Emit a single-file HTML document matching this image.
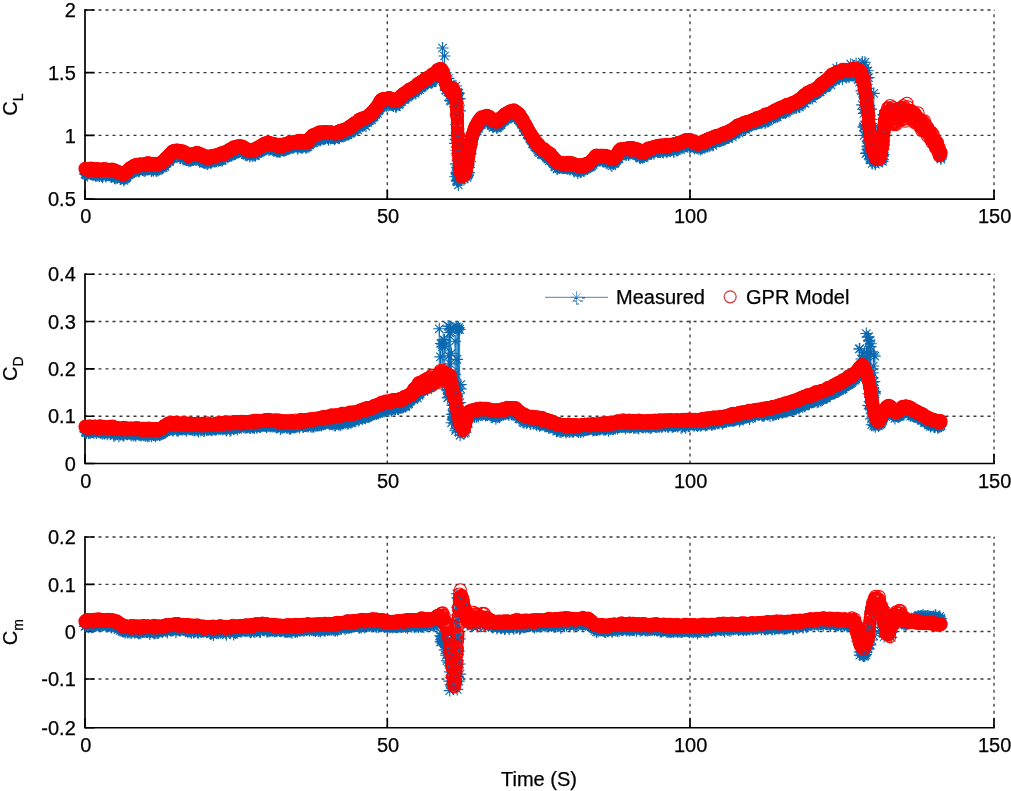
<!DOCTYPE html>
<html><head><meta charset="utf-8"><style>
html,body{margin:0;padding:0;background:#fff;}
body{width:1011px;height:791px;overflow:hidden;font-family:"Liberation Sans",sans-serif;}
svg{display:block;will-change:transform;}
</style></head><body>
<svg width="1011" height="791" viewBox="0 0 1011 791">
<defs>
<marker id="c" markerWidth="16" markerHeight="16" refX="8" refY="8" markerUnits="userSpaceOnUse" overflow="visible"><circle cx="8" cy="8" r="6" fill="none" stroke="#ff0000" stroke-width="1.1"/></marker>
<marker id="a" markerWidth="16" markerHeight="16" refX="8" refY="8" markerUnits="userSpaceOnUse" overflow="visible"><path d="M2 8H14M8 2V14M3.8 3.8L12.2 12.2M3.8 12.2L12.2 3.8" fill="none" stroke="#0a68b0" stroke-width="1.1"/></marker>
</defs>
<rect width="1011" height="791" fill="#fff"/>
<path d="M84.5 135.36H995.0" stroke="#383838" stroke-width="1.3" stroke-dasharray="3 4" fill="none"/>
<path d="M84.5 72.56H995.0" stroke="#383838" stroke-width="1.3" stroke-dasharray="3 4" fill="none"/>
<path d="M84.5 10.00H995.0" stroke="#383838" stroke-width="1.3" stroke-dasharray="3 4" fill="none"/>
<path d="M387.30 199.2V10.0" stroke="#383838" stroke-width="1.3" stroke-dasharray="3 4" fill="none"/>
<path d="M690.00 199.2V10.0" stroke="#383838" stroke-width="1.3" stroke-dasharray="3 4" fill="none"/>
<path d="M994.00 199.2V10.0" stroke="#383838" stroke-width="1.3" stroke-dasharray="3 4" fill="none"/>
<path d="M85.0 9.15V199.20H994.9" stroke="#000" stroke-width="1.7" fill="none"/>
<path d="M85.0 199.20h9.5M85.0 135.36h9.5M85.0 72.56h9.5M85.0 10.00h9.5M85.00 199.20v-9.5M387.30 199.20v-9.5M690.00 199.20v-9.5M994.00 199.20v-9.5" stroke="#000" stroke-width="1.7" fill="none"/>
<text x="75.8" y="206.3" text-anchor="end" font-family="Liberation Sans, sans-serif" stroke="#000" stroke-width="0.25" font-size="20">0.5</text>
<text x="75.8" y="142.5" text-anchor="end" font-family="Liberation Sans, sans-serif" stroke="#000" stroke-width="0.25" font-size="20">1</text>
<text x="75.8" y="79.7" text-anchor="end" font-family="Liberation Sans, sans-serif" stroke="#000" stroke-width="0.25" font-size="20">1.5</text>
<text x="75.8" y="17.1" text-anchor="end" font-family="Liberation Sans, sans-serif" stroke="#000" stroke-width="0.25" font-size="20">2</text>
<text x="85.7" y="223.4" text-anchor="middle" font-family="Liberation Sans, sans-serif" stroke="#000" stroke-width="0.25" font-size="20">0</text>
<text x="388.0" y="223.4" text-anchor="middle" font-family="Liberation Sans, sans-serif" stroke="#000" stroke-width="0.25" font-size="20">50</text>
<text x="690.7" y="223.4" text-anchor="middle" font-family="Liberation Sans, sans-serif" stroke="#000" stroke-width="0.25" font-size="20">100</text>
<text x="994.7" y="223.4" text-anchor="middle" font-family="Liberation Sans, sans-serif" stroke="#000" stroke-width="0.25" font-size="20">150</text>
<path d="M84.5 416.25H995.0" stroke="#383838" stroke-width="1.3" stroke-dasharray="3 4" fill="none"/>
<path d="M84.5 368.90H995.0" stroke="#383838" stroke-width="1.3" stroke-dasharray="3 4" fill="none"/>
<path d="M84.5 321.50H995.0" stroke="#383838" stroke-width="1.3" stroke-dasharray="3 4" fill="none"/>
<path d="M84.5 274.24H995.0" stroke="#383838" stroke-width="1.3" stroke-dasharray="3 4" fill="none"/>
<path d="M387.30 463.5V274.2" stroke="#383838" stroke-width="1.3" stroke-dasharray="3 4" fill="none"/>
<path d="M690.00 463.5V274.2" stroke="#383838" stroke-width="1.3" stroke-dasharray="3 4" fill="none"/>
<path d="M994.00 463.5V274.2" stroke="#383838" stroke-width="1.3" stroke-dasharray="3 4" fill="none"/>
<path d="M85.0 273.39V463.50H994.9" stroke="#000" stroke-width="1.7" fill="none"/>
<path d="M85.0 463.50h9.5M85.0 416.25h9.5M85.0 368.90h9.5M85.0 321.50h9.5M85.0 274.24h9.5M85.00 463.50v-9.5M994.00 463.50v-9.5" stroke="#000" stroke-width="1.7" fill="none"/>
<text x="75.8" y="470.6" text-anchor="end" font-family="Liberation Sans, sans-serif" stroke="#000" stroke-width="0.25" font-size="20">0</text>
<text x="75.8" y="423.4" text-anchor="end" font-family="Liberation Sans, sans-serif" stroke="#000" stroke-width="0.25" font-size="20">0.1</text>
<text x="75.8" y="376.0" text-anchor="end" font-family="Liberation Sans, sans-serif" stroke="#000" stroke-width="0.25" font-size="20">0.2</text>
<text x="75.8" y="328.6" text-anchor="end" font-family="Liberation Sans, sans-serif" stroke="#000" stroke-width="0.25" font-size="20">0.3</text>
<text x="75.8" y="281.3" text-anchor="end" font-family="Liberation Sans, sans-serif" stroke="#000" stroke-width="0.25" font-size="20">0.4</text>
<text x="85.7" y="487.7" text-anchor="middle" font-family="Liberation Sans, sans-serif" stroke="#000" stroke-width="0.25" font-size="20">0</text>
<text x="388.0" y="487.7" text-anchor="middle" font-family="Liberation Sans, sans-serif" stroke="#000" stroke-width="0.25" font-size="20">50</text>
<text x="690.7" y="487.7" text-anchor="middle" font-family="Liberation Sans, sans-serif" stroke="#000" stroke-width="0.25" font-size="20">100</text>
<text x="994.7" y="487.7" text-anchor="middle" font-family="Liberation Sans, sans-serif" stroke="#000" stroke-width="0.25" font-size="20">150</text>
<path d="M84.5 679.00H995.0" stroke="#383838" stroke-width="1.3" stroke-dasharray="3 4" fill="none"/>
<path d="M84.5 631.50H995.0" stroke="#383838" stroke-width="1.3" stroke-dasharray="3 4" fill="none"/>
<path d="M84.5 584.36H995.0" stroke="#383838" stroke-width="1.3" stroke-dasharray="3 4" fill="none"/>
<path d="M84.5 537.00H995.0" stroke="#383838" stroke-width="1.3" stroke-dasharray="3 4" fill="none"/>
<path d="M387.30 727.8V537.0" stroke="#383838" stroke-width="1.3" stroke-dasharray="3 4" fill="none"/>
<path d="M690.00 727.8V537.0" stroke="#383838" stroke-width="1.3" stroke-dasharray="3 4" fill="none"/>
<path d="M994.00 727.8V537.0" stroke="#383838" stroke-width="1.3" stroke-dasharray="3 4" fill="none"/>
<path d="M85.0 536.15V727.75H994.9" stroke="#000" stroke-width="1.7" fill="none"/>
<path d="M85.0 727.75h9.5M85.0 679.00h9.5M85.0 631.50h9.5M85.0 584.36h9.5M85.0 537.00h9.5M85.00 727.75v-9.5M387.30 727.75v-9.5M690.00 727.75v-9.5M994.00 727.75v-9.5" stroke="#000" stroke-width="1.7" fill="none"/>
<text x="75.8" y="734.9" text-anchor="end" font-family="Liberation Sans, sans-serif" stroke="#000" stroke-width="0.25" font-size="20">-0.2</text>
<text x="75.8" y="686.1" text-anchor="end" font-family="Liberation Sans, sans-serif" stroke="#000" stroke-width="0.25" font-size="20">-0.1</text>
<text x="75.8" y="638.6" text-anchor="end" font-family="Liberation Sans, sans-serif" stroke="#000" stroke-width="0.25" font-size="20">0</text>
<text x="75.8" y="591.5" text-anchor="end" font-family="Liberation Sans, sans-serif" stroke="#000" stroke-width="0.25" font-size="20">0.1</text>
<text x="75.8" y="544.1" text-anchor="end" font-family="Liberation Sans, sans-serif" stroke="#000" stroke-width="0.25" font-size="20">0.2</text>
<text x="85.7" y="752.0" text-anchor="middle" font-family="Liberation Sans, sans-serif" stroke="#000" stroke-width="0.25" font-size="20">0</text>
<text x="388.0" y="752.0" text-anchor="middle" font-family="Liberation Sans, sans-serif" stroke="#000" stroke-width="0.25" font-size="20">50</text>
<text x="690.7" y="752.0" text-anchor="middle" font-family="Liberation Sans, sans-serif" stroke="#000" stroke-width="0.25" font-size="20">100</text>
<text x="994.7" y="752.0" text-anchor="middle" font-family="Liberation Sans, sans-serif" stroke="#000" stroke-width="0.25" font-size="20">150</text>
<path d="M85.0 174.0L85.3 171.5L85.7 174.4L86.0 172.6L86.3 174.8L86.7 173.4L87.0 174.1L87.3 171.1L87.6 175.4L88.0 173.7L88.3 172.7L88.6 173.0L89.0 171.3L89.3 172.3L89.6 173.3L90.0 172.6L90.3 173.0L90.6 174.1L91.0 172.9L91.3 173.1L91.6 173.4L91.9 174.4L92.3 171.4L92.6 174.3L92.9 173.9L93.3 174.3L93.6 173.7L93.9 174.9L94.3 173.8L94.6 174.2L94.9 173.3L95.2 174.5L95.6 175.4L95.9 175.6L96.2 175.8L96.6 172.4L96.9 172.4L97.2 172.1L97.6 174.2L97.9 174.9L98.2 171.7L98.6 173.6L98.9 173.4L99.2 171.9L99.5 176.1L99.9 172.1L100.2 173.5L100.5 174.5L100.9 173.3L101.2 172.6L101.5 176.1L101.9 173.5L102.2 175.0L102.5 177.2L102.8 176.2L103.2 173.2L103.5 174.2L103.8 172.4L104.2 172.9L104.5 172.9L104.8 173.9L105.2 175.3L105.5 174.1L105.8 176.5L106.2 171.7L106.5 173.1L106.8 174.5L107.1 174.7L107.5 172.8L107.8 173.7L108.1 175.3L108.5 171.3L108.8 173.3L109.1 174.2L109.4 174.2L109.8 174.8L110.1 175.3L110.4 174.6L110.8 175.3L111.1 174.8L111.4 176.5L111.7 175.1L112.0 171.4L112.4 176.1L112.7 173.9L113.0 176.4L113.3 175.8L113.6 176.0L113.9 174.5L114.2 173.7L114.6 177.9L114.9 177.0L115.2 178.4L115.5 174.9L115.8 176.4L116.1 174.9L116.4 175.7L116.8 175.0L117.1 178.0L117.4 174.7L117.7 175.4L118.0 173.1L118.3 175.9L118.6 173.7L118.9 175.4L119.2 176.9L119.5 176.5L119.8 176.4L120.1 176.6L120.4 176.3L120.7 179.1L121.0 177.3L121.3 178.4L121.6 175.4L121.9 177.5L122.2 175.8L122.6 177.8L122.9 178.1L123.2 176.3L123.5 179.0L123.9 180.4L124.2 176.7L124.5 177.3L124.8 179.0L125.1 175.9L125.4 177.7L125.6 178.3L125.9 176.6L126.2 174.3L126.4 176.9L126.7 177.4L127.0 174.0L127.2 176.3L127.5 173.4L127.8 173.5L128.0 174.6L128.3 173.8L128.5 173.1L128.8 175.0L129.1 173.0L129.3 172.7L129.6 174.1L129.9 171.6L130.2 172.3L130.4 172.8L130.7 171.6L131.0 171.6L131.3 171.4L131.6 171.0L131.9 169.3L132.2 171.2L132.5 168.3L132.8 170.9L133.1 170.0L133.5 171.2L133.8 170.2L134.1 169.8L134.4 172.0L134.7 169.2L135.0 170.9L135.3 168.8L135.6 170.7L135.9 171.2L136.2 170.6L136.6 169.6L136.9 170.4L137.2 167.5L137.5 166.5L137.8 170.0L138.1 167.5L138.4 171.1L138.8 169.0L139.1 171.6L139.4 168.7L139.7 170.2L140.0 168.6L140.4 168.3L140.7 167.6L141.0 168.7L141.3 165.6L141.6 166.9L142.0 167.7L142.3 167.1L142.6 168.4L142.9 166.8L143.2 169.7L143.6 167.6L143.9 170.4L144.2 169.3L144.6 167.4L144.9 170.9L145.2 165.8L145.5 169.3L145.9 169.8L146.2 168.7L146.5 168.2L146.9 167.1L147.2 169.4L147.5 167.0L147.9 168.0L148.2 168.5L148.5 167.7L148.9 164.4L149.2 168.6L149.5 167.1L149.9 169.3L150.2 167.1L150.5 168.0L150.8 168.5L151.2 169.1L151.5 171.0L151.8 163.7L152.2 166.6L152.5 166.9L152.8 169.1L153.2 170.2L153.5 170.4L153.8 169.1L154.2 168.2L154.5 166.0L154.8 166.5L155.2 168.7L155.5 166.5L155.8 169.6L156.2 170.9L156.5 168.3L156.8 168.1L157.2 169.3L157.5 168.6L157.8 170.4L158.1 166.8L158.5 167.3L158.8 169.8L159.1 168.4L159.5 168.3L159.8 166.5L160.1 166.4L160.4 166.0L160.7 166.8L161.0 165.3L161.3 166.5L161.5 165.3L161.8 166.7L162.1 166.9L162.4 165.2L162.7 167.4L162.9 165.9L163.2 167.3L163.5 163.9L163.7 165.7L164.0 161.0L164.3 165.7L164.5 164.6L164.8 163.9L165.1 166.5L165.3 163.1L165.6 163.2L165.9 163.4L166.1 163.6L166.4 161.6L166.7 163.0L166.9 162.6L167.2 161.7L167.5 159.7L167.8 160.6L168.0 159.7L168.3 160.8L168.5 159.6L168.8 161.1L169.1 161.3L169.3 159.1L169.6 159.7L169.8 161.1L170.1 157.9L170.4 155.6L170.6 159.1L170.9 157.3L171.1 158.2L171.4 158.4L171.7 156.3L171.9 156.7L172.2 155.6L172.5 154.2L172.8 155.3L173.0 155.1L173.3 158.1L173.6 155.1L173.9 156.0L174.2 155.0L174.5 155.7L174.8 156.3L175.2 154.1L175.5 156.1L175.8 154.3L176.2 152.2L176.5 153.5L176.8 151.2L177.1 156.3L177.5 155.9L177.8 156.2L178.1 152.7L178.4 154.9L178.8 156.0L179.1 155.0L179.4 154.7L179.7 155.4L180.0 154.4L180.4 158.3L180.7 154.3L181.0 154.9L181.3 155.3L181.6 154.8L181.9 156.0L182.3 155.0L182.6 154.7L182.9 156.8L183.2 159.5L183.5 157.5L183.8 157.2L184.1 156.5L184.4 158.9L184.7 156.3L184.9 155.4L185.2 158.2L185.5 156.9L185.8 157.6L186.0 157.4L186.3 159.9L186.6 157.3L186.9 157.6L187.2 160.0L187.5 157.3L187.8 158.8L188.1 159.4L188.4 159.9L188.7 158.2L189.0 161.5L189.3 159.9L189.7 159.1L190.0 159.6L190.3 159.0L190.6 160.3L190.9 160.9L191.2 158.1L191.6 159.8L191.9 157.1L192.2 159.4L192.5 157.1L192.8 160.0L193.1 158.8L193.4 159.8L193.7 158.4L194.0 159.0L194.3 157.7L194.6 158.8L194.9 156.5L195.2 156.9L195.6 157.2L195.9 158.5L196.2 159.4L196.5 158.9L196.9 158.1L197.2 157.7L197.5 157.4L197.8 158.7L198.1 156.8L198.4 157.9L198.7 157.8L199.0 157.4L199.3 157.5L199.6 161.7L199.9 160.3L200.2 156.0L200.5 157.1L200.8 159.6L201.1 158.4L201.4 159.0L201.7 158.2L202.0 161.8L202.3 160.7L202.6 160.6L202.8 159.4L203.1 161.3L203.4 161.4L203.7 159.8L204.0 160.3L204.3 162.8L204.6 162.7L204.9 160.3L205.2 161.8L205.6 160.8L205.9 163.3L206.2 161.8L206.5 160.6L206.9 161.1L207.2 164.1L207.5 161.6L207.8 163.4L208.2 162.8L208.5 161.1L208.8 161.3L209.1 159.8L209.5 160.0L209.8 162.1L210.1 162.4L210.4 161.6L210.7 159.5L211.0 163.0L211.4 159.6L211.7 156.7L212.0 161.3L212.3 161.6L212.6 158.9L212.9 160.5L213.2 159.5L213.6 160.4L213.9 159.4L214.2 160.8L214.5 161.3L214.8 158.8L215.1 161.4L215.4 159.2L215.7 159.0L216.1 161.1L216.4 161.3L216.7 158.9L217.0 155.5L217.3 160.3L217.6 158.7L217.9 159.8L218.2 158.8L218.5 160.7L218.9 159.1L219.2 159.3L219.5 160.1L219.8 160.6L220.1 156.7L220.4 160.1L220.7 155.0L221.0 157.3L221.3 156.3L221.6 157.9L221.9 160.5L222.2 160.5L222.5 155.6L222.8 156.9L223.1 154.9L223.4 155.1L223.7 157.0L224.0 157.6L224.3 158.2L224.6 155.9L225.0 158.0L225.3 155.8L225.6 156.3L225.9 154.6L226.2 153.8L226.5 154.2L226.8 155.7L227.1 157.2L227.4 156.4L227.7 154.7L228.0 153.1L228.3 155.7L228.6 153.7L228.9 152.8L229.2 155.4L229.5 154.1L229.8 156.1L230.1 154.6L230.3 152.8L230.6 152.5L230.9 155.0L231.2 153.2L231.5 151.3L231.8 155.7L232.1 154.2L232.4 151.7L232.7 150.4L233.0 149.1L233.3 152.1L233.6 152.5L233.9 154.2L234.2 153.9L234.5 147.9L234.8 150.3L235.1 153.8L235.4 152.6L235.7 151.3L236.0 151.2L236.3 152.4L236.6 152.8L236.9 150.2L237.2 152.0L237.5 148.8L237.8 152.1L238.1 151.7L238.5 151.6L238.8 151.5L239.1 151.9L239.4 149.3L239.8 150.7L240.1 151.2L240.4 150.6L240.7 148.9L241.1 148.8L241.4 150.8L241.7 148.9L242.0 149.1L242.3 151.4L242.6 152.6L242.9 150.1L243.2 152.0L243.5 152.4L243.8 151.0L244.1 151.1L244.4 152.5L244.7 151.9L244.9 151.7L245.2 154.6L245.5 154.4L245.8 154.3L246.1 153.4L246.4 152.8L246.7 153.5L247.0 155.5L247.3 154.6L247.6 153.9L247.9 152.4L248.2 153.4L248.5 151.7L248.8 153.1L249.1 154.1L249.4 153.2L249.8 156.4L250.1 154.5L250.4 154.5L250.7 153.1L251.1 154.3L251.4 153.9L251.7 153.7L252.0 152.5L252.3 155.9L252.7 150.4L253.0 153.7L253.3 153.5L253.6 153.2L253.9 153.1L254.2 150.3L254.5 154.8L254.8 153.4L255.1 155.8L255.4 155.2L255.7 152.1L256.0 151.0L256.3 152.5L256.6 152.6L256.9 152.0L257.2 153.7L257.5 151.7L257.9 152.7L258.2 151.8L258.5 151.2L258.8 150.5L259.1 152.7L259.4 149.6L259.6 150.9L259.9 151.1L260.2 151.9L260.5 149.5L260.8 151.0L261.1 151.9L261.4 148.8L261.7 149.8L261.9 148.9L262.2 150.6L262.5 149.5L262.8 150.8L263.1 149.5L263.4 150.0L263.7 147.8L264.0 149.8L264.2 148.4L264.5 147.6L264.8 148.7L265.1 149.3L265.4 146.8L265.7 145.6L266.0 148.0L266.3 148.0L266.6 145.6L267.0 147.6L267.3 145.5L267.6 145.9L267.9 145.8L268.3 147.6L268.6 146.4L268.9 150.0L269.2 148.8L269.6 147.2L269.9 148.3L270.2 144.3L270.5 147.5L270.8 147.5L271.1 148.7L271.4 146.8L271.7 149.0L272.1 145.2L272.4 148.6L272.7 148.3L273.0 147.7L273.3 149.3L273.6 146.8L273.9 150.9L274.2 147.9L274.5 149.2L274.8 147.7L275.1 149.2L275.4 149.3L275.7 150.2L276.0 149.1L276.3 151.4L276.6 148.3L277.0 148.1L277.3 151.1L277.6 150.5L277.9 151.8L278.2 151.2L278.5 148.1L278.9 149.5L279.2 151.3L279.5 151.4L279.8 148.8L280.2 151.8L280.5 147.7L280.8 148.6L281.2 148.9L281.5 149.0L281.8 149.0L282.1 149.6L282.4 147.7L282.7 149.2L283.0 149.7L283.3 150.4L283.7 150.8L284.0 148.8L284.3 146.2L284.6 149.6L284.9 150.5L285.2 149.2L285.5 148.2L285.8 149.6L286.1 150.0L286.4 147.6L286.7 147.3L287.0 147.3L287.3 147.8L287.6 147.7L287.9 148.3L288.2 148.1L288.5 147.7L288.8 148.6L289.1 146.4L289.5 145.2L289.8 145.0L290.1 147.8L290.4 145.3L290.7 147.1L291.0 148.0L291.4 146.5L291.7 145.2L292.0 147.0L292.3 147.0L292.6 144.5L292.9 148.0L293.3 143.4L293.6 143.8L293.9 145.5L294.2 145.9L294.5 146.5L294.8 145.2L295.2 145.7L295.5 142.4L295.8 144.9L296.1 146.4L296.4 144.8L296.8 142.7L297.1 146.1L297.4 144.3L297.7 148.8L298.1 147.3L298.4 145.8L298.7 144.6L299.1 145.6L299.4 146.1L299.7 146.3L300.0 147.0L300.4 145.7L300.7 143.4L301.0 147.6L301.4 145.5L301.7 145.1L302.0 144.9L302.3 147.7L302.7 145.3L303.0 145.2L303.3 146.7L303.6 141.4L304.0 146.3L304.3 145.4L304.6 144.8L304.9 144.8L305.3 146.6L305.6 144.6L305.9 148.1L306.3 145.8L306.6 146.7L306.9 146.8L307.2 144.1L307.5 144.9L307.8 143.9L308.0 146.7L308.3 143.5L308.6 143.9L308.8 144.5L309.1 144.9L309.3 141.4L309.6 141.7L309.8 145.0L310.1 141.5L310.3 143.4L310.6 141.0L310.8 142.8L311.1 140.2L311.4 140.8L311.6 141.1L311.9 142.1L312.2 140.3L312.5 138.2L312.8 142.6L313.1 140.4L313.4 142.6L313.7 139.0L313.9 141.0L314.2 140.2L314.5 138.7L314.8 141.4L315.1 140.3L315.4 140.2L315.7 138.4L316.0 137.7L316.3 138.1L316.6 140.6L316.9 141.3L317.2 138.0L317.5 138.6L317.8 136.8L318.1 137.1L318.4 136.3L318.7 137.2L319.0 136.1L319.3 138.1L319.6 136.3L319.9 140.5L320.2 137.8L320.6 136.9L320.9 139.5L321.2 138.3L321.5 138.2L321.9 137.2L322.2 134.8L322.5 138.0L322.9 138.7L323.2 136.2L323.5 138.8L323.9 139.3L324.2 135.1L324.5 138.3L324.9 135.4L325.2 136.1L325.5 138.2L325.8 137.0L326.2 135.6L326.5 137.2L326.8 136.9L327.2 137.5L327.5 136.6L327.8 136.4L328.1 137.7L328.5 139.7L328.8 137.4L329.1 137.2L329.5 135.1L329.8 137.3L330.1 136.9L330.4 138.4L330.8 137.6L331.1 135.4L331.4 137.7L331.8 136.9L332.1 137.8L332.4 136.4L332.8 137.7L333.1 136.5L333.4 137.9L333.8 136.7L334.1 136.4L334.4 139.1L334.8 137.3L335.1 137.5L335.4 138.2L335.7 136.1L336.0 135.8L336.3 137.1L336.7 135.4L337.0 135.1L337.3 135.9L337.6 137.2L337.9 137.0L338.2 137.4L338.5 137.4L338.8 136.3L339.1 136.8L339.4 138.2L339.7 135.3L340.0 135.7L340.3 133.7L340.6 136.1L340.9 133.5L341.2 135.7L341.5 136.5L341.8 135.8L342.2 134.2L342.5 135.9L342.8 132.6L343.1 135.8L343.4 133.0L343.7 135.0L344.0 134.3L344.3 133.6L344.6 132.2L344.9 136.0L345.2 135.3L345.5 132.2L345.8 134.7L346.1 131.5L346.4 133.5L346.7 133.5L347.0 134.1L347.3 132.9L347.6 132.5L347.9 134.8L348.2 129.7L348.5 132.7L348.8 128.0L349.1 130.0L349.4 131.9L349.7 130.8L349.9 133.3L350.2 130.1L350.5 133.0L350.8 132.5L351.1 125.4L351.4 131.9L351.7 131.9L351.9 129.3L352.2 131.0L352.5 130.1L352.8 129.5L353.1 129.2L353.4 129.2L353.6 130.5L353.9 128.5L354.2 128.9L354.5 129.8L354.8 127.3L355.0 127.7L355.3 128.2L355.6 128.0L355.9 123.8L356.2 128.3L356.4 125.7L356.7 127.6L357.0 126.3L357.3 124.4L357.6 129.8L357.9 126.9L358.1 125.4L358.4 124.7L358.7 123.9L359.0 127.9L359.3 124.4L359.6 127.1L359.9 124.0L360.2 124.3L360.5 122.4L360.8 122.2L361.1 121.2L361.4 122.2L361.7 123.0L362.0 120.5L362.3 124.7L362.6 121.8L362.9 124.8L363.2 122.3L363.5 124.4L363.8 123.8L364.1 123.0L364.4 124.9L364.7 124.4L365.0 122.2L365.3 122.1L365.6 121.6L365.9 126.2L366.2 121.0L366.5 121.2L366.8 121.4L367.1 120.7L367.4 121.3L367.6 119.1L367.9 120.3L368.2 118.9L368.5 120.7L368.8 119.1L369.1 119.5L369.4 120.7L369.6 118.8L369.9 117.6L370.2 119.3L370.5 118.6L370.7 118.7L371.0 117.2L371.3 116.4L371.5 120.0L371.8 114.1L372.0 118.0L372.3 118.0L372.6 116.5L372.8 113.4L373.1 116.3L373.3 116.4L373.6 115.9L373.8 115.1L374.1 117.0L374.3 114.4L374.6 113.8L374.9 114.0L375.1 112.0L375.4 115.0L375.6 113.9L375.9 112.7L376.1 112.4L376.4 108.1L376.6 108.7L376.9 109.4L377.1 111.4L377.4 113.4L377.6 108.5L377.8 109.9L378.1 110.3L378.3 109.6L378.5 107.3L378.8 110.3L379.0 107.5L379.2 109.3L379.5 106.6L379.7 106.2L380.0 107.1L380.2 107.0L380.5 106.5L380.7 104.6L381.0 108.0L381.2 102.3L381.5 104.6L381.7 103.6L382.0 103.0L382.3 105.3L382.6 104.1L382.9 107.3L383.3 106.4L383.6 103.1L383.9 102.3L384.2 103.0L384.6 103.5L384.9 102.9L385.2 102.0L385.5 103.5L385.9 102.4L386.2 103.5L386.5 102.7L386.9 103.0L387.2 103.2L387.5 102.9L387.9 103.5L388.2 105.4L388.5 102.1L388.8 102.6L389.2 101.2L389.5 101.7L389.8 104.3L390.1 104.8L390.4 103.6L390.8 100.1L391.1 104.2L391.4 103.8L391.7 100.6L392.0 101.4L392.3 104.4L392.6 104.2L392.9 101.9L393.2 102.4L393.5 106.1L393.8 101.8L394.1 101.9L394.4 103.9L394.7 102.7L395.1 104.1L395.4 105.8L395.7 106.6L396.0 104.5L396.3 106.8L396.6 105.0L396.9 103.2L397.2 102.0L397.5 103.3L397.8 103.3L398.0 102.4L398.3 103.6L398.6 104.6L398.9 100.7L399.1 103.4L399.4 103.8L399.7 100.5L399.9 102.1L400.2 101.5L400.5 101.4L400.7 101.4L401.0 101.8L401.3 101.3L401.5 99.2L401.8 99.1L402.1 95.5L402.4 99.5L402.7 97.8L402.9 98.1L403.2 98.8L403.5 96.7L403.8 99.4L404.1 98.8L404.4 97.2L404.6 96.7L404.9 99.4L405.2 96.8L405.5 98.2L405.8 96.1L406.1 96.9L406.3 95.9L406.6 95.9L406.9 95.7L407.2 94.8L407.5 97.3L407.8 95.6L408.1 94.7L408.3 94.1L408.6 95.5L408.9 93.4L409.2 95.4L409.5 94.6L409.8 93.4L410.0 92.7L410.3 91.5L410.6 91.1L410.9 92.6L411.2 92.1L411.5 92.7L411.8 93.6L412.0 91.6L412.3 94.5L412.6 91.0L412.9 92.3L413.2 92.1L413.5 88.9L413.8 92.0L414.0 92.6L414.3 90.8L414.6 91.3L414.9 88.0L415.2 93.4L415.5 89.9L415.7 89.0L416.0 91.3L416.3 88.2L416.6 88.2L416.9 87.0L417.2 86.9L417.5 88.8L417.7 90.4L418.0 89.1L418.3 88.8L418.6 88.4L418.9 86.7L419.2 87.4L419.5 89.6L419.7 84.7L420.0 84.6L420.3 85.6L420.6 88.0L420.9 84.7L421.2 87.5L421.5 86.9L421.7 84.6L422.0 86.5L422.3 86.9L422.6 84.8L422.9 85.0L423.2 84.9L423.5 83.9L423.7 85.4L424.0 84.7L424.3 84.2L424.6 82.9L424.9 83.2L425.2 83.0L425.5 83.2L425.8 82.2L426.0 82.0L426.3 82.2L426.6 82.4L426.9 82.4L427.2 84.0L427.5 81.3L427.8 80.3L428.1 83.0L428.4 83.0L428.7 82.1L428.9 80.1L429.2 80.9L429.5 82.1L429.8 80.6L430.1 80.1L430.4 81.1L430.7 79.9L431.0 82.8L431.3 82.6L431.6 79.0L431.8 78.3L432.1 82.6L432.4 81.9L432.7 80.3L433.0 79.5L433.3 78.8L433.6 77.6L433.8 79.1L434.1 76.9L434.4 77.9L434.7 77.1L434.9 78.2L435.2 78.6L435.5 76.3L435.7 75.5L436.0 79.6L436.3 75.5L436.5 77.1L436.8 76.0L437.0 75.3L437.3 74.9L437.6 75.2L437.8 74.6L438.1 73.7L438.4 75.8L438.7 73.8L438.9 72.6L439.2 71.9L439.5 72.2L439.9 72.5L440.2 70.3L440.5 72.3L440.8 75.8L441.1 71.0L441.3 73.2L441.6 75.0L441.9 73.7L442.1 75.0L442.4 75.5L442.6 48.0L442.8 74.8L443.1 74.1L443.3 74.4L443.4 78.4L443.6 77.8L443.8 76.8L443.9 80.1L444.0 81.4L444.2 79.4L444.3 84.8L444.5 56.0L444.6 80.6L444.8 79.8L444.9 77.5L445.1 84.3L445.3 83.8L445.5 86.3L445.7 89.9L445.9 83.3L446.1 90.4L446.3 79.6L446.5 84.6L446.7 76.7L446.9 82.1L447.2 81.9L447.4 87.6L447.6 89.0L447.9 88.2L448.2 90.4L448.4 78.4L448.7 88.8L449.0 89.7L449.3 92.6L449.5 95.6L449.8 90.8L450.1 100.5L450.4 84.1L450.7 85.6L451.0 93.4L451.2 101.2L451.5 95.6L451.8 96.2L452.1 95.8L452.4 93.7L452.7 98.1L452.9 92.9L453.2 87.1L453.5 103.3L453.8 96.2L454.0 99.7L454.3 94.5L454.5 93.6L454.7 93.3L454.9 102.2L455.1 143.4L455.3 176.8L455.4 95.1L455.6 115.1L455.7 139.4L455.8 163.9L455.9 86.0L456.1 96.4L456.2 94.5L456.3 124.5L456.4 173.1L456.5 150.3L456.6 180.3L456.7 101.4L456.7 132.7L456.8 99.6L456.8 153.2L456.9 94.6L456.9 174.8L457.0 135.7L457.0 102.0L457.1 98.4L457.1 172.5L457.2 155.2L457.2 110.4L457.3 176.5L457.3 171.0L457.4 92.4L457.4 172.3L457.5 167.3L457.5 181.8L457.6 142.8L457.6 98.5L457.7 180.8L457.7 165.3L457.8 168.8L457.8 175.0L457.8 103.6L457.9 118.3L457.9 174.4L458.0 93.6L458.0 173.6L458.1 92.9L458.1 116.7L458.2 176.1L458.2 141.2L458.3 152.6L458.3 107.3L458.4 185.0L458.4 178.7L458.5 99.1L458.6 179.3L458.6 154.2L458.7 177.0L458.7 110.2L458.8 93.4L458.9 146.0L458.9 175.3L459.0 105.3L459.1 136.4L459.1 173.1L459.2 171.3L459.3 160.7L459.4 174.6L459.4 177.4L459.5 98.6L459.6 160.1L459.7 149.6L459.9 110.9L460.0 174.1L460.1 178.6L460.3 164.2L460.4 145.0L460.6 175.9L460.7 172.7L460.9 174.1L461.1 179.9L461.2 156.7L461.4 179.7L461.7 176.2L461.9 171.0L462.3 164.3L462.6 172.9L462.9 143.7L463.2 165.2L463.5 177.9L463.8 176.6L464.0 177.1L464.3 178.5L464.6 166.4L464.8 169.7L465.1 152.8L465.3 159.4L465.5 174.1L465.7 176.0L465.9 165.4L466.0 167.5L466.2 171.9L466.4 171.7L466.5 175.0L466.7 143.3L466.8 160.1L467.0 169.7L467.1 177.4L467.3 147.2L467.4 175.2L467.6 166.2L467.7 175.5L467.8 165.1L468.0 152.7L468.1 174.3L468.2 172.7L468.4 156.0L468.5 163.5L468.6 164.8L468.8 152.4L468.9 172.6L469.0 167.5L469.1 152.9L469.3 148.0L469.4 150.1L469.5 157.0L469.7 145.7L469.8 151.7L469.9 141.5L470.1 161.8L470.2 153.1L470.4 147.3L470.5 145.0L470.7 153.8L470.8 150.8L470.9 145.0L471.1 142.8L471.2 146.5L471.4 145.2L471.5 144.1L471.7 142.2L471.8 140.2L472.0 144.6L472.2 138.0L472.3 138.3L472.5 136.3L472.7 135.6L472.8 139.8L473.0 138.2L473.2 136.5L473.4 135.8L473.6 135.7L473.8 129.8L474.0 135.8L474.2 131.6L474.4 132.4L474.6 134.4L474.8 129.1L475.0 132.3L475.2 131.5L475.5 131.5L475.7 131.3L475.9 130.4L476.1 130.7L476.4 131.2L476.6 129.4L476.8 127.9L477.1 127.4L477.3 130.7L477.6 128.3L477.8 126.5L478.0 125.2L478.3 128.4L478.5 125.2L478.8 124.9L479.0 126.0L479.3 125.1L479.5 123.9L479.8 123.3L480.0 123.5L480.3 124.9L480.6 121.4L480.8 123.6L481.1 122.9L481.4 124.3L481.7 119.0L481.9 121.6L482.2 118.0L482.5 119.5L482.8 120.8L483.1 123.1L483.4 121.2L483.7 122.7L484.0 120.8L484.3 119.2L484.6 122.3L484.9 121.3L485.2 119.0L485.5 120.5L485.8 117.7L486.1 120.2L486.4 121.0L486.8 117.8L487.1 121.5L487.4 122.5L487.7 119.7L488.1 122.6L488.3 116.9L488.6 119.5L488.9 119.5L489.2 121.7L489.5 121.1L489.8 120.8L490.0 122.1L490.3 122.4L490.6 121.1L490.9 120.3L491.1 125.3L491.4 121.9L491.7 125.1L491.9 121.7L492.2 122.9L492.5 125.7L492.7 123.3L493.0 127.3L493.3 121.9L493.6 121.7L493.9 124.5L494.2 126.3L494.5 126.1L494.8 124.7L495.1 125.8L495.4 124.3L495.7 123.2L496.1 125.9L496.4 123.5L496.7 128.1L497.0 124.9L497.3 126.1L497.6 123.0L497.9 127.3L498.1 125.5L498.4 124.5L498.7 121.8L499.0 126.1L499.3 123.4L499.5 124.0L499.8 125.3L500.1 123.0L500.4 124.0L500.6 124.6L500.9 119.9L501.2 124.2L501.5 120.2L501.7 122.4L502.0 122.2L502.3 121.5L502.6 120.4L502.8 120.1L503.1 118.1L503.4 118.3L503.7 119.4L504.0 121.3L504.2 119.2L504.5 118.1L504.8 120.5L505.1 119.5L505.3 117.6L505.6 117.9L505.9 116.5L506.2 118.6L506.4 114.9L506.7 117.9L507.0 115.9L507.3 116.4L507.5 115.9L507.8 116.5L508.1 117.2L508.4 116.3L508.7 116.4L509.0 117.6L509.3 115.1L509.6 115.6L509.9 115.7L510.2 114.0L510.5 114.6L510.9 117.4L511.2 117.3L511.5 114.8L511.8 114.7L512.1 113.2L512.5 115.9L512.8 116.6L513.1 114.4L513.4 112.5L513.8 116.1L514.1 114.1L514.4 115.1L514.7 115.9L515.0 114.7L515.3 115.4L515.6 117.9L515.9 116.6L516.2 113.9L516.5 115.6L516.8 116.7L517.0 114.8L517.3 117.8L517.6 117.1L517.8 115.9L518.1 116.9L518.3 119.7L518.6 118.5L518.9 119.5L519.1 120.0L519.4 118.3L519.6 121.1L519.9 118.5L520.2 120.0L520.4 120.2L520.7 122.2L520.9 121.5L521.2 119.9L521.4 123.2L521.6 122.4L521.9 124.4L522.1 123.6L522.3 122.7L522.6 122.3L522.8 121.9L523.0 120.7L523.3 125.9L523.5 127.4L523.7 127.7L524.0 127.0L524.2 126.3L524.4 127.9L524.6 127.9L524.9 128.3L525.1 130.1L525.3 130.2L525.6 128.8L525.8 128.8L526.0 130.3L526.3 131.5L526.5 131.1L526.7 131.4L526.9 130.9L527.2 134.5L527.4 133.7L527.6 131.7L527.9 134.2L528.1 133.4L528.3 133.7L528.6 135.4L528.8 135.2L529.0 134.3L529.3 135.3L529.5 135.8L529.7 138.1L530.0 136.2L530.2 138.5L530.4 137.9L530.7 138.1L530.9 137.5L531.2 139.5L531.4 139.7L531.6 139.2L531.9 139.2L532.1 140.1L532.3 140.1L532.6 143.7L532.8 142.0L533.1 141.7L533.3 144.1L533.5 142.4L533.8 141.9L534.0 143.3L534.3 143.8L534.5 144.5L534.8 146.2L535.0 146.3L535.2 145.4L535.5 145.3L535.7 147.0L536.0 146.9L536.2 146.4L536.5 146.1L536.7 147.5L537.0 147.3L537.2 146.9L537.5 147.3L537.7 149.7L538.0 146.7L538.2 151.6L538.5 148.8L538.8 151.4L539.0 148.9L539.3 149.0L539.6 152.6L539.8 150.1L540.1 150.1L540.4 149.4L540.6 150.5L540.9 150.1L541.2 151.2L541.5 154.0L541.7 154.3L542.0 147.3L542.3 153.5L542.6 154.8L542.9 153.5L543.1 153.1L543.4 152.8L543.7 151.6L544.0 151.6L544.3 155.0L544.6 153.4L544.9 153.6L545.2 153.5L545.4 154.3L545.7 154.1L546.0 155.1L546.3 156.6L546.6 157.5L546.9 156.6L547.2 156.9L547.5 156.8L547.7 158.1L548.0 159.1L548.3 157.3L548.6 155.7L548.9 158.4L549.2 159.0L549.4 161.0L549.7 157.5L550.0 157.1L550.3 156.6L550.5 157.9L550.8 159.6L551.1 160.2L551.3 159.6L551.6 160.4L551.8 158.7L552.1 161.5L552.4 159.7L552.6 161.3L552.9 162.4L553.1 161.7L553.4 161.6L553.6 163.8L553.9 162.8L554.1 163.3L554.4 163.8L554.6 166.3L554.9 163.6L555.2 164.5L555.4 166.9L555.7 164.2L555.9 164.7L556.2 164.1L556.5 164.3L556.7 165.9L557.0 169.0L557.3 168.6L557.6 168.0L557.9 165.7L558.1 167.2L558.4 166.5L558.7 167.6L559.1 166.2L559.4 167.3L559.7 168.1L560.0 165.4L560.4 167.1L560.7 166.5L561.0 167.1L561.4 167.2L561.7 164.2L562.0 167.2L562.4 168.1L562.7 165.8L563.0 164.0L563.4 168.2L563.7 167.0L564.0 166.4L564.4 165.8L564.7 167.9L565.0 167.0L565.4 167.1L565.7 168.0L566.0 167.5L566.4 168.3L566.7 167.5L567.0 161.9L567.4 168.7L567.7 166.6L568.0 165.3L568.4 166.7L568.7 168.2L569.0 168.0L569.4 166.7L569.7 166.4L570.0 169.5L570.4 166.9L570.7 167.4L571.0 165.8L571.3 163.4L571.6 167.3L571.9 165.8L572.3 168.8L572.6 166.7L572.9 165.2L573.2 168.1L573.5 170.3L573.8 170.3L574.1 166.5L574.4 167.8L574.7 169.6L575.0 165.9L575.3 167.9L575.6 168.9L575.9 170.3L576.3 169.3L576.6 169.1L576.9 167.6L577.2 168.5L577.5 170.2L577.8 173.1L578.1 170.9L578.5 170.2L578.8 169.5L579.1 171.0L579.4 169.7L579.8 169.9L580.1 168.3L580.4 172.3L580.7 170.0L581.1 168.9L581.4 168.8L581.7 170.2L582.0 169.8L582.3 168.7L582.7 167.6L583.0 169.7L583.3 170.4L583.6 170.6L583.9 170.2L584.2 168.9L584.5 164.9L584.8 168.3L585.1 169.5L585.4 167.7L585.7 166.8L586.0 167.0L586.3 167.5L586.6 166.1L586.9 168.4L587.2 167.6L587.5 167.6L587.8 166.3L588.1 166.8L588.4 166.3L588.7 167.4L589.0 165.7L589.3 166.4L589.6 166.5L589.9 166.3L590.2 167.1L590.5 166.3L590.7 165.0L591.0 165.3L591.3 165.6L591.5 165.9L591.8 164.0L592.1 163.9L592.3 162.8L592.6 164.3L592.8 163.6L593.1 164.5L593.4 161.9L593.6 161.8L593.9 162.3L594.1 161.6L594.4 161.7L594.7 160.7L594.9 161.0L595.2 161.9L595.5 160.6L595.8 162.1L596.1 159.7L596.4 157.4L596.7 161.0L597.0 158.9L597.3 159.9L597.6 159.8L598.0 159.9L598.3 158.7L598.6 158.3L599.0 159.0L599.3 160.3L599.6 158.4L600.0 158.3L600.3 159.1L600.6 160.2L601.0 158.5L601.3 158.3L601.6 158.9L601.9 159.5L602.3 159.7L602.6 160.9L602.9 158.7L603.2 161.2L603.6 159.3L603.9 161.6L604.2 161.3L604.5 159.0L604.9 160.2L605.2 158.9L605.5 160.7L605.8 160.7L606.1 162.8L606.5 158.6L606.8 161.0L607.1 161.7L607.4 159.7L607.7 160.6L608.0 160.7L608.3 160.8L608.6 159.8L608.9 160.8L609.2 159.9L609.5 163.0L609.8 162.2L610.1 162.9L610.4 162.3L610.7 164.6L611.0 162.5L611.3 162.3L611.6 161.6L611.9 165.9L612.3 159.6L612.6 163.1L612.9 162.6L613.2 161.9L613.5 164.0L613.8 162.6L614.1 162.5L614.4 162.9L614.7 163.1L614.9 161.2L615.2 163.0L615.4 160.3L615.7 161.3L615.9 160.6L616.2 160.9L616.4 158.3L616.6 159.5L616.9 159.8L617.1 157.3L617.3 159.0L617.6 158.4L617.8 158.2L618.0 157.1L618.3 157.9L618.5 155.2L618.7 155.7L619.0 159.0L619.2 155.4L619.5 154.8L619.7 152.8L620.0 152.5L620.3 153.1L620.6 152.0L620.9 154.7L621.2 153.1L621.5 152.5L621.8 155.5L622.2 152.9L622.5 153.6L622.8 153.4L623.1 151.3L623.5 154.2L623.8 154.2L624.1 152.4L624.4 152.1L624.8 152.3L625.1 154.4L625.4 152.7L625.7 153.4L626.0 152.7L626.4 155.0L626.7 153.6L627.0 152.9L627.4 152.8L627.7 151.1L628.0 151.7L628.3 153.7L628.7 155.1L629.0 153.7L629.3 152.1L629.7 151.7L630.0 150.3L630.3 153.3L630.6 153.0L631.0 152.0L631.3 151.3L631.6 151.5L632.0 151.2L632.3 151.9L632.6 153.2L633.0 151.5L633.3 152.0L633.6 152.1L633.9 153.3L634.3 154.2L634.6 148.7L634.9 153.1L635.2 153.6L635.5 154.6L635.8 153.8L636.1 153.7L636.4 151.8L636.7 153.4L637.0 151.6L637.3 155.6L637.6 153.4L637.9 152.4L638.2 154.9L638.5 153.0L638.8 154.6L639.1 154.8L639.4 157.1L639.7 157.7L640.0 154.2L640.3 158.2L640.6 154.4L640.9 154.8L641.2 155.8L641.5 156.9L641.8 156.7L642.1 155.6L642.5 154.4L642.8 158.0L643.1 156.2L643.4 156.3L643.7 153.1L644.0 155.6L644.3 157.1L644.6 154.3L644.9 154.9L645.2 155.1L645.5 154.9L645.8 153.1L646.1 152.8L646.4 152.4L646.7 155.3L646.9 153.1L647.2 154.8L647.5 155.6L647.8 153.6L648.1 151.7L648.4 150.9L648.7 152.4L649.0 153.8L649.3 151.0L649.6 152.4L649.9 152.6L650.2 152.1L650.5 152.5L650.9 151.2L651.2 153.1L651.5 153.0L651.8 152.5L652.1 151.4L652.4 150.2L652.7 149.5L653.0 149.7L653.3 150.9L653.6 152.2L654.0 153.7L654.3 151.4L654.6 148.5L654.9 150.9L655.2 150.0L655.5 150.2L655.8 150.6L656.2 149.6L656.5 150.4L656.8 148.7L657.1 149.1L657.4 149.0L657.7 151.7L658.1 150.9L658.4 150.0L658.7 152.1L659.0 149.7L659.4 149.5L659.7 149.0L660.0 151.9L660.3 151.9L660.7 149.2L661.0 150.2L661.3 147.4L661.6 150.5L662.0 149.7L662.3 152.1L662.6 148.9L662.9 149.4L663.3 152.6L663.6 146.6L663.9 150.4L664.2 147.7L664.6 149.0L664.9 150.5L665.2 148.9L665.5 149.8L665.9 147.8L666.2 150.9L666.5 148.6L666.8 152.3L667.2 149.6L667.5 149.6L667.8 151.1L668.1 149.1L668.5 148.8L668.8 150.1L669.1 150.3L669.4 147.2L669.8 150.7L670.1 150.0L670.4 150.4L670.7 149.0L671.0 149.9L671.4 149.3L671.7 150.0L672.0 148.6L672.3 148.5L672.6 149.6L673.0 147.7L673.3 148.1L673.6 150.9L673.9 152.0L674.2 146.9L674.5 146.5L674.9 148.9L675.2 147.9L675.5 148.7L675.8 146.2L676.1 147.6L676.4 150.6L676.8 146.4L677.1 147.6L677.4 146.8L677.7 147.8L678.0 147.1L678.3 149.7L678.6 145.7L679.0 148.3L679.3 148.5L679.6 147.9L679.9 148.1L680.2 144.4L680.5 145.9L680.8 144.9L681.1 145.9L681.4 144.4L681.7 147.2L682.0 144.6L682.3 145.1L682.6 144.1L682.9 144.9L683.2 144.0L683.5 143.2L683.8 142.8L684.1 148.3L684.4 143.9L684.7 145.7L685.0 142.3L685.3 145.2L685.6 144.7L685.9 146.3L686.3 145.4L686.6 144.9L686.9 143.6L687.2 144.3L687.5 143.7L687.9 144.5L688.2 144.7L688.5 143.3L688.9 144.5L689.2 145.4L689.5 143.2L689.8 147.9L690.1 145.1L690.4 145.3L690.7 145.8L691.0 146.4L691.3 145.0L691.6 143.9L691.9 146.3L692.2 145.4L692.5 144.7L692.8 144.3L693.1 145.7L693.4 146.8L693.7 146.6L694.0 143.9L694.3 148.6L694.6 147.5L694.9 147.4L695.2 145.7L695.5 147.1L695.8 147.2L696.1 144.0L696.5 146.0L696.8 145.2L697.1 147.6L697.4 143.2L697.7 145.9L698.1 148.8L698.4 147.3L698.7 147.3L699.0 144.2L699.4 147.1L699.7 145.8L700.0 148.3L700.3 148.4L700.6 149.4L700.9 145.8L701.2 146.2L701.5 146.0L701.8 147.9L702.1 148.4L702.4 145.1L702.7 147.5L703.0 146.8L703.3 145.6L703.6 145.0L703.9 143.6L704.2 144.7L704.5 145.5L704.8 145.9L705.1 146.2L705.4 146.2L705.7 144.6L706.0 144.2L706.3 142.2L706.6 143.3L706.9 142.0L707.2 143.1L707.5 146.4L707.8 141.5L708.1 142.7L708.4 145.5L708.7 141.6L709.0 141.4L709.3 143.7L709.6 144.2L709.9 146.3L710.2 140.2L710.5 142.4L710.8 142.0L711.1 143.3L711.4 140.3L711.7 143.6L712.0 141.8L712.3 142.7L712.6 142.7L712.9 145.4L713.2 142.3L713.6 141.9L713.9 141.7L714.2 142.1L714.5 141.7L714.8 140.6L715.1 140.7L715.4 141.5L715.7 139.3L716.0 140.5L716.3 140.9L716.6 141.9L716.9 140.9L717.2 140.5L717.5 139.9L717.8 140.1L718.1 141.0L718.4 138.0L718.7 138.2L719.0 141.3L719.4 140.3L719.7 141.6L720.0 137.9L720.3 140.9L720.6 139.3L720.9 139.0L721.2 138.0L721.5 138.8L721.8 140.7L722.2 138.4L722.5 138.7L722.8 139.4L723.1 139.2L723.4 134.1L723.7 138.2L724.0 138.9L724.3 138.1L724.6 137.3L724.9 139.4L725.3 138.1L725.6 139.1L725.9 137.1L726.2 136.4L726.5 137.5L726.8 134.5L727.1 137.3L727.4 137.1L727.7 137.9L728.0 138.1L728.3 135.7L728.6 136.4L728.9 136.2L729.2 135.2L729.5 135.7L729.8 135.7L730.1 134.2L730.4 134.0L730.6 134.8L730.9 132.8L731.2 135.0L731.5 134.5L731.8 133.1L732.1 133.8L732.3 137.0L732.6 131.8L732.9 133.2L733.2 132.4L733.5 133.8L733.8 132.2L734.0 131.7L734.3 133.5L734.6 131.4L734.9 131.8L735.2 132.0L735.5 133.1L735.7 128.5L736.0 133.2L736.3 133.2L736.6 130.7L736.9 130.3L737.2 130.9L737.4 127.3L737.7 128.2L738.0 129.7L738.3 129.3L738.6 127.7L738.9 132.9L739.2 128.6L739.5 130.4L739.8 128.4L740.1 129.3L740.4 127.3L740.7 129.7L741.0 129.6L741.3 126.7L741.6 128.5L741.9 128.1L742.2 127.6L742.5 126.3L742.8 128.6L743.1 126.4L743.4 128.1L743.8 126.1L744.1 127.9L744.4 128.3L744.7 127.9L745.0 127.3L745.3 127.4L745.6 129.4L745.9 128.5L746.2 127.5L746.5 125.9L746.8 126.4L747.2 125.3L747.5 126.8L747.8 127.4L748.1 126.1L748.4 125.3L748.7 125.4L749.0 126.0L749.3 125.0L749.6 126.0L749.9 124.1L750.2 123.4L750.5 124.5L750.8 122.4L751.1 125.1L751.4 124.0L751.7 123.7L752.1 125.0L752.4 123.4L752.7 123.7L753.0 122.3L753.3 124.5L753.6 122.5L753.9 123.8L754.2 124.3L754.5 123.6L754.8 124.2L755.1 122.5L755.4 123.7L755.7 123.2L756.0 122.8L756.3 124.3L756.6 122.4L756.9 121.6L757.2 122.5L757.5 123.3L757.8 121.7L758.1 123.5L758.4 121.3L758.7 122.4L759.0 122.2L759.3 122.8L759.6 121.4L759.9 119.6L760.2 122.2L760.5 119.8L760.8 118.8L761.1 122.6L761.5 120.9L761.8 122.9L762.1 119.9L762.4 121.7L762.7 120.1L763.0 119.9L763.3 120.2L763.6 121.3L763.9 120.0L764.2 118.6L764.5 121.1L764.8 119.4L765.1 122.9L765.4 121.3L765.7 120.7L766.0 119.9L766.3 117.8L766.6 118.7L766.9 119.8L767.2 121.7L767.5 119.1L767.8 118.6L768.1 119.1L768.4 116.6L768.7 120.9L769.0 116.2L769.3 116.4L769.6 115.9L769.9 116.9L770.2 116.3L770.5 117.6L770.8 118.4L771.1 118.0L771.4 117.1L771.7 115.7L772.0 115.7L772.3 113.8L772.6 114.5L772.9 115.4L773.2 113.8L773.5 118.0L773.8 115.7L774.1 117.0L774.3 113.3L774.6 115.7L774.9 114.1L775.2 117.6L775.5 115.4L775.8 116.4L776.1 114.1L776.4 112.2L776.7 115.2L777.0 112.8L777.3 116.9L777.6 111.7L777.9 113.5L778.2 113.5L778.5 113.4L778.8 111.6L779.1 114.4L779.4 113.2L779.7 114.1L780.0 114.4L780.3 109.4L780.6 111.0L780.9 112.8L781.2 111.2L781.5 112.2L781.8 110.9L782.1 112.3L782.4 111.5L782.7 110.5L783.0 110.1L783.3 111.3L783.6 111.2L783.9 112.4L784.2 110.5L784.5 111.9L784.8 109.7L785.1 110.2L785.4 113.1L785.7 108.8L786.0 110.3L786.3 107.9L786.6 112.2L786.9 109.6L787.3 109.8L787.6 108.1L787.9 107.0L788.2 109.0L788.5 107.6L788.8 107.8L789.1 109.1L789.4 107.2L789.7 105.6L790.0 107.0L790.3 107.8L790.6 106.9L790.9 109.4L791.2 108.8L791.5 107.4L791.8 105.9L792.1 106.0L792.4 105.0L792.7 107.1L793.0 108.9L793.3 104.5L793.6 105.9L793.9 107.2L794.2 106.3L794.5 106.5L794.8 105.3L795.1 104.0L795.4 106.2L795.7 105.0L796.0 104.3L796.3 108.1L796.6 104.1L796.8 104.3L797.1 103.2L797.4 103.3L797.7 102.9L798.0 103.5L798.3 102.7L798.6 106.6L798.9 105.3L799.2 104.3L799.5 107.0L799.8 103.4L800.1 105.1L800.3 101.5L800.6 99.9L800.9 103.7L801.2 100.8L801.5 101.5L801.7 102.3L802.0 102.2L802.3 102.7L802.6 100.6L802.9 102.1L803.1 102.5L803.4 102.8L803.7 100.1L804.0 100.9L804.2 97.0L804.5 98.1L804.8 99.7L805.1 103.5L805.3 99.9L805.6 97.2L805.9 99.6L806.2 95.7L806.4 99.8L806.7 99.6L807.0 95.6L807.3 98.5L807.6 96.0L807.8 96.7L808.1 96.0L808.4 96.6L808.7 96.5L809.0 94.7L809.3 97.5L809.6 93.7L809.9 95.1L810.2 98.2L810.5 97.3L810.8 96.6L811.1 96.0L811.4 94.3L811.7 94.7L812.0 93.8L812.3 98.4L812.6 94.6L812.9 95.3L813.2 95.9L813.5 95.3L813.8 92.5L814.1 95.0L814.4 93.1L814.7 94.3L815.0 94.2L815.3 94.3L815.6 94.2L815.8 91.7L816.1 93.1L816.4 92.9L816.7 93.3L817.0 93.2L817.3 92.5L817.5 92.2L817.8 90.9L818.1 90.7L818.4 91.3L818.7 91.9L818.9 89.8L819.2 90.1L819.5 90.5L819.8 91.8L820.0 88.3L820.3 91.9L820.6 89.5L820.9 88.8L821.1 87.8L821.4 89.2L821.7 88.3L822.0 86.8L822.2 90.1L822.5 86.7L822.8 87.9L823.0 86.3L823.3 87.6L823.6 86.9L823.9 84.6L824.1 85.1L824.4 83.3L824.7 86.5L824.9 87.8L825.2 87.3L825.5 87.4L825.8 87.1L826.0 87.1L826.3 86.8L826.6 83.5L826.9 85.8L827.1 82.9L827.4 84.6L827.7 82.5L828.0 83.2L828.2 83.5L828.5 84.1L828.8 82.9L829.0 79.7L829.3 82.6L829.6 83.7L829.8 81.6L830.1 78.8L830.4 82.1L830.7 79.8L830.9 84.8L831.2 78.3L831.5 79.7L831.8 78.8L832.1 78.5L832.4 79.1L832.6 80.4L832.9 77.9L833.2 80.2L833.5 77.6L833.8 75.3L834.1 79.6L834.4 76.4L834.7 79.5L835.0 78.9L835.3 79.6L835.5 78.3L835.8 80.5L836.1 77.1L836.4 76.9L836.7 68.1L837.0 77.6L837.3 77.0L837.6 76.9L837.9 75.1L838.2 75.0L838.6 78.7L838.9 76.6L839.2 74.3L839.5 75.6L839.8 75.9L840.1 74.5L840.4 76.7L840.7 74.4L841.0 75.7L841.3 75.5L841.7 74.6L842.0 75.0L842.3 75.6L842.6 79.2L842.9 74.1L843.2 73.3L843.6 73.5L843.9 76.1L844.2 74.8L844.5 72.3L844.8 74.7L845.2 71.6L845.5 75.4L845.8 72.4L846.1 75.8L846.5 72.1L846.8 76.6L847.1 73.2L847.4 75.3L847.8 74.1L848.1 76.2L848.4 74.2L848.7 75.8L849.1 77.1L849.4 72.9L849.7 74.6L850.0 74.6L850.4 73.2L850.7 64.2L851.0 72.6L851.3 74.8L851.6 75.4L852.0 73.6L852.3 71.8L852.6 71.2L852.9 75.1L853.2 73.2L853.5 75.2L853.9 71.8L854.2 72.3L854.5 74.4L854.8 72.0L855.1 75.2L855.5 71.8L855.8 75.7L856.1 63.5L856.5 75.7L856.8 74.5L857.1 71.7L857.4 74.6L857.7 75.7L858.0 71.3L858.3 75.9L858.5 79.6L858.8 75.5L859.1 72.9L859.3 78.1L859.6 82.2L859.9 73.8L860.1 75.7L860.4 74.5L860.6 78.3L860.8 81.4L861.1 79.9L861.3 77.9L861.5 90.9L861.7 78.1L861.9 74.4L862.1 104.9L862.3 62.1L862.5 93.2L862.7 80.8L862.8 68.5L863.0 72.5L863.1 109.3L863.3 89.3L863.5 126.7L863.6 89.3L863.8 127.3L863.9 113.4L864.1 135.4L864.2 70.1L864.4 76.2L864.5 78.4L864.7 124.9L864.8 125.5L864.9 62.3L865.1 98.3L865.2 109.9L865.3 77.1L865.5 83.0L865.6 92.6L865.7 92.4L865.8 67.6L865.9 153.4L866.0 109.4L866.2 100.2L866.3 113.4L866.4 90.4L866.5 128.4L866.6 129.4L866.7 153.1L866.8 131.2L866.9 91.5L867.0 109.9L867.1 126.5L867.2 78.2L867.3 127.8L867.4 146.1L867.5 136.8L867.6 100.3L867.7 70.8L867.8 141.6L867.9 131.9L867.9 102.2L868.0 146.9L868.1 140.2L868.2 88.4L868.3 118.3L868.4 148.8L868.5 123.5L868.6 77.6L868.7 143.5L868.7 143.1L868.8 108.0L868.9 115.2L869.0 140.2L869.2 152.6L869.3 146.2L869.4 154.0L869.5 129.4L869.6 153.2L869.7 119.3L869.8 159.2L869.9 109.5L870.0 141.6L870.1 151.3L870.2 137.5L870.4 158.5L870.5 158.2L870.6 160.0L870.7 132.0L870.9 157.2L871.0 109.1L871.2 155.0L871.3 156.5L871.5 119.5L871.6 155.4L871.8 157.3L872.0 127.7L872.1 143.6L872.3 163.4L872.5 152.1L872.6 127.3L872.8 139.1L873.0 129.6L873.2 152.6L873.4 158.4L873.6 160.1L873.8 93.4L874.0 155.7L874.2 157.5L874.4 143.1L874.6 162.6L874.8 157.1L875.0 160.6L875.2 162.0L875.4 164.2L875.6 159.3L875.9 138.6L876.1 152.7L876.4 148.7L876.6 159.3L876.9 156.8L877.2 161.8L877.6 142.3L877.9 161.3L878.2 159.0L878.5 161.3L878.8 158.9L879.1 155.7L879.3 132.0L879.6 153.8L879.9 159.4L880.2 157.7L880.4 157.6L880.6 158.2L880.7 152.8L880.9 153.9L881.0 158.1L881.2 160.9L881.3 156.4L881.5 150.6L881.6 150.4L881.7 155.3L881.9 139.4L882.0 125.9L882.1 149.6L882.2 158.9L882.3 155.4L882.4 140.0L882.5 155.5L882.6 161.4L882.7 152.5L882.8 156.4L882.9 159.5L883.0 125.1L883.0 124.2L883.1 136.7L883.2 139.8L883.3 114.6L883.4 127.1L883.5 154.4L883.5 149.5L883.6 145.7L883.7 130.8L883.8 128.7L883.9 128.5L884.0 144.9L884.1 126.0L884.2 115.5L884.3 136.8L884.4 130.8L884.5 126.5L884.6 118.8L884.7 126.6L884.8 119.5L884.9 121.8L885.0 118.6L885.1 117.6L885.3 117.2L885.4 113.8L885.5 114.8L885.6 112.0L885.8 115.3L886.0 115.7L886.2 113.4L886.4 115.8L886.6 111.3L886.8 113.8L887.1 111.2L887.3 108.5L887.6 111.2L887.8 112.0L888.1 109.7L888.3 110.2L888.6 109.4L889.0 109.6L889.3 109.4L889.6 111.5L889.9 107.9L890.2 111.1L890.4 111.1L890.7 111.9L891.0 108.6L891.2 111.1L891.5 108.8L891.7 113.2L892.0 111.9L892.2 113.4L892.5 112.9L892.8 111.5L893.1 112.1L893.3 114.2L893.6 115.2L894.0 112.4L894.3 113.6L894.6 113.2L894.9 115.0L895.2 113.1L895.4 114.0L895.7 110.9L896.0 114.4L896.2 112.3L896.5 114.8L896.8 111.4L897.0 110.1L897.3 110.9L897.6 112.6L897.9 109.7L898.2 108.1L898.5 109.2L898.8 111.0L899.1 110.3L899.4 107.6L899.7 107.4L900.1 111.4L900.4 107.8L900.7 110.2L901.0 110.2L901.3 110.6L901.6 110.8L902.0 110.2L902.3 108.5L902.6 111.5L903.0 107.8L903.3 111.2L903.6 108.4L903.9 110.2L904.2 108.7L904.5 112.3L904.8 109.8L905.1 107.7L905.4 110.8L905.7 111.1L906.0 108.9L906.3 110.3L906.6 110.1L906.9 112.5L907.2 113.1L907.4 114.5L907.7 112.1L908.0 114.2L908.3 115.4L908.6 112.1L908.8 112.6L909.1 114.5L909.4 111.6L909.7 114.5L910.0 116.6L910.2 114.5L910.5 112.7L910.8 115.0L911.1 114.3L911.4 118.5L911.6 114.7L911.9 116.1L912.2 115.0L912.5 115.6L912.7 115.6L913.0 118.1L913.3 116.7L913.6 115.7L913.8 118.5L914.1 117.9L914.4 118.2L914.6 118.2L914.9 121.1L915.2 118.7L915.4 120.8L915.7 117.7L916.0 120.1L916.2 121.3L916.5 120.7L916.8 119.3L917.0 121.5L917.3 121.6L917.6 123.4L917.8 119.2L918.1 119.3L918.4 121.4L918.6 121.0L918.9 124.0L919.2 121.7L919.4 121.5L919.7 123.6L919.9 121.8L920.2 122.2L920.4 120.9L920.7 124.0L921.0 125.2L921.2 124.7L921.5 126.3L921.7 124.2L922.0 125.7L922.2 126.8L922.5 127.1L922.7 124.7L923.0 127.1L923.2 128.1L923.5 127.9L923.8 129.0L924.0 128.2L924.3 128.6L924.5 128.8L924.8 130.4L925.0 130.9L925.3 129.5L925.6 128.1L925.8 131.1L926.1 130.7L926.3 132.5L926.6 131.8L926.9 133.2L927.1 133.5L927.4 134.2L927.7 134.7L927.9 133.5L928.2 131.7L928.4 134.3L928.7 133.5L929.0 134.8L929.2 131.6L929.5 134.1L929.7 136.1L930.0 133.5L930.2 135.8L930.5 137.2L930.7 138.1L931.0 138.9L931.2 134.5L931.4 136.2L931.7 138.4L931.9 137.9L932.1 137.9L932.4 139.4L932.6 139.8L932.8 139.0L933.1 139.6L933.3 141.6L933.5 139.6L933.7 139.4L934.0 144.7L934.2 142.7L934.4 141.8L934.6 143.1L934.9 146.9L935.1 142.8L935.3 143.8L935.5 146.2L935.8 143.9L936.0 145.5L936.2 148.0L936.4 146.0L936.6 149.8L936.8 145.4L937.1 145.6L937.3 149.8L937.5 147.6L937.7 149.5L937.9 151.7L938.1 150.7L938.3 152.3L938.5 152.2L938.7 152.3L939.0 152.8L939.2 153.0L939.4 154.4L939.6 152.3L939.8 154.5L940.0 154.0L940.2 155.0L940.5 156.9L940.7 157.9L940.9 159.1L941.1 156.7" fill="none" stroke="#0072bd" stroke-width="0.6" marker-start="url(#a)" marker-mid="url(#a)" marker-end="url(#a)"/>
<path d="M85.0 168.4L85.3 169.3L85.7 169.6L86.0 169.4L86.3 168.6L86.7 169.8L87.0 169.6L87.3 169.6L87.6 169.6L88.0 169.8L88.3 170.5L88.6 168.8L89.0 169.2L89.3 170.3L89.6 168.4L90.0 169.4L90.3 168.8L90.6 169.3L91.0 169.6L91.3 168.1L91.6 168.7L91.9 168.5L92.3 169.2L92.6 168.9L92.9 170.3L93.3 169.0L93.6 170.4L93.9 169.1L94.3 169.6L94.6 169.4L94.9 169.4L95.2 168.8L95.6 169.6L95.9 169.7L96.2 169.6L96.6 169.8L96.9 169.0L97.2 169.3L97.6 169.1L97.9 168.5L98.2 169.8L98.6 169.2L98.9 169.5L99.2 170.9L99.5 169.7L99.9 169.7L100.2 170.3L100.5 170.4L100.9 170.7L101.2 169.3L101.5 170.7L101.9 169.6L102.2 169.0L102.5 169.1L102.8 170.4L103.2 170.2L103.5 170.5L103.8 169.2L104.2 169.5L104.5 169.0L104.8 168.6L105.2 169.8L105.5 170.7L105.8 170.5L106.2 169.3L106.5 170.5L106.8 169.5L107.1 170.0L107.5 170.4L107.8 169.6L108.1 169.4L108.5 170.3L108.8 169.8L109.1 169.6L109.4 170.3L109.8 169.9L110.1 170.2L110.4 169.5L110.8 170.5L111.1 169.5L111.4 169.9L111.7 169.1L112.0 171.0L112.4 170.4L112.7 170.7L113.0 169.4L113.3 170.6L113.6 170.4L113.9 171.4L114.2 169.8L114.6 171.1L114.9 171.6L115.2 170.3L115.5 171.1L115.8 170.5L116.1 171.3L116.4 171.5L116.8 172.2L117.1 171.6L117.4 171.2L117.7 172.1L118.0 171.9L118.3 172.6L118.6 171.8L118.9 173.1L119.2 172.5L119.5 172.7L119.8 173.2L120.1 172.4L120.4 172.6L120.7 173.3L121.0 173.1L121.3 173.2L121.6 173.1L121.9 173.2L122.2 174.0L122.6 174.7L122.9 172.7L123.2 174.5L123.5 174.0L123.9 174.3L124.2 173.6L124.5 172.9L124.8 173.1L125.1 172.5L125.4 171.8L125.6 172.6L125.9 172.5L126.2 172.0L126.4 172.0L126.7 170.7L127.0 172.0L127.2 170.9L127.5 170.8L127.8 170.9L128.0 169.8L128.3 171.4L128.5 170.3L128.8 170.1L129.1 169.1L129.3 168.3L129.6 168.8L129.9 167.8L130.2 168.2L130.4 168.0L130.7 168.4L131.0 167.7L131.3 167.4L131.6 168.1L131.9 167.0L132.2 166.7L132.5 166.6L132.8 167.7L133.1 166.7L133.5 166.3L133.8 165.3L134.1 165.8L134.4 166.5L134.7 166.6L135.0 167.1L135.3 165.6L135.6 166.2L135.9 166.6L136.2 164.4L136.6 167.1L136.9 164.9L137.2 164.8L137.5 166.0L137.8 165.6L138.1 166.0L138.4 165.6L138.8 165.3L139.1 165.0L139.4 164.6L139.7 165.3L140.0 163.7L140.4 164.7L140.7 165.3L141.0 164.0L141.3 165.2L141.6 165.2L142.0 164.6L142.3 164.5L142.6 164.8L142.9 164.9L143.2 164.3L143.6 165.6L143.9 165.3L144.2 165.0L144.6 165.2L144.9 165.1L145.2 163.5L145.5 165.8L145.9 163.4L146.2 164.4L146.5 163.6L146.9 164.6L147.2 164.5L147.5 164.4L147.9 162.5L148.2 164.7L148.5 164.4L148.9 163.0L149.2 165.1L149.5 164.1L149.9 163.7L150.2 164.4L150.5 163.9L150.8 164.4L151.2 164.0L151.5 163.6L151.8 163.5L152.2 164.6L152.5 164.2L152.8 163.7L153.2 163.8L153.5 163.6L153.8 165.4L154.2 164.4L154.5 164.2L154.8 165.0L155.2 163.7L155.5 163.5L155.8 163.8L156.2 164.2L156.5 164.0L156.8 163.9L157.2 164.2L157.5 163.8L157.8 163.4L158.1 164.5L158.5 163.9L158.8 163.8L159.1 164.3L159.5 164.2L159.8 163.2L160.1 163.3L160.4 162.8L160.7 162.8L161.0 163.5L161.3 162.8L161.5 162.4L161.8 161.9L162.1 163.3L162.4 162.0L162.7 162.2L162.9 161.7L163.2 160.9L163.5 161.5L163.7 161.1L164.0 161.5L164.3 160.8L164.5 159.4L164.8 159.8L165.1 159.5L165.3 159.3L165.6 158.3L165.9 157.8L166.1 158.5L166.4 158.5L166.7 157.3L166.9 158.9L167.2 158.0L167.5 157.0L167.8 158.3L168.0 155.9L168.3 155.9L168.5 155.6L168.8 156.7L169.1 155.2L169.3 155.8L169.6 155.2L169.8 154.4L170.1 154.5L170.4 153.5L170.6 154.4L170.9 153.0L171.1 152.8L171.4 153.4L171.7 152.5L171.9 153.6L172.2 153.1L172.5 151.0L172.8 151.8L173.0 151.5L173.3 152.6L173.6 150.8L173.9 150.7L174.2 150.8L174.5 150.7L174.8 150.2L175.2 150.9L175.5 150.5L175.8 150.3L176.2 151.7L176.5 150.9L176.8 150.2L177.1 150.1L177.5 150.7L177.8 150.2L178.1 150.2L178.4 151.7L178.8 151.0L179.1 150.8L179.4 151.3L179.7 150.9L180.0 151.4L180.4 152.5L180.7 151.4L181.0 151.2L181.3 150.9L181.6 152.0L181.9 151.6L182.3 152.0L182.6 150.9L182.9 151.7L183.2 152.1L183.5 152.5L183.8 152.5L184.1 152.3L184.4 153.4L184.7 152.9L184.9 151.8L185.2 152.5L185.5 153.5L185.8 153.9L186.0 153.2L186.3 153.5L186.6 154.6L186.9 154.8L187.2 155.0L187.5 155.4L187.8 155.2L188.1 154.8L188.4 156.1L188.7 156.0L189.0 156.4L189.3 155.7L189.7 155.4L190.0 155.4L190.3 155.4L190.6 154.1L190.9 155.0L191.2 154.8L191.6 155.1L191.9 155.0L192.2 154.5L192.5 154.3L192.8 153.6L193.1 154.5L193.4 153.9L193.7 153.9L194.0 154.6L194.3 154.5L194.6 153.6L194.9 154.7L195.2 154.1L195.6 153.6L195.9 153.0L196.2 152.9L196.5 154.0L196.9 152.2L197.2 154.5L197.5 153.9L197.8 153.3L198.1 154.6L198.4 153.9L198.7 153.1L199.0 153.6L199.3 153.4L199.6 153.5L199.9 155.6L200.2 154.6L200.5 154.6L200.8 155.4L201.1 155.4L201.4 154.8L201.7 154.8L202.0 154.4L202.3 156.3L202.6 155.8L202.8 156.6L203.1 156.2L203.4 155.6L203.7 156.2L204.0 157.6L204.3 156.5L204.6 157.2L204.9 155.6L205.2 156.7L205.6 157.8L205.9 156.2L206.2 158.0L206.5 157.1L206.9 157.0L207.2 158.2L207.5 157.0L207.8 158.0L208.2 157.1L208.5 157.5L208.8 157.9L209.1 157.9L209.5 157.0L209.8 155.7L210.1 158.1L210.4 156.7L210.7 157.7L211.0 156.4L211.4 156.5L211.7 156.8L212.0 156.6L212.3 157.8L212.6 155.4L212.9 156.1L213.2 156.5L213.6 156.5L213.9 156.2L214.2 156.2L214.5 156.6L214.8 155.6L215.1 155.5L215.4 155.7L215.7 156.1L216.1 154.7L216.4 156.6L216.7 155.2L217.0 154.9L217.3 155.0L217.6 154.5L217.9 154.5L218.2 154.7L218.5 155.1L218.9 155.2L219.2 154.4L219.5 154.3L219.8 154.7L220.1 153.2L220.4 154.1L220.7 154.7L221.0 155.0L221.3 153.7L221.6 152.9L221.9 153.3L222.2 154.3L222.5 154.6L222.8 153.2L223.1 152.3L223.4 153.1L223.7 153.4L224.0 153.4L224.3 152.9L224.6 154.1L225.0 152.5L225.3 154.1L225.6 151.6L225.9 153.0L226.2 152.7L226.5 152.4L226.8 151.3L227.1 151.6L227.4 150.8L227.7 151.4L228.0 151.4L228.3 151.4L228.6 150.2L228.9 150.4L229.2 149.4L229.5 150.5L229.8 149.7L230.1 150.8L230.3 149.7L230.6 150.2L230.9 149.5L231.2 149.5L231.5 149.3L231.8 148.5L232.1 149.6L232.4 148.4L232.7 149.5L233.0 147.1L233.3 148.2L233.6 148.8L233.9 148.7L234.2 146.8L234.5 148.0L234.8 147.8L235.1 147.7L235.4 147.2L235.7 146.8L236.0 147.3L236.3 147.4L236.6 147.6L236.9 146.8L237.2 146.3L237.5 147.1L237.8 145.8L238.1 146.1L238.5 146.1L238.8 146.4L239.1 146.5L239.4 147.5L239.8 146.7L240.1 146.9L240.4 146.1L240.7 145.7L241.1 146.2L241.4 146.1L241.7 147.8L242.0 147.5L242.3 147.3L242.6 146.8L242.9 146.3L243.2 147.0L243.5 147.0L243.8 147.0L244.1 147.9L244.4 148.9L244.7 149.3L244.9 148.1L245.2 148.4L245.5 148.7L245.8 148.3L246.1 149.7L246.4 149.4L246.7 149.3L247.0 149.7L247.3 149.3L247.6 149.6L247.9 150.6L248.2 150.5L248.5 150.2L248.8 149.3L249.1 151.7L249.4 150.6L249.8 150.9L250.1 149.8L250.4 150.7L250.7 150.7L251.1 150.5L251.4 151.0L251.7 149.2L252.0 150.9L252.3 149.9L252.7 149.7L253.0 149.9L253.3 150.1L253.6 149.9L253.9 149.4L254.2 149.9L254.5 151.1L254.8 149.7L255.1 149.0L255.4 149.8L255.7 149.5L256.0 148.4L256.3 149.5L256.6 147.8L256.9 148.8L257.2 149.5L257.5 147.5L257.9 147.8L258.2 147.5L258.5 148.7L258.8 147.3L259.1 147.5L259.4 147.7L259.6 147.9L259.9 147.5L260.2 146.3L260.5 145.5L260.8 147.1L261.1 146.4L261.4 146.5L261.7 145.6L261.9 145.8L262.2 146.4L262.5 144.5L262.8 145.1L263.1 144.1L263.4 145.6L263.7 144.7L264.0 143.9L264.2 143.3L264.5 144.2L264.8 144.0L265.1 143.7L265.4 144.5L265.7 142.9L266.0 143.9L266.3 144.2L266.6 142.8L267.0 143.6L267.3 144.0L267.6 142.2L267.9 142.6L268.3 142.2L268.6 143.3L268.9 144.2L269.2 142.2L269.6 143.2L269.9 144.8L270.2 142.9L270.5 143.7L270.8 143.8L271.1 143.2L271.4 144.2L271.7 143.9L272.1 143.7L272.4 143.7L272.7 144.8L273.0 144.2L273.3 143.8L273.6 144.0L273.9 144.6L274.2 144.8L274.5 143.8L274.8 145.3L275.1 144.2L275.4 143.9L275.7 144.9L276.0 145.4L276.3 145.9L276.6 144.7L277.0 145.3L277.3 146.2L277.6 145.7L277.9 146.4L278.2 146.2L278.5 145.0L278.9 145.4L279.2 146.5L279.5 144.5L279.8 146.5L280.2 145.9L280.5 145.5L280.8 147.3L281.2 145.4L281.5 145.5L281.8 145.6L282.1 145.5L282.4 146.0L282.7 145.8L283.0 144.0L283.3 146.1L283.7 145.9L284.0 145.7L284.3 145.3L284.6 144.0L284.9 145.3L285.2 144.4L285.5 143.9L285.8 144.5L286.1 144.7L286.4 143.6L286.7 143.4L287.0 144.3L287.3 144.5L287.6 143.4L287.9 143.7L288.2 143.5L288.5 144.2L288.8 143.5L289.1 142.1L289.5 142.6L289.8 143.8L290.1 143.8L290.4 143.7L290.7 142.7L291.0 142.3L291.4 143.2L291.7 142.6L292.0 142.4L292.3 142.1L292.6 142.7L292.9 141.9L293.3 142.1L293.6 143.5L293.9 142.2L294.2 142.9L294.5 142.2L294.8 142.3L295.2 142.1L295.5 143.3L295.8 142.1L296.1 142.0L296.4 141.9L296.8 141.4L297.1 142.4L297.4 141.2L297.7 140.7L298.1 141.7L298.4 141.8L298.7 140.8L299.1 141.7L299.4 141.5L299.7 140.5L300.0 140.2L300.4 141.7L300.7 141.5L301.0 142.0L301.4 140.7L301.7 142.3L302.0 141.7L302.3 141.9L302.7 142.9L303.0 141.7L303.3 141.6L303.6 141.5L304.0 141.0L304.3 141.8L304.6 141.0L304.9 141.3L305.3 140.9L305.6 142.4L305.9 141.9L306.3 142.7L306.6 141.7L306.9 141.7L307.2 141.4L307.5 141.1L307.8 142.5L308.0 139.5L308.3 141.6L308.6 141.3L308.8 139.9L309.1 140.0L309.3 140.5L309.6 139.2L309.8 137.6L310.1 138.1L310.3 139.0L310.6 137.3L310.8 138.3L311.1 137.1L311.4 137.5L311.6 136.6L311.9 136.3L312.2 136.3L312.5 135.0L312.8 136.5L313.1 134.7L313.4 135.7L313.7 134.9L313.9 135.6L314.2 136.0L314.5 135.1L314.8 134.7L315.1 134.9L315.4 134.8L315.7 134.9L316.0 133.9L316.3 134.7L316.6 133.3L316.9 133.6L317.2 134.9L317.5 133.6L317.8 133.8L318.1 133.5L318.4 133.3L318.7 134.2L319.0 132.9L319.3 131.9L319.6 132.6L319.9 132.8L320.2 132.3L320.6 132.2L320.9 133.3L321.2 132.9L321.5 133.5L321.9 132.7L322.2 131.8L322.5 132.4L322.9 132.4L323.2 132.3L323.5 133.0L323.9 131.5L324.2 132.5L324.5 133.5L324.9 131.9L325.2 133.1L325.5 132.6L325.8 131.6L326.2 132.1L326.5 133.5L326.8 132.3L327.2 132.8L327.5 132.7L327.8 132.1L328.1 133.5L328.5 133.4L328.8 133.1L329.1 132.7L329.5 132.3L329.8 132.3L330.1 133.4L330.4 131.6L330.8 133.5L331.1 133.1L331.4 133.2L331.8 133.0L332.1 132.4L332.4 132.5L332.8 132.9L333.1 133.3L333.4 133.7L333.8 133.2L334.1 133.3L334.4 132.5L334.8 133.5L335.1 133.3L335.4 134.0L335.7 133.5L336.0 132.8L336.3 132.1L336.7 133.6L337.0 132.0L337.3 132.6L337.6 132.9L337.9 132.7L338.2 131.5L338.5 131.4L338.8 132.6L339.1 132.2L339.4 133.5L339.7 131.0L340.0 130.4L340.3 130.6L340.6 130.6L340.9 130.8L341.2 131.1L341.5 131.0L341.8 130.5L342.2 130.1L342.5 130.7L342.8 130.1L343.1 130.8L343.4 129.9L343.7 129.7L344.0 130.6L344.3 130.5L344.6 130.6L344.9 129.0L345.2 130.0L345.5 130.1L345.8 129.3L346.1 128.5L346.4 128.8L346.7 129.1L347.0 128.7L347.3 128.5L347.6 128.9L347.9 129.3L348.2 129.0L348.5 127.3L348.8 126.8L349.1 128.6L349.4 128.3L349.7 127.2L349.9 126.1L350.2 127.8L350.5 126.4L350.8 126.1L351.1 126.2L351.4 126.2L351.7 125.0L351.9 125.0L352.2 125.5L352.5 125.4L352.8 124.2L353.1 126.3L353.4 125.4L353.6 124.8L353.9 124.7L354.2 122.8L354.5 123.9L354.8 124.0L355.0 123.5L355.3 123.4L355.6 123.4L355.9 123.7L356.2 123.3L356.4 122.1L356.7 122.8L357.0 121.7L357.3 121.9L357.6 121.8L357.9 121.4L358.1 121.1L358.4 121.2L358.7 121.1L359.0 119.2L359.3 120.5L359.6 119.9L359.9 121.1L360.2 120.2L360.5 119.5L360.8 120.0L361.1 119.7L361.4 119.8L361.7 118.1L362.0 119.0L362.3 118.5L362.6 119.8L362.9 119.3L363.2 118.6L363.5 118.5L363.8 118.4L364.1 118.0L364.4 117.6L364.7 117.3L365.0 118.6L365.3 117.2L365.6 117.9L365.9 118.0L366.2 117.7L366.5 117.2L366.8 117.4L367.1 116.5L367.4 116.1L367.6 117.1L367.9 116.8L368.2 116.9L368.5 116.0L368.8 114.7L369.1 115.4L369.4 115.0L369.6 115.8L369.9 114.5L370.2 115.3L370.5 114.6L370.7 114.4L371.0 114.1L371.3 114.0L371.5 112.7L371.8 113.8L372.0 111.8L372.3 112.1L372.6 111.8L372.8 112.3L373.1 111.1L373.3 112.3L373.6 110.4L373.8 112.2L374.1 110.7L374.3 110.6L374.6 109.9L374.9 109.9L375.1 108.7L375.4 107.9L375.6 109.0L375.9 108.6L376.1 107.8L376.4 107.4L376.6 107.1L376.9 106.9L377.1 107.0L377.4 105.9L377.6 105.9L377.8 106.1L378.1 104.8L378.3 104.9L378.5 103.8L378.8 103.8L379.0 103.2L379.2 103.7L379.5 102.4L379.7 101.5L380.0 102.0L380.2 101.2L380.5 101.9L380.7 101.0L381.0 100.2L381.2 99.5L381.5 99.9L381.7 99.5L382.0 99.3L382.3 99.3L382.6 101.1L382.9 98.6L383.3 99.1L383.6 99.5L383.9 99.7L384.2 98.8L384.6 99.1L384.9 98.7L385.2 100.1L385.5 98.5L385.9 99.0L386.2 98.3L386.5 99.2L386.9 98.3L387.2 99.7L387.5 98.4L387.9 98.7L388.2 98.7L388.5 98.9L388.8 98.3L389.2 97.6L389.5 97.6L389.8 98.7L390.1 99.5L390.4 99.6L390.8 99.4L391.1 99.8L391.4 99.3L391.7 99.4L392.0 99.9L392.3 100.6L392.6 100.7L392.9 100.3L393.2 99.3L393.5 99.9L393.8 98.9L394.1 101.0L394.4 100.4L394.7 101.3L395.1 101.3L395.4 100.4L395.7 100.8L396.0 100.3L396.3 99.3L396.6 100.3L396.9 100.0L397.2 99.8L397.5 100.5L397.8 98.7L398.0 98.1L398.3 99.4L398.6 99.3L398.9 98.7L399.1 98.2L399.4 98.0L399.7 97.7L399.9 97.4L400.2 96.9L400.5 97.5L400.7 96.2L401.0 95.5L401.3 96.0L401.5 95.4L401.8 95.0L402.1 95.7L402.4 94.4L402.7 94.3L402.9 94.3L403.2 94.0L403.5 94.0L403.8 93.9L404.1 93.1L404.4 92.9L404.6 94.7L404.9 93.4L405.2 92.9L405.5 93.2L405.8 92.8L406.1 92.6L406.3 92.1L406.6 91.9L406.9 91.6L407.2 92.7L407.5 91.3L407.8 91.6L408.1 91.4L408.3 89.8L408.6 91.4L408.9 90.7L409.2 89.3L409.5 91.0L409.8 90.5L410.0 89.9L410.3 89.2L410.6 88.8L410.9 89.1L411.2 88.7L411.5 89.4L411.8 89.0L412.0 89.0L412.3 88.3L412.6 87.9L412.9 87.7L413.2 87.5L413.5 87.3L413.8 87.5L414.0 87.2L414.3 86.9L414.6 88.1L414.9 86.5L415.2 86.5L415.5 86.0L415.7 86.5L416.0 86.2L416.3 85.6L416.6 85.9L416.9 85.5L417.2 84.2L417.5 84.0L417.7 84.0L418.0 84.4L418.3 83.7L418.6 83.0L418.9 83.4L419.2 83.6L419.5 83.3L419.7 83.3L420.0 82.9L420.3 82.9L420.6 82.5L420.9 82.0L421.2 81.4L421.5 82.0L421.7 82.2L422.0 81.3L422.3 81.1L422.6 81.8L422.9 82.1L423.2 81.8L423.5 80.4L423.7 80.1L424.0 80.2L424.3 80.3L424.6 80.2L424.9 78.7L425.2 80.4L425.5 79.9L425.8 79.0L426.0 79.4L426.3 78.5L426.6 78.7L426.9 79.4L427.2 77.6L427.5 77.9L427.8 77.7L428.1 77.6L428.4 77.8L428.7 77.4L428.9 78.4L429.2 76.6L429.5 77.4L429.8 76.6L430.1 76.9L430.4 76.4L430.7 76.1L431.0 75.8L431.3 75.8L431.6 75.1L431.8 75.2L432.1 74.0L432.4 75.0L432.7 74.5L433.0 74.6L433.3 74.1L433.6 75.1L433.8 74.1L434.1 74.0L434.4 74.6L434.7 73.0L434.9 73.4L435.2 72.3L435.5 72.3L435.7 72.1L436.0 73.3L436.3 71.5L436.5 72.1L436.8 71.7L437.0 71.9L437.3 70.6L437.6 69.7L437.8 69.5L438.1 70.8L438.4 70.1L438.7 70.4L438.9 70.3L439.2 69.4L439.5 69.1L439.9 69.4L440.2 68.3L440.5 68.9L440.8 69.3L441.1 69.9L441.3 68.7L441.6 68.9L441.9 71.0L442.1 71.0L442.4 70.7L442.6 71.1L442.8 71.7L443.1 71.2L443.3 72.2L443.4 74.0L443.6 74.7L443.8 75.8L443.9 75.9L444.0 77.1L444.2 76.3L444.3 77.1L444.5 76.9L444.6 78.5L444.8 79.0L444.9 81.1L445.1 81.8L445.3 81.1L445.5 81.5L445.7 83.6L445.9 84.4L446.1 83.4L446.3 84.8L446.5 86.0L446.7 85.8L446.9 87.0L447.2 86.5L447.4 87.0L447.6 87.0L447.9 86.2L448.2 87.4L448.4 87.4L448.7 88.9L449.0 87.6L449.3 88.6L449.5 88.9L449.8 89.6L450.1 89.4L450.4 91.8L450.7 90.4L451.0 90.3L451.2 90.5L451.5 92.0L451.8 87.9L452.1 89.4L452.4 91.0L452.7 89.6L452.9 91.6L453.2 87.8L453.5 95.6L453.8 92.7L454.0 92.5L454.3 90.6L454.5 94.7L454.7 95.4L454.9 93.1L455.1 94.6L455.3 92.5L455.4 96.6L455.6 97.1L455.7 99.8L455.8 99.6L455.9 101.8L456.1 100.0L456.2 101.6L456.3 101.7L456.4 103.0L456.5 102.6L456.6 104.7L456.7 104.8L456.7 109.3L456.8 109.0L456.8 109.6L456.9 109.6L456.9 113.7L457.0 113.0L457.0 114.9L457.1 114.1L457.1 116.8L457.2 116.0L457.2 117.2L457.3 118.5L457.3 124.0L457.4 122.1L457.4 125.9L457.5 122.3L457.5 126.0L457.6 125.3L457.6 128.2L457.7 131.9L457.7 132.8L457.8 129.4L457.8 133.6L457.8 135.0L457.9 134.1L457.9 134.8L458.0 135.0L458.0 138.2L458.1 136.3L458.1 139.6L458.2 141.4L458.2 141.0L458.3 141.2L458.3 146.1L458.4 145.4L458.4 143.7L458.5 147.4L458.6 149.6L458.6 148.8L458.7 151.9L458.7 152.6L458.8 154.0L458.9 153.7L458.9 154.4L459.0 158.5L459.1 158.1L459.1 159.5L459.2 160.9L459.3 161.4L459.4 162.5L459.4 163.4L459.5 163.8L459.6 163.5L459.7 167.1L459.9 166.9L460.0 166.5L460.1 169.6L460.3 172.4L460.4 167.7L460.6 170.6L460.7 173.5L460.9 168.9L461.1 172.3L461.2 172.7L461.4 172.3L461.7 177.0L461.9 175.7L462.3 173.9L462.6 171.3L462.9 174.1L463.2 172.0L463.5 174.5L463.8 172.7L464.0 173.6L464.3 175.7L464.6 174.1L464.8 171.8L465.1 171.7L465.3 169.9L465.5 172.5L465.7 168.7L465.9 168.8L466.0 166.6L466.2 168.5L466.4 170.8L466.5 166.3L466.7 165.6L466.8 164.8L467.0 164.9L467.1 164.5L467.3 166.2L467.4 163.9L467.6 162.0L467.7 160.0L467.8 161.5L468.0 159.9L468.1 158.1L468.2 158.1L468.4 157.1L468.5 157.0L468.6 155.7L468.8 154.2L468.9 154.0L469.0 153.9L469.1 152.4L469.3 151.1L469.4 150.2L469.5 151.1L469.7 149.6L469.8 147.6L469.9 147.7L470.1 147.3L470.2 146.3L470.4 144.8L470.5 144.2L470.7 142.4L470.8 142.6L470.9 141.9L471.1 141.7L471.2 140.4L471.4 139.4L471.5 140.0L471.7 138.9L471.8 137.2L472.0 135.6L472.2 135.1L472.3 135.4L472.5 134.8L472.7 134.1L472.8 134.0L473.0 134.0L473.2 132.8L473.4 132.0L473.6 131.4L473.8 129.9L474.0 130.7L474.2 129.5L474.4 129.7L474.6 127.9L474.8 128.0L475.0 126.7L475.2 127.0L475.5 127.8L475.7 125.9L475.9 125.6L476.1 125.2L476.4 125.2L476.6 124.0L476.8 123.9L477.1 123.0L477.3 125.1L477.6 122.7L477.8 122.6L478.0 121.6L478.3 122.0L478.5 121.5L478.8 120.1L479.0 122.7L479.3 120.4L479.5 120.1L479.8 120.5L480.0 118.5L480.3 119.3L480.6 118.4L480.8 118.4L481.1 118.3L481.4 116.9L481.7 117.9L481.9 118.2L482.2 117.2L482.5 117.8L482.8 117.3L483.1 118.1L483.4 117.1L483.7 117.2L484.0 116.9L484.3 116.5L484.6 117.6L484.9 116.7L485.2 116.5L485.5 116.7L485.8 117.4L486.1 115.6L486.4 116.9L486.8 115.4L487.1 115.9L487.4 116.5L487.7 116.9L488.1 115.7L488.3 117.1L488.6 116.9L488.9 118.1L489.2 116.2L489.5 117.5L489.8 117.1L490.0 117.4L490.3 117.9L490.6 117.8L490.9 118.7L491.1 118.7L491.4 118.3L491.7 120.5L491.9 119.4L492.2 118.6L492.5 119.8L492.7 120.2L493.0 120.2L493.3 120.4L493.6 121.6L493.9 120.6L494.2 120.9L494.5 121.0L494.8 121.2L495.1 121.1L495.4 121.6L495.7 122.2L496.1 121.5L496.4 121.5L496.7 121.0L497.0 120.9L497.3 120.1L497.6 122.0L497.9 120.5L498.1 119.9L498.4 120.3L498.7 120.0L499.0 120.6L499.3 119.9L499.5 118.7L499.8 118.9L500.1 118.4L500.4 118.6L500.6 117.5L500.9 119.2L501.2 118.2L501.5 117.8L501.7 117.7L502.0 117.6L502.3 116.5L502.6 116.9L502.8 117.6L503.1 117.3L503.4 115.5L503.7 115.7L504.0 115.6L504.2 114.4L504.5 114.9L504.8 115.1L505.1 115.1L505.3 114.5L505.6 113.5L505.9 114.0L506.2 113.4L506.4 114.2L506.7 113.9L507.0 112.9L507.3 113.7L507.5 112.6L507.8 112.7L508.1 113.2L508.4 112.6L508.7 111.9L509.0 112.0L509.3 113.3L509.6 111.5L509.9 111.8L510.2 110.9L510.5 111.8L510.9 111.1L511.2 111.8L511.5 110.8L511.8 111.6L512.1 111.2L512.5 111.3L512.8 111.4L513.1 111.5L513.4 110.5L513.8 109.9L514.1 111.0L514.4 111.5L514.7 110.5L515.0 111.9L515.3 110.9L515.6 111.7L515.9 111.8L516.2 112.0L516.5 113.1L516.8 111.8L517.0 112.2L517.3 112.7L517.6 113.4L517.8 113.0L518.1 114.6L518.3 114.1L518.6 114.4L518.9 114.4L519.1 115.6L519.4 116.1L519.6 114.1L519.9 116.2L520.2 115.5L520.4 116.7L520.7 116.9L520.9 117.3L521.2 117.5L521.4 117.6L521.6 118.7L521.9 118.1L522.1 119.9L522.3 119.9L522.6 119.1L522.8 119.3L523.0 121.6L523.3 121.0L523.5 120.8L523.7 122.4L524.0 122.4L524.2 123.0L524.4 123.2L524.6 123.6L524.9 124.4L525.1 124.9L525.3 123.7L525.6 125.2L525.8 126.1L526.0 126.7L526.3 126.2L526.5 126.8L526.7 126.8L526.9 126.6L527.2 127.7L527.4 128.8L527.6 128.9L527.9 130.0L528.1 129.4L528.3 130.4L528.6 130.4L528.8 131.2L529.0 130.9L529.3 131.7L529.5 132.1L529.7 132.7L530.0 134.1L530.2 132.6L530.4 134.2L530.7 133.7L530.9 134.5L531.2 134.7L531.4 135.2L531.6 136.5L531.9 135.8L532.1 137.4L532.3 136.1L532.6 137.1L532.8 137.2L533.1 137.2L533.3 138.4L533.5 138.2L533.8 139.4L534.0 138.9L534.3 139.8L534.5 140.2L534.8 141.5L535.0 141.0L535.2 140.8L535.5 140.5L535.7 141.8L536.0 142.9L536.2 142.9L536.5 142.4L536.7 143.3L537.0 143.9L537.2 143.7L537.5 144.2L537.7 144.5L538.0 144.9L538.2 145.7L538.5 144.0L538.8 144.1L539.0 146.6L539.3 146.0L539.6 147.2L539.8 147.7L540.1 146.8L540.4 147.2L540.6 148.2L540.9 148.5L541.2 148.3L541.5 148.7L541.7 148.3L542.0 149.0L542.3 148.7L542.6 149.6L542.9 148.9L543.1 149.5L543.4 149.9L543.7 148.5L544.0 151.0L544.3 149.3L544.6 150.3L544.9 150.4L545.2 150.7L545.4 149.8L545.7 151.6L546.0 151.6L546.3 151.7L546.6 152.0L546.9 152.7L547.2 151.9L547.5 151.9L547.7 153.0L548.0 152.0L548.3 152.6L548.6 152.5L548.9 154.0L549.2 153.5L549.4 154.3L549.7 154.3L550.0 153.5L550.3 154.4L550.5 154.0L550.8 153.8L551.1 155.2L551.3 154.8L551.6 155.7L551.8 155.9L552.1 157.3L552.4 156.4L552.6 156.6L552.9 157.2L553.1 157.0L553.4 158.0L553.6 158.6L553.9 158.2L554.1 158.1L554.4 158.7L554.6 160.0L554.9 159.4L555.2 160.1L555.4 159.9L555.7 160.2L555.9 161.4L556.2 160.2L556.5 162.3L556.7 161.9L557.0 162.5L557.3 161.9L557.6 161.8L557.9 161.2L558.1 162.4L558.4 163.3L558.7 163.2L559.1 163.4L559.4 162.7L559.7 162.9L560.0 163.9L560.4 162.5L560.7 162.6L561.0 164.2L561.4 163.7L561.7 163.8L562.0 163.1L562.4 162.7L562.7 163.2L563.0 163.5L563.4 164.0L563.7 164.3L564.0 163.1L564.4 163.6L564.7 162.9L565.0 163.0L565.4 163.1L565.7 162.6L566.0 162.6L566.4 164.7L566.7 162.7L567.0 164.3L567.4 162.9L567.7 163.6L568.0 162.4L568.4 164.5L568.7 163.6L569.0 162.5L569.4 163.3L569.7 163.8L570.0 162.5L570.4 164.2L570.7 163.2L571.0 163.4L571.3 162.6L571.6 163.4L571.9 164.3L572.3 163.7L572.6 163.5L572.9 163.3L573.2 163.6L573.5 164.7L573.8 164.1L574.1 163.7L574.4 165.1L574.7 164.5L575.0 165.7L575.3 165.8L575.6 165.0L575.9 164.4L576.3 164.7L576.6 165.7L576.9 165.7L577.2 165.3L577.5 165.9L577.8 165.5L578.1 164.6L578.5 165.9L578.8 165.6L579.1 165.7L579.4 165.4L579.8 166.7L580.1 165.8L580.4 165.0L580.7 165.5L581.1 166.7L581.4 165.3L581.7 164.9L582.0 165.5L582.3 165.6L582.7 165.5L583.0 164.8L583.3 165.0L583.6 164.8L583.9 165.3L584.2 164.7L584.5 165.0L584.8 166.5L585.1 164.6L585.4 164.5L585.7 164.3L586.0 163.5L586.3 164.6L586.6 163.5L586.9 164.8L587.2 163.3L587.5 164.4L587.8 163.1L588.1 163.7L588.4 162.9L588.7 163.8L589.0 163.9L589.3 162.6L589.6 162.4L589.9 162.1L590.2 162.0L590.5 161.9L590.7 161.9L591.0 161.8L591.3 160.9L591.5 160.9L591.8 160.4L592.1 159.9L592.3 160.7L592.6 159.4L592.8 159.3L593.1 159.0L593.4 158.6L593.6 158.1L593.9 158.1L594.1 159.2L594.4 157.2L594.7 156.9L594.9 157.6L595.2 155.9L595.5 156.8L595.8 155.9L596.1 155.6L596.4 155.1L596.7 156.4L597.0 155.2L597.3 156.0L597.6 155.6L598.0 156.4L598.3 155.6L598.6 157.0L599.0 156.4L599.3 156.8L599.6 155.2L600.0 156.2L600.3 156.7L600.6 156.4L601.0 155.2L601.3 155.2L601.6 155.6L601.9 155.6L602.3 156.6L602.6 156.3L602.9 155.2L603.2 156.4L603.6 156.5L603.9 156.6L604.2 156.0L604.5 155.7L604.9 155.6L605.2 156.5L605.5 155.4L605.8 155.8L606.1 157.2L606.5 157.3L606.8 157.1L607.1 156.5L607.4 157.7L607.7 156.0L608.0 156.5L608.3 157.2L608.6 157.8L608.9 156.7L609.2 158.2L609.5 157.7L609.8 157.9L610.1 157.8L610.4 159.0L610.7 157.9L611.0 157.5L611.3 158.8L611.6 159.0L611.9 158.9L612.3 157.3L612.6 159.1L612.9 158.6L613.2 158.2L613.5 159.2L613.8 159.5L614.1 157.8L614.4 158.2L614.7 157.4L614.9 157.7L615.2 157.3L615.4 157.4L615.7 156.3L615.9 155.4L616.2 156.1L616.4 155.6L616.6 155.8L616.9 154.0L617.1 154.3L617.3 154.9L617.6 153.4L617.8 153.6L618.0 152.9L618.3 152.7L618.5 151.5L618.7 150.9L619.0 150.3L619.2 150.4L619.5 150.8L619.7 151.0L620.0 149.6L620.3 149.9L620.6 150.1L620.9 148.5L621.2 149.3L621.5 150.1L621.8 149.6L622.2 149.3L622.5 149.4L622.8 149.2L623.1 149.9L623.5 149.4L623.8 149.0L624.1 149.7L624.4 149.7L624.8 149.2L625.1 149.3L625.4 148.7L625.7 148.6L626.0 149.2L626.4 149.4L626.7 148.0L627.0 148.9L627.4 148.4L627.7 148.3L628.0 148.0L628.3 147.9L628.7 148.0L629.0 148.7L629.3 148.8L629.7 149.0L630.0 148.2L630.3 147.9L630.6 148.4L631.0 150.4L631.3 148.3L631.6 147.8L632.0 147.6L632.3 148.6L632.6 149.3L633.0 148.3L633.3 149.4L633.6 148.1L633.9 148.0L634.3 148.5L634.6 149.5L634.9 148.6L635.2 148.6L635.5 149.0L635.8 150.0L636.1 149.6L636.4 149.6L636.7 148.5L637.0 149.6L637.3 150.1L637.6 150.5L637.9 150.7L638.2 149.6L638.5 151.2L638.8 150.2L639.1 151.6L639.4 149.7L639.7 151.5L640.0 151.3L640.3 152.7L640.6 151.4L640.9 150.2L641.2 152.0L641.5 151.5L641.8 151.4L642.1 152.7L642.5 152.4L642.8 152.1L643.1 152.0L643.4 152.1L643.7 152.9L644.0 153.2L644.3 151.3L644.6 150.7L644.9 150.2L645.2 150.4L645.5 150.9L645.8 150.0L646.1 150.4L646.4 150.1L646.7 151.3L646.9 149.9L647.2 150.0L647.5 150.1L647.8 148.1L648.1 149.8L648.4 149.2L648.7 149.3L649.0 148.7L649.3 149.5L649.6 148.5L649.9 148.7L650.2 149.4L650.5 149.2L650.9 147.4L651.2 147.7L651.5 148.0L651.8 147.7L652.1 147.8L652.4 148.3L652.7 148.1L653.0 147.9L653.3 148.0L653.6 146.7L654.0 147.0L654.3 148.0L654.6 146.5L654.9 146.3L655.2 146.7L655.5 146.2L655.8 146.6L656.2 147.5L656.5 146.7L656.8 146.6L657.1 146.0L657.4 145.7L657.7 147.2L658.1 145.2L658.4 145.7L658.7 147.3L659.0 146.2L659.4 145.5L659.7 146.9L660.0 145.9L660.3 146.1L660.7 146.7L661.0 145.7L661.3 144.8L661.6 146.0L662.0 146.8L662.3 146.1L662.6 146.1L662.9 145.3L663.3 146.0L663.6 146.8L663.9 146.6L664.2 145.7L664.6 146.4L664.9 145.5L665.2 146.6L665.5 144.8L665.9 145.7L666.2 144.2L666.5 145.4L666.8 147.4L667.2 145.3L667.5 146.4L667.8 145.7L668.1 146.3L668.5 145.0L668.8 145.0L669.1 145.2L669.4 145.2L669.8 145.2L670.1 145.4L670.4 144.5L670.7 145.4L671.0 145.7L671.4 144.4L671.7 144.2L672.0 145.3L672.3 144.8L672.6 145.2L673.0 144.0L673.3 144.3L673.6 144.8L673.9 144.0L674.2 144.5L674.5 144.3L674.9 143.7L675.2 144.0L675.5 143.5L675.8 143.3L676.1 143.5L676.4 144.8L676.8 143.8L677.1 143.9L677.4 143.3L677.7 143.3L678.0 143.5L678.3 142.3L678.6 142.4L679.0 142.6L679.3 143.9L679.6 143.5L679.9 142.2L680.2 142.4L680.5 143.1L680.8 142.4L681.1 143.5L681.4 142.6L681.7 142.0L682.0 142.3L682.3 142.5L682.6 142.1L682.9 141.4L683.2 142.2L683.5 142.1L683.8 141.5L684.1 141.8L684.4 141.7L684.7 141.4L685.0 140.1L685.3 139.8L685.6 140.8L685.9 141.0L686.3 140.5L686.6 139.9L686.9 140.6L687.2 139.7L687.5 139.8L687.9 140.2L688.2 140.6L688.5 140.6L688.9 140.1L689.2 140.3L689.5 141.2L689.8 139.3L690.1 140.7L690.4 141.0L690.7 141.3L691.0 140.9L691.3 140.7L691.6 142.0L691.9 141.0L692.2 141.4L692.5 142.6L692.8 141.8L693.1 141.6L693.4 141.6L693.7 142.6L694.0 140.9L694.3 142.0L694.6 142.5L694.9 142.7L695.2 141.5L695.5 142.6L695.8 143.2L696.1 142.4L696.5 142.6L696.8 142.2L697.1 144.0L697.4 144.2L697.7 144.2L698.1 143.0L698.4 143.4L698.7 143.7L699.0 144.2L699.4 142.8L699.7 143.8L700.0 143.4L700.3 143.7L700.6 143.5L700.9 142.6L701.2 143.0L701.5 142.4L701.8 141.7L702.1 142.6L702.4 141.3L702.7 143.1L703.0 142.5L703.3 141.6L703.6 142.1L703.9 141.4L704.2 141.5L704.5 140.7L704.8 141.7L705.1 140.3L705.4 140.3L705.7 142.3L706.0 141.0L706.3 139.9L706.6 140.7L706.9 139.3L707.2 139.9L707.5 139.3L707.8 139.3L708.1 139.6L708.4 139.8L708.7 140.0L709.0 139.1L709.3 138.1L709.6 139.2L709.9 138.9L710.2 139.5L710.5 138.8L710.8 139.7L711.1 139.0L711.4 138.1L711.7 138.4L712.0 138.0L712.3 139.1L712.6 137.2L712.9 137.5L713.2 137.9L713.6 136.8L713.9 137.9L714.2 136.2L714.5 137.8L714.8 137.2L715.1 136.7L715.4 136.7L715.7 135.9L716.0 137.0L716.3 136.8L716.6 135.5L716.9 136.4L717.2 136.0L717.5 135.9L717.8 135.0L718.1 136.8L718.4 136.2L718.7 135.2L719.0 135.4L719.4 136.4L719.7 135.2L720.0 135.0L720.3 135.3L720.6 135.4L720.9 134.8L721.2 134.8L721.5 135.3L721.8 134.3L722.2 134.1L722.5 134.4L722.8 133.1L723.1 133.5L723.4 134.3L723.7 133.5L724.0 134.1L724.3 133.6L724.6 133.7L724.9 132.7L725.3 132.5L725.6 132.4L725.9 134.0L726.2 133.0L726.5 133.2L726.8 133.4L727.1 133.4L727.4 132.4L727.7 131.6L728.0 132.0L728.3 132.2L728.6 131.9L728.9 132.0L729.2 130.7L729.5 131.3L729.8 130.8L730.1 132.0L730.4 130.6L730.6 129.9L730.9 131.0L731.2 131.4L731.5 131.0L731.8 130.7L732.1 130.4L732.3 129.9L732.6 129.6L732.9 128.8L733.2 129.4L733.5 129.7L733.8 129.4L734.0 127.9L734.3 129.1L734.6 128.1L734.9 128.3L735.2 128.3L735.5 127.0L735.7 127.3L736.0 127.6L736.3 126.4L736.6 126.5L736.9 126.8L737.2 125.3L737.4 125.3L737.7 125.7L738.0 125.0L738.3 125.3L738.6 126.3L738.9 125.6L739.2 125.8L739.5 124.5L739.8 125.4L740.1 124.7L740.4 125.4L740.7 124.2L741.0 124.6L741.3 124.6L741.6 125.3L741.9 124.4L742.2 123.5L742.5 124.0L742.8 124.9L743.1 123.3L743.4 122.7L743.8 123.1L744.1 123.9L744.4 122.3L744.7 122.6L745.0 124.5L745.3 122.8L745.6 122.8L745.9 122.9L746.2 122.8L746.5 122.2L746.8 122.3L747.2 121.4L747.5 122.6L747.8 122.3L748.1 123.4L748.4 121.6L748.7 121.6L749.0 121.4L749.3 121.5L749.6 122.0L749.9 122.1L750.2 121.1L750.5 121.2L750.8 120.7L751.1 121.6L751.4 120.3L751.7 120.3L752.1 120.6L752.4 120.6L752.7 119.6L753.0 120.0L753.3 120.0L753.6 120.4L753.9 119.5L754.2 119.4L754.5 120.8L754.8 120.2L755.1 120.7L755.4 120.4L755.7 119.6L756.0 119.7L756.3 117.9L756.6 118.1L756.9 118.5L757.2 119.1L757.5 118.6L757.8 118.0L758.1 117.5L758.4 118.9L758.7 117.3L759.0 118.0L759.3 117.8L759.6 117.4L759.9 117.6L760.2 117.5L760.5 118.2L760.8 116.6L761.1 116.9L761.5 116.3L761.8 117.6L762.1 117.1L762.4 116.7L762.7 116.5L763.0 116.2L763.3 116.5L763.6 116.6L763.9 116.4L764.2 115.9L764.5 116.3L764.8 115.6L765.1 114.1L765.4 116.1L765.7 115.0L766.0 114.8L766.3 115.4L766.6 114.9L766.9 114.6L767.2 114.6L767.5 114.9L767.8 114.5L768.1 114.2L768.4 113.5L768.7 114.6L769.0 113.2L769.3 113.3L769.6 113.9L769.9 113.2L770.2 113.6L770.5 112.5L770.8 113.0L771.1 113.3L771.4 113.5L771.7 112.4L772.0 112.6L772.3 112.6L772.6 113.4L772.9 111.4L773.2 112.8L773.5 111.2L773.8 111.7L774.1 112.0L774.3 110.5L774.6 111.4L774.9 109.9L775.2 111.1L775.5 110.7L775.8 111.5L776.1 110.5L776.4 110.4L776.7 109.8L777.0 110.5L777.3 109.3L777.6 108.9L777.9 109.3L778.2 109.6L778.5 109.4L778.8 108.9L779.1 108.6L779.4 107.8L779.7 107.7L780.0 108.3L780.3 108.7L780.6 109.0L780.9 108.7L781.2 108.3L781.5 107.6L781.8 106.9L782.1 107.4L782.4 107.0L782.7 107.0L783.0 107.6L783.3 106.8L783.6 106.7L783.9 106.9L784.2 106.9L784.5 106.7L784.8 107.2L785.1 105.5L785.4 107.3L785.7 105.9L786.0 105.4L786.3 106.6L786.6 104.5L786.9 105.8L787.3 104.2L787.6 106.1L787.9 104.9L788.2 107.0L788.5 104.3L788.8 105.9L789.1 104.6L789.4 104.6L789.7 104.1L790.0 104.0L790.3 104.0L790.6 105.0L790.9 104.4L791.2 104.2L791.5 103.1L791.8 103.7L792.1 103.9L792.4 102.6L792.7 103.7L793.0 103.8L793.3 103.1L793.6 102.9L793.9 103.0L794.2 102.1L794.5 103.0L794.8 103.4L795.1 102.0L795.4 102.1L795.7 101.6L796.0 101.4L796.3 101.2L796.6 100.9L796.8 101.9L797.1 100.9L797.4 100.8L797.7 100.8L798.0 100.0L798.3 101.0L798.6 100.8L798.9 100.9L799.2 99.1L799.5 99.9L799.8 100.4L800.1 98.4L800.3 98.9L800.6 98.3L800.9 98.8L801.2 98.8L801.5 98.5L801.7 97.9L802.0 98.2L802.3 97.1L802.6 98.2L802.9 97.2L803.1 95.8L803.4 96.7L803.7 96.8L804.0 94.8L804.2 97.6L804.5 95.5L804.8 94.5L805.1 96.1L805.3 96.1L805.6 95.6L805.9 94.9L806.2 94.4L806.4 95.4L806.7 94.5L807.0 92.8L807.3 94.3L807.6 94.2L807.8 92.2L808.1 92.0L808.4 93.6L808.7 92.6L809.0 92.1L809.3 92.0L809.6 92.8L809.9 91.9L810.2 91.2L810.5 92.1L810.8 91.5L811.1 91.6L811.4 91.4L811.7 90.0L812.0 91.1L812.3 90.9L812.6 91.0L812.9 90.9L813.2 90.8L813.5 90.5L813.8 90.8L814.1 90.2L814.4 91.0L814.7 89.6L815.0 89.4L815.3 90.6L815.6 89.6L815.8 89.1L816.1 88.2L816.4 89.0L816.7 87.7L817.0 88.0L817.3 88.0L817.5 88.7L817.8 88.3L818.1 87.7L818.4 87.7L818.7 87.0L818.9 87.3L819.2 86.7L819.5 86.8L819.8 86.6L820.0 84.7L820.3 84.7L820.6 83.9L820.9 83.8L821.1 84.7L821.4 84.7L821.7 85.2L822.0 85.6L822.2 83.8L822.5 84.6L822.8 84.4L823.0 83.7L823.3 82.0L823.6 82.1L823.9 82.0L824.1 82.6L824.4 82.9L824.7 81.1L824.9 81.2L825.2 81.3L825.5 81.4L825.8 80.4L826.0 81.4L826.3 80.7L826.6 80.9L826.9 79.4L827.1 80.2L827.4 78.8L827.7 79.7L828.0 79.3L828.2 79.2L828.5 79.0L828.8 78.6L829.0 77.7L829.3 78.8L829.6 76.5L829.8 78.0L830.1 77.1L830.4 76.5L830.7 75.8L830.9 76.0L831.2 75.7L831.5 74.4L831.8 75.9L832.1 74.4L832.4 74.7L832.6 74.1L832.9 76.1L833.2 74.7L833.5 74.8L833.8 74.4L834.1 74.3L834.4 74.0L834.7 73.3L835.0 74.7L835.3 73.9L835.5 72.6L835.8 73.4L836.1 72.6L836.4 72.1L836.7 71.8L837.0 72.4L837.3 71.6L837.6 71.8L837.9 72.2L838.2 71.3L838.6 71.8L838.9 71.4L839.2 72.8L839.5 71.7L839.8 72.5L840.1 72.2L840.4 72.0L840.7 71.0L841.0 71.1L841.3 72.0L841.7 71.7L842.0 70.5L842.3 69.3L842.6 71.0L842.9 70.4L843.2 71.0L843.6 71.3L843.9 71.1L844.2 70.4L844.5 69.3L844.8 71.2L845.2 70.8L845.5 70.2L845.8 70.5L846.1 70.4L846.5 70.2L846.8 70.2L847.1 70.4L847.4 69.9L847.8 70.1L848.1 70.3L848.4 69.6L848.7 69.7L849.1 69.2L849.4 70.9L849.7 69.8L850.0 71.0L850.4 69.0L850.7 70.5L851.0 70.6L851.3 70.2L851.6 70.2L852.0 70.7L852.3 70.7L852.6 68.9L852.9 68.3L853.2 68.3L853.5 69.0L853.9 68.9L854.2 68.9L854.5 68.8L854.8 69.1L855.1 69.0L855.5 69.3L855.8 68.3L856.1 68.9L856.5 69.3L856.8 70.1L857.1 69.4L857.4 69.0L857.7 69.7L858.0 70.1L858.3 69.9L858.5 69.9L858.8 69.9L859.1 69.7L859.3 71.1L859.6 70.1L859.9 71.6L860.1 70.8L860.4 71.3L860.6 72.8L860.8 73.7L861.1 73.4L861.3 73.2L861.5 74.3L861.7 76.9L861.9 72.9L862.1 79.5L862.3 78.7L862.5 76.7L862.7 80.3L862.8 78.6L863.0 79.2L863.1 83.0L863.3 82.5L863.5 77.5L863.6 81.4L863.8 84.6L863.9 78.6L864.1 83.3L864.2 78.2L864.4 88.9L864.5 86.4L864.7 88.1L864.8 89.0L864.9 90.3L865.1 86.1L865.2 92.6L865.3 88.9L865.5 91.0L865.6 97.6L865.7 91.3L865.8 95.6L865.9 97.8L866.0 93.8L866.2 97.2L866.3 97.8L866.4 99.7L866.5 102.5L866.6 102.2L866.7 102.9L866.8 97.6L866.9 103.0L867.0 107.2L867.1 104.5L867.2 105.6L867.3 108.6L867.4 107.6L867.5 108.6L867.6 110.4L867.7 107.6L867.8 112.4L867.9 108.6L867.9 112.4L868.0 110.4L868.1 113.2L868.2 114.5L868.3 120.3L868.4 121.1L868.5 119.1L868.6 119.7L868.7 123.3L868.7 118.7L868.8 124.7L868.9 122.9L869.0 127.9L869.2 128.1L869.3 126.3L869.4 128.7L869.5 127.6L869.6 125.3L869.7 135.8L869.8 133.7L869.9 134.1L870.0 132.3L870.1 133.3L870.2 132.8L870.4 139.3L870.5 134.2L870.6 136.7L870.7 137.0L870.9 134.7L871.0 136.8L871.2 146.1L871.3 143.4L871.5 139.9L871.6 141.3L871.8 147.9L872.0 144.5L872.1 141.6L872.3 142.1L872.5 149.5L872.6 148.1L872.8 151.2L873.0 147.5L873.2 145.0L873.4 148.3L873.6 151.6L873.8 153.4L874.0 153.8L874.2 153.8L874.4 149.3L874.6 155.0L874.8 153.0L875.0 152.9L875.2 153.5L875.4 158.0L875.6 158.7L875.9 155.6L876.1 158.5L876.4 152.1L876.6 156.1L876.9 151.0L877.2 157.5L877.6 159.1L877.9 159.1L878.2 158.5L878.5 158.5L878.8 152.1L879.1 154.7L879.3 159.1L879.6 154.5L879.9 154.0L880.2 156.9L880.4 156.8L880.6 153.9L880.7 153.4L880.9 153.0L881.0 154.0L881.2 150.1L881.3 154.4L881.5 151.9L881.6 147.9L881.7 151.5L881.9 145.8L882.0 147.7L882.1 146.7L882.2 148.6L882.3 144.7L882.4 145.4L882.5 145.2L882.6 145.6L882.7 139.9L882.8 142.1L882.9 138.7L883.0 141.5L883.0 142.8L883.1 140.3L883.2 133.2L883.3 136.1L883.4 131.7L883.5 134.9L883.5 131.0L883.6 132.0L883.7 130.4L883.8 127.3L883.9 129.0L884.0 132.9L884.1 128.9L884.2 129.3L884.3 129.9L884.4 123.5L884.5 124.4L884.6 128.7L884.7 119.8L884.8 119.6L884.9 120.5L885.0 120.0L885.1 119.2L885.3 118.4L885.4 113.6L885.5 122.8L885.6 122.4L885.8 115.2L886.0 120.8L886.2 118.2L886.4 111.6L886.6 115.1L886.8 114.4L887.1 122.3L887.3 115.9L887.6 107.8L887.8 112.2L888.1 113.0L888.3 122.1L888.6 108.3L889.0 117.6L889.3 115.9L889.6 110.7L889.9 113.9L890.2 105.5L890.4 110.0L890.7 119.5L891.0 119.0L891.2 108.6L891.5 121.4L891.7 117.3L892.0 122.8L892.2 123.6L892.5 107.0L892.8 115.3L893.1 120.0L893.3 123.6L893.6 123.9L894.0 121.9L894.3 116.7L894.6 124.6L894.9 116.4L895.2 115.9L895.4 117.1L895.7 118.7L896.0 116.2L896.2 124.4L896.5 121.9L896.8 114.3L897.0 113.1L897.3 118.3L897.6 109.0L897.9 114.5L898.2 113.6L898.5 117.2L898.8 116.0L899.1 120.7L899.4 116.5L899.7 114.0L900.1 118.3L900.4 113.2L900.7 107.8L901.0 116.0L901.3 120.2L901.6 116.3L902.0 116.9L902.3 107.5L902.6 107.9L903.0 110.8L903.3 105.6L903.6 111.1L903.9 119.0L904.2 110.9L904.5 116.5L904.8 115.1L905.1 121.2L905.4 118.8L905.7 114.8L906.0 110.5L906.3 108.8L906.6 112.7L906.9 103.2L907.2 116.6L907.4 116.0L907.7 106.8L908.0 116.5L908.3 115.6L908.6 115.6L908.8 112.8L909.1 110.8L909.4 111.4L909.7 110.6L910.0 114.5L910.2 113.8L910.5 113.0L910.8 115.9L911.1 115.8L911.4 110.5L911.6 115.7L911.9 114.8L912.2 115.4L912.5 117.8L912.7 118.1L913.0 120.2L913.3 115.0L913.6 113.6L913.8 116.5L914.1 112.5L914.4 122.5L914.6 114.2L914.9 113.4L915.2 114.0L915.4 117.4L915.7 117.8L916.0 119.2L916.2 115.8L916.5 122.9L916.8 121.7L917.0 117.1L917.3 116.7L917.6 120.6L917.8 121.4L918.1 112.8L918.4 118.7L918.6 120.1L918.9 124.3L919.2 122.7L919.4 126.4L919.7 119.2L919.9 124.1L920.2 120.0L920.4 125.6L920.7 127.0L921.0 125.9L921.2 120.7L921.5 127.0L921.7 130.5L922.0 127.8L922.2 126.8L922.5 125.5L922.7 121.0L923.0 124.0L923.2 130.2L923.5 127.3L923.8 126.9L924.0 126.3L924.3 127.8L924.5 120.8L924.8 128.5L925.0 129.0L925.3 124.2L925.6 130.9L925.8 130.8L926.1 132.1L926.3 126.1L926.6 127.4L926.9 131.0L927.1 129.2L927.4 136.2L927.7 127.3L927.9 131.0L928.2 133.8L928.4 131.7L928.7 133.2L929.0 134.1L929.2 135.2L929.5 135.5L929.7 132.7L930.0 133.4L930.2 132.4L930.5 139.3L930.7 136.0L931.0 135.2L931.2 132.0L931.4 138.5L931.7 139.1L931.9 139.7L932.1 142.7L932.4 133.6L932.6 140.2L932.8 140.9L933.1 139.7L933.3 134.6L933.5 141.1L933.7 142.1L934.0 143.7L934.2 141.9L934.4 144.8L934.6 141.7L934.9 143.1L935.1 141.2L935.3 147.6L935.5 140.2L935.8 141.5L936.0 146.6L936.2 144.7L936.4 148.4L936.6 147.6L936.8 147.3L937.1 148.4L937.3 143.8L937.5 142.5L937.7 148.8L937.9 151.7L938.1 146.1L938.3 149.8L938.5 152.4L938.7 149.0L939.0 151.2L939.2 155.8L939.4 147.9L939.6 155.2L939.8 152.4L940.0 154.8L940.2 152.7L940.5 152.5L940.7 153.3L940.9 153.8L941.1 152.5" fill="none" stroke="none" marker-start="url(#c)" marker-mid="url(#c)" marker-end="url(#c)"/>
<path d="M85.0 428.8L85.3 431.5L85.7 432.5L86.0 430.4L86.3 431.3L86.6 432.8L87.0 430.8L87.3 431.0L87.6 428.9L88.0 431.4L88.3 429.5L88.6 433.1L89.0 430.3L89.3 430.5L89.6 432.6L89.9 431.3L90.3 432.8L90.6 429.4L90.9 432.3L91.3 431.4L91.6 431.5L91.9 431.1L92.3 431.9L92.6 430.8L92.9 432.1L93.3 431.7L93.6 430.4L93.9 432.7L94.3 428.4L94.6 429.8L94.9 429.9L95.3 430.8L95.6 430.1L95.9 431.8L96.3 433.0L96.6 429.7L96.9 430.5L97.3 431.2L97.6 431.2L97.9 430.4L98.3 431.4L98.6 429.8L98.9 430.4L99.3 431.7L99.6 429.9L99.9 428.6L100.3 433.0L100.6 431.0L100.9 432.5L101.3 428.1L101.6 432.0L101.9 432.1L102.2 433.7L102.6 430.3L102.9 430.7L103.2 428.7L103.6 430.8L103.9 432.6L104.2 430.7L104.5 433.5L104.9 431.6L105.2 432.0L105.5 431.6L105.9 432.7L106.2 431.4L106.5 432.0L106.8 430.8L107.2 434.2L107.5 432.6L107.8 429.8L108.1 428.7L108.5 430.9L108.8 432.5L109.1 431.4L109.4 431.5L109.8 429.9L110.1 430.4L110.4 431.1L110.7 433.4L111.1 432.8L111.4 428.7L111.7 429.9L112.0 429.0L112.3 431.4L112.7 432.4L113.0 431.8L113.3 434.2L113.6 430.7L114.0 436.0L114.3 430.8L114.6 433.5L114.9 432.2L115.3 434.4L115.6 430.0L115.9 430.4L116.2 432.7L116.6 433.5L116.9 433.1L117.2 431.6L117.6 431.9L117.9 430.9L118.2 433.2L118.5 433.1L118.9 436.2L119.2 432.7L119.5 431.6L119.9 431.0L120.2 432.2L120.5 434.4L120.9 432.1L121.2 432.4L121.5 431.6L121.8 433.2L122.2 433.8L122.5 430.2L122.8 431.2L123.2 434.9L123.5 434.3L123.8 435.8L124.2 431.4L124.5 431.5L124.8 433.8L125.2 429.7L125.5 433.2L125.8 432.3L126.2 433.3L126.5 433.7L126.8 430.5L127.1 430.9L127.5 433.4L127.8 428.7L128.1 432.3L128.5 432.4L128.8 433.2L129.1 433.5L129.5 432.8L129.8 432.5L130.1 431.4L130.5 433.0L130.8 433.0L131.1 435.6L131.5 432.2L131.8 430.9L132.1 432.6L132.5 431.2L132.8 434.4L133.1 431.8L133.5 431.1L133.8 435.6L134.1 434.1L134.4 434.1L134.8 432.8L135.1 431.4L135.4 434.8L135.8 435.8L136.1 432.1L136.4 433.3L136.8 429.3L137.1 433.1L137.4 431.9L137.8 433.5L138.1 430.7L138.4 432.1L138.8 434.7L139.1 432.4L139.4 433.4L139.8 434.4L140.1 434.0L140.4 432.4L140.7 435.3L141.1 435.3L141.4 434.3L141.7 433.4L142.1 432.9L142.4 434.3L142.7 433.0L143.1 431.3L143.4 434.9L143.7 431.9L144.1 434.4L144.4 434.4L144.7 431.0L145.0 433.8L145.4 433.9L145.7 436.0L146.0 432.2L146.4 434.6L146.7 432.3L147.0 433.2L147.4 432.7L147.7 436.3L148.0 434.7L148.4 431.8L148.7 433.9L149.0 435.9L149.3 434.1L149.7 430.2L150.0 433.6L150.3 433.3L150.7 432.3L151.0 432.5L151.3 436.3L151.7 433.4L152.0 433.0L152.3 432.7L152.7 431.9L153.0 433.0L153.3 431.0L153.6 434.9L154.0 433.5L154.3 434.4L154.6 434.4L155.0 434.7L155.3 435.2L155.6 436.3L156.0 434.2L156.3 433.5L156.6 432.5L157.0 431.6L157.3 434.8L157.6 434.6L158.0 432.2L158.3 433.6L158.6 433.5L159.0 431.8L159.3 432.5L159.6 435.2L159.9 434.8L160.2 431.9L160.5 430.5L160.8 434.5L161.1 430.5L161.4 431.3L161.7 434.1L162.0 433.8L162.2 432.1L162.5 431.5L162.8 431.6L163.1 431.4L163.4 432.3L163.6 432.7L163.9 431.7L164.2 429.0L164.5 430.8L164.8 430.7L165.1 431.5L165.4 426.4L165.7 430.0L166.0 431.7L166.3 429.6L166.5 431.0L166.8 429.8L167.1 428.7L167.4 430.8L167.7 430.7L168.0 429.6L168.3 429.4L168.6 426.9L168.9 426.9L169.2 425.9L169.5 426.6L169.8 428.2L170.1 426.0L170.5 427.0L170.8 428.0L171.1 427.4L171.4 429.1L171.8 428.9L172.1 429.1L172.4 425.3L172.8 430.8L173.1 427.0L173.4 429.7L173.8 427.9L174.1 427.5L174.4 426.2L174.8 425.3L175.1 425.9L175.4 426.5L175.8 428.1L176.1 425.7L176.4 427.9L176.7 429.5L177.1 430.8L177.4 427.0L177.7 426.6L178.1 429.9L178.4 430.6L178.7 429.0L179.1 428.7L179.4 428.9L179.7 427.6L180.0 426.6L180.4 427.8L180.7 427.4L181.0 427.9L181.4 429.2L181.7 428.4L182.0 427.3L182.4 429.4L182.7 429.1L183.0 427.9L183.3 426.8L183.7 424.9L184.0 428.6L184.3 429.3L184.7 425.5L185.0 428.8L185.3 429.2L185.7 426.7L186.0 427.8L186.3 430.7L186.6 428.0L187.0 429.5L187.3 426.7L187.6 428.0L188.0 427.4L188.3 428.0L188.6 428.5L189.0 428.8L189.3 426.2L189.6 426.7L190.0 429.3L190.3 428.7L190.6 425.5L190.9 426.8L191.3 428.3L191.6 429.0L191.9 429.6L192.3 426.8L192.6 428.4L192.9 430.1L193.3 428.2L193.6 425.2L193.9 428.1L194.3 430.5L194.6 428.6L194.9 429.3L195.2 428.3L195.6 429.6L195.9 427.6L196.2 425.3L196.6 428.2L196.9 426.0L197.2 430.2L197.6 425.5L197.9 429.2L198.2 428.9L198.5 431.4L198.9 427.9L199.2 427.6L199.5 428.3L199.9 427.4L200.2 425.4L200.5 429.2L200.9 430.6L201.2 428.2L201.5 427.8L201.9 427.9L202.2 429.0L202.5 426.1L202.9 428.2L203.2 427.4L203.5 428.6L203.8 430.9L204.2 428.2L204.5 430.4L204.8 428.5L205.2 425.7L205.5 426.2L205.8 427.8L206.2 428.0L206.5 430.1L206.8 429.8L207.2 426.9L207.5 428.3L207.8 427.4L208.2 429.4L208.5 428.0L208.8 429.7L209.2 428.5L209.5 428.1L209.8 429.1L210.2 425.8L210.5 427.9L210.8 429.6L211.2 430.0L211.5 427.9L211.8 427.4L212.1 430.2L212.5 428.6L212.8 426.5L213.1 426.4L213.5 427.5L213.8 429.3L214.1 427.9L214.4 429.2L214.8 429.1L215.1 423.6L215.4 429.2L215.7 429.6L216.1 427.5L216.4 429.3L216.7 426.3L217.1 428.5L217.4 427.2L217.7 427.5L218.0 427.2L218.4 428.2L218.7 427.8L219.0 428.9L219.3 426.3L219.7 427.3L220.0 428.5L220.3 428.7L220.6 428.1L221.0 427.8L221.3 426.6L221.6 427.5L221.9 428.3L222.3 428.2L222.6 427.2L222.9 429.5L223.2 427.0L223.6 427.9L223.9 428.3L224.2 426.4L224.5 428.5L224.9 426.9L225.2 427.4L225.5 425.9L225.8 428.8L226.2 430.6L226.5 428.3L226.8 429.7L227.1 426.3L227.5 427.8L227.8 426.7L228.1 426.2L228.5 427.6L228.8 427.6L229.1 426.2L229.4 427.1L229.8 427.0L230.1 430.8L230.4 429.0L230.8 425.7L231.1 429.8L231.4 427.5L231.7 423.8L232.1 426.4L232.4 426.0L232.7 426.7L233.1 425.6L233.4 425.2L233.7 424.9L234.0 427.3L234.4 426.0L234.7 424.5L235.0 428.1L235.4 427.9L235.7 426.5L236.0 425.4L236.4 427.8L236.7 423.3L237.0 425.5L237.3 429.5L237.7 427.0L238.0 426.2L238.3 426.1L238.7 427.0L239.0 423.1L239.3 428.0L239.6 425.0L240.0 426.7L240.3 426.2L240.6 424.9L241.0 426.9L241.3 426.1L241.6 426.6L242.0 425.3L242.3 426.0L242.6 424.9L242.9 425.3L243.3 426.9L243.6 425.8L243.9 426.9L244.3 425.4L244.6 422.8L244.9 424.7L245.2 427.9L245.6 423.8L245.9 426.0L246.2 427.0L246.6 427.2L246.9 424.2L247.2 424.8L247.5 427.2L247.9 423.9L248.2 425.6L248.5 426.8L248.9 423.8L249.2 426.0L249.5 426.1L249.8 427.7L250.2 428.0L250.5 426.5L250.8 425.7L251.2 422.4L251.5 426.5L251.8 424.7L252.1 424.7L252.5 427.1L252.8 427.4L253.1 426.9L253.4 427.1L253.8 426.6L254.1 425.6L254.4 428.0L254.7 425.2L255.1 426.3L255.4 425.4L255.7 424.4L256.0 424.5L256.4 424.4L256.7 427.2L257.0 427.5L257.3 425.6L257.7 425.1L258.0 425.8L258.3 426.0L258.6 423.8L259.0 425.3L259.3 423.1L259.6 426.8L260.0 426.5L260.3 427.0L260.6 423.9L260.9 426.1L261.3 425.2L261.6 423.3L261.9 423.5L262.2 425.6L262.6 425.4L262.9 424.6L263.2 422.4L263.6 425.3L263.9 423.1L264.2 425.8L264.5 425.3L264.9 422.9L265.2 425.9L265.5 424.6L265.9 424.0L266.2 426.0L266.5 427.1L266.9 426.7L267.2 423.6L267.5 424.3L267.9 425.8L268.2 420.5L268.5 423.5L268.9 426.1L269.2 423.6L269.5 425.2L269.9 424.2L270.2 426.6L270.5 422.1L270.8 425.2L271.2 425.9L271.5 424.7L271.8 424.7L272.2 424.7L272.5 423.0L272.8 426.4L273.2 425.0L273.5 423.8L273.8 425.7L274.1 424.4L274.5 425.8L274.8 425.7L275.1 426.7L275.5 424.2L275.8 422.0L276.1 424.6L276.4 426.2L276.8 427.4L277.1 425.5L277.4 425.7L277.8 424.4L278.1 426.6L278.4 426.6L278.7 424.8L279.1 425.1L279.4 425.3L279.7 426.1L280.1 426.6L280.4 429.0L280.7 427.6L281.0 426.5L281.4 424.1L281.7 421.1L282.0 427.8L282.3 427.2L282.7 424.6L283.0 424.4L283.3 423.1L283.6 425.6L284.0 426.8L284.3 425.3L284.6 426.7L285.0 425.9L285.3 425.1L285.6 426.1L285.9 424.6L286.3 425.1L286.6 426.7L286.9 424.7L287.2 424.7L287.6 425.4L287.9 428.1L288.2 426.0L288.6 426.1L288.9 426.5L289.2 427.5L289.6 424.9L289.9 429.1L290.2 424.5L290.6 428.6L290.9 427.7L291.2 426.6L291.6 427.0L291.9 425.0L292.2 425.9L292.5 424.7L292.9 426.8L293.2 425.0L293.5 426.6L293.9 426.6L294.2 425.7L294.5 425.9L294.8 424.7L295.2 426.5L295.5 425.4L295.8 427.4L296.2 426.0L296.5 425.0L296.8 426.6L297.1 424.0L297.5 425.6L297.8 426.5L298.1 424.6L298.4 425.5L298.8 423.2L299.1 425.8L299.4 427.5L299.7 424.7L300.1 425.2L300.4 425.4L300.7 424.9L301.0 422.4L301.4 422.5L301.7 423.0L302.0 424.7L302.3 425.2L302.7 424.4L303.0 427.1L303.3 426.7L303.6 424.1L303.9 424.6L304.3 423.2L304.6 426.1L304.9 422.4L305.2 425.1L305.6 426.0L305.9 424.0L306.2 426.2L306.5 424.0L306.8 423.4L307.2 424.8L307.5 423.7L307.8 425.7L308.1 426.5L308.5 425.4L308.8 423.1L309.1 424.0L309.4 423.9L309.8 423.8L310.1 423.7L310.4 424.9L310.7 425.7L311.1 426.7L311.4 421.3L311.7 424.2L312.0 421.2L312.3 424.3L312.7 425.8L313.0 426.7L313.3 424.3L313.6 426.3L313.9 426.4L314.3 424.0L314.6 421.6L314.9 424.2L315.2 423.1L315.6 424.1L315.9 425.9L316.2 422.6L316.5 423.2L316.8 423.5L317.2 421.5L317.5 423.5L317.8 425.5L318.1 425.2L318.4 423.8L318.8 422.7L319.1 425.3L319.4 421.6L319.7 425.0L320.0 424.7L320.3 422.8L320.7 424.1L321.0 424.7L321.3 422.0L321.6 425.5L321.9 422.9L322.3 424.1L322.6 422.1L322.9 420.6L323.2 423.5L323.5 423.6L323.9 424.6L324.2 422.1L324.5 422.6L324.8 423.3L325.1 423.3L325.5 423.0L325.8 422.3L326.1 422.8L326.4 421.3L326.7 421.6L327.1 421.9L327.4 421.8L327.7 421.4L328.0 421.9L328.3 419.9L328.7 421.5L329.0 422.7L329.3 424.2L329.6 422.0L329.9 423.9L330.3 421.9L330.6 421.8L330.9 420.2L331.2 423.7L331.5 420.8L331.9 420.4L332.2 423.1L332.5 424.2L332.8 423.6L333.2 421.4L333.5 420.9L333.8 422.3L334.1 425.2L334.4 422.5L334.8 422.7L335.1 422.3L335.4 425.4L335.7 421.6L336.1 423.8L336.4 420.6L336.7 422.4L337.0 423.4L337.3 421.0L337.7 420.1L338.0 422.9L338.3 421.7L338.6 424.6L339.0 421.1L339.3 421.8L339.6 423.3L339.9 422.0L340.2 425.2L340.6 423.0L340.9 421.3L341.2 421.8L341.5 422.5L341.9 424.2L342.2 420.5L342.5 423.0L342.8 418.6L343.1 422.8L343.5 421.7L343.8 420.5L344.1 418.0L344.4 421.8L344.7 421.1L345.1 422.2L345.4 420.9L345.7 421.2L346.0 421.4L346.3 421.7L346.7 421.3L347.0 420.3L347.3 423.8L347.6 418.7L347.9 417.8L348.3 419.8L348.6 423.3L348.9 419.6L349.2 422.1L349.5 420.8L349.9 419.9L350.2 419.0L350.5 420.3L350.8 422.7L351.1 420.4L351.4 418.4L351.7 418.3L352.1 419.9L352.4 420.1L352.7 419.4L353.0 420.5L353.3 418.4L353.6 420.4L354.0 420.1L354.3 418.2L354.6 420.2L354.9 419.9L355.2 418.9L355.5 418.4L355.8 421.2L356.2 419.1L356.5 418.8L356.8 418.9L357.1 418.0L357.4 418.3L357.7 416.4L358.0 418.8L358.3 418.4L358.7 420.5L359.0 417.6L359.3 415.7L359.6 414.1L359.9 417.5L360.2 416.0L360.5 415.5L360.8 417.9L361.1 414.6L361.5 416.3L361.8 418.1L362.1 418.7L362.4 414.1L362.7 414.9L363.0 414.8L363.3 416.8L363.6 417.3L363.9 417.5L364.2 416.4L364.6 417.2L364.9 417.9L365.2 416.0L365.5 418.3L365.8 414.8L366.1 414.3L366.4 414.4L366.7 415.2L367.0 416.7L367.3 415.9L367.6 416.5L368.0 416.8L368.3 416.6L368.6 414.1L368.9 414.9L369.2 415.8L369.5 412.9L369.8 415.9L370.1 414.8L370.4 413.6L370.7 414.0L371.0 415.9L371.3 411.6L371.6 411.3L371.9 413.0L372.3 411.7L372.6 411.3L372.9 411.8L373.2 413.9L373.5 411.7L373.8 413.2L374.1 413.8L374.4 413.1L374.7 413.4L375.0 411.6L375.3 411.7L375.6 413.0L375.9 410.8L376.2 410.5L376.5 414.1L376.8 413.0L377.1 410.7L377.4 411.9L377.7 412.9L378.0 408.7L378.3 413.4L378.6 412.3L378.9 410.3L379.2 409.9L379.5 410.7L379.8 408.5L380.1 411.4L380.4 411.8L380.7 410.1L381.0 408.8L381.3 408.7L381.6 409.9L381.9 409.1L382.2 409.1L382.6 411.6L382.9 408.2L383.2 408.9L383.5 407.4L383.8 410.5L384.1 411.4L384.4 410.5L384.7 410.0L385.0 407.3L385.4 410.3L385.7 406.5L386.0 409.4L386.3 408.3L386.6 408.5L386.9 408.2L387.3 406.1L387.6 407.4L387.9 408.4L388.2 407.6L388.5 407.7L388.9 410.9L389.2 407.4L389.5 406.9L389.8 406.3L390.1 407.0L390.5 406.4L390.8 409.4L391.1 407.8L391.4 410.8L391.7 406.7L392.1 408.6L392.4 405.1L392.7 408.6L393.0 405.5L393.3 406.3L393.7 405.6L394.0 409.3L394.3 407.5L394.6 407.0L394.9 407.6L395.3 408.9L395.6 405.3L395.9 406.6L396.2 406.1L396.5 407.6L396.9 406.9L397.2 406.7L397.5 408.7L397.8 408.2L398.1 406.6L398.4 409.2L398.7 406.5L399.1 407.0L399.4 406.7L399.7 406.2L400.0 408.1L400.3 406.5L400.6 406.1L400.9 407.7L401.2 406.8L401.5 405.1L401.8 404.2L402.1 407.2L402.4 405.1L402.7 403.1L403.0 403.3L403.3 406.9L403.6 405.0L403.9 404.0L404.2 402.6L404.5 404.9L404.8 404.6L405.1 405.3L405.4 405.6L405.7 406.8L406.0 405.4L406.3 401.4L406.6 401.2L406.9 401.8L407.2 400.5L407.5 400.7L407.8 404.4L408.1 400.6L408.4 403.4L408.7 403.5L409.0 402.0L409.3 401.3L409.5 400.5L409.8 400.2L410.1 401.0L410.4 400.8L410.6 400.4L410.9 399.2L411.2 398.1L411.5 398.7L411.7 397.7L412.0 399.2L412.3 396.3L412.5 397.1L412.8 397.6L413.1 397.6L413.3 398.8L413.6 396.0L413.9 395.2L414.1 398.0L414.4 397.8L414.7 398.0L414.9 396.8L415.2 396.5L415.5 394.1L415.7 396.1L416.0 394.8L416.3 396.4L416.6 395.6L416.8 392.7L417.1 390.4L417.4 398.1L417.7 392.4L417.9 392.6L418.2 391.8L418.5 394.1L418.8 392.9L419.1 395.3L419.4 393.3L419.7 392.1L419.9 392.4L420.2 393.7L420.5 391.0L420.8 391.2L421.1 390.8L421.4 389.4L421.7 391.2L422.0 390.1L422.3 387.7L422.6 389.6L422.9 390.1L423.2 389.5L423.5 390.9L423.8 389.6L424.1 387.7L424.4 388.4L424.7 388.6L425.0 388.5L425.2 389.5L425.5 388.7L425.8 388.1L426.1 386.9L426.4 387.5L426.7 388.4L427.0 388.5L427.3 386.6L427.6 389.9L427.9 388.3L428.2 387.2L428.5 386.1L428.7 387.5L429.0 383.2L429.3 387.6L429.6 385.5L429.9 383.1L430.2 386.2L430.5 385.0L430.7 386.7L431.0 385.2L431.3 385.6L431.6 382.8L431.9 385.5L432.2 383.6L432.4 385.1L432.7 382.5L433.0 382.7L433.3 380.6L433.6 384.4L433.9 378.8L434.1 381.8L434.4 380.7L434.7 381.5L435.0 380.1L435.3 381.9L435.5 378.9L435.8 380.8L436.1 380.3L436.4 380.6L436.6 381.5L436.9 380.3L437.2 380.5L437.4 382.5L437.7 381.0L438.0 376.8L438.2 378.8L438.5 377.9L438.7 375.9L439.0 377.7L439.3 328.8L439.5 371.1L439.8 377.1L440.1 377.2L440.4 356.9L440.6 375.6L440.9 343.5L441.2 374.3L441.5 375.0L441.9 376.8L442.2 344.7L442.5 346.7L442.9 375.8L443.2 339.5L443.5 376.3L443.9 373.1L444.2 378.6L444.5 340.1L444.9 346.1L445.2 380.7L445.5 381.1L445.9 384.6L446.2 383.6L446.5 382.4L446.7 380.2L447.0 389.6L447.2 382.6L447.5 390.7L447.7 397.9L447.9 389.0L448.1 326.1L448.3 397.0L448.5 391.0L448.8 355.8L449.0 392.9L449.2 326.5L449.4 392.5L449.6 332.8L449.8 396.1L450.0 385.7L450.1 363.9L450.3 390.7L450.5 328.2L450.7 332.0L450.9 389.8L451.1 392.1L451.3 386.9L451.5 353.2L451.6 422.8L451.8 414.3L452.0 390.1L452.2 405.3L452.4 388.7L452.6 420.0L452.8 414.4L453.0 416.7L453.2 394.7L453.4 418.6L453.6 405.4L453.8 404.5L453.9 414.3L454.1 394.6L454.3 416.5L454.4 410.7L454.6 391.8L454.8 395.1L454.9 391.5L455.1 341.2L455.2 374.2L455.4 430.7L455.5 417.0L455.7 401.3L455.8 428.9L456.0 411.5L456.1 327.3L456.3 326.8L456.4 409.9L456.6 422.6L456.7 395.5L456.9 420.7L457.0 359.4L457.2 405.9L457.3 394.8L457.5 384.9L457.6 417.3L457.8 328.7L457.9 328.4L458.1 403.4L458.2 329.9L458.4 418.3L458.5 414.3L458.6 327.5L458.8 428.0L458.9 393.2L459.1 414.5L459.2 416.5L459.3 426.1L459.5 419.3L459.6 329.4L459.8 431.7L459.9 402.6L460.1 435.3L460.2 423.6L460.4 423.3L460.6 388.9L460.8 384.5L461.0 418.0L461.2 425.1L461.4 431.5L461.7 432.5L461.9 424.9L462.1 423.3L462.4 426.5L462.7 424.5L462.9 428.4L463.2 430.7L463.5 424.6L463.8 426.6L464.1 428.8L464.3 433.3L464.5 426.3L464.7 423.6L464.8 418.6L465.0 427.1L465.2 425.6L465.3 427.5L465.5 432.2L465.7 425.6L465.9 424.0L466.1 426.4L466.3 426.0L466.5 421.7L466.6 427.4L466.8 421.6L467.0 422.4L467.2 422.1L467.4 418.5L467.6 421.3L467.8 419.2L468.0 419.1L468.2 415.9L468.4 416.2L468.6 416.6L468.8 415.9L469.1 415.7L469.4 415.5L469.7 416.9L470.0 415.4L470.3 414.6L470.6 414.6L470.9 414.9L471.2 417.1L471.5 413.3L471.8 415.0L472.1 414.4L472.4 413.3L472.7 414.3L473.0 414.8L473.4 415.4L473.7 413.2L474.0 413.2L474.3 415.2L474.6 417.1L475.0 413.4L475.3 413.6L475.6 412.2L475.9 414.3L476.2 414.0L476.6 416.7L476.9 413.3L477.2 414.5L477.5 411.8L477.9 414.1L478.2 416.4L478.5 413.0L478.8 412.7L479.2 411.6L479.5 412.7L479.8 413.2L480.1 413.6L480.5 413.0L480.8 413.2L481.1 412.1L481.4 412.7L481.8 413.2L482.1 415.3L482.4 410.8L482.7 411.9L483.1 413.2L483.4 413.7L483.7 414.1L484.0 413.8L484.4 413.3L484.7 413.2L485.0 413.6L485.4 415.3L485.7 415.2L486.0 414.4L486.4 409.4L486.7 414.5L487.0 414.1L487.3 414.0L487.7 412.1L488.0 413.9L488.3 411.3L488.6 412.9L488.9 413.4L489.3 414.0L489.6 411.9L489.9 414.8L490.2 414.0L490.5 414.7L490.8 413.1L491.1 416.8L491.4 415.5L491.7 413.2L492.1 413.1L492.4 412.0L492.7 415.9L493.0 413.0L493.3 413.5L493.6 415.4L493.9 414.6L494.3 416.3L494.6 414.5L494.9 415.8L495.2 414.8L495.6 416.0L495.9 418.8L496.2 416.5L496.5 415.5L496.9 414.1L497.2 415.1L497.5 414.0L497.8 416.9L498.2 412.6L498.5 415.6L498.8 413.7L499.1 413.7L499.4 416.2L499.7 415.1L500.1 416.1L500.4 414.5L500.7 412.3L501.0 413.9L501.3 411.5L501.6 414.0L501.9 413.5L502.2 413.9L502.6 413.9L502.9 414.6L503.2 412.3L503.5 410.0L503.8 413.6L504.1 413.5L504.4 411.5L504.8 412.0L505.1 413.1L505.4 413.8L505.7 413.6L506.0 412.2L506.4 413.5L506.7 411.8L507.0 412.3L507.3 413.3L507.6 410.9L508.0 412.9L508.3 413.9L508.6 410.1L508.9 414.9L509.2 412.8L509.6 412.0L509.9 410.6L510.2 411.8L510.5 411.6L510.9 409.4L511.2 413.4L511.5 414.4L511.8 414.0L512.2 413.2L512.5 412.9L512.8 412.1L513.2 410.5L513.5 414.2L513.8 409.7L514.1 413.5L514.4 412.4L514.7 413.6L515.0 414.4L515.3 411.1L515.6 413.4L515.9 413.3L516.1 412.6L516.4 412.2L516.7 416.4L517.0 414.0L517.3 415.3L517.5 414.8L517.8 416.1L518.1 413.9L518.3 416.1L518.6 415.2L518.9 418.7L519.2 413.3L519.4 418.1L519.7 416.9L520.0 416.5L520.3 419.1L520.5 416.0L520.8 415.6L521.1 417.2L521.4 417.0L521.7 417.5L522.0 417.1L522.3 418.5L522.6 416.7L522.9 422.2L523.2 416.9L523.5 417.7L523.8 418.5L524.1 422.8L524.4 419.6L524.7 417.5L525.0 421.0L525.3 419.0L525.6 416.9L525.9 421.5L526.2 419.9L526.6 418.1L526.9 423.0L527.2 419.2L527.5 420.8L527.8 420.8L528.1 421.3L528.4 419.1L528.7 420.0L529.0 419.5L529.4 420.4L529.7 419.6L530.0 419.2L530.3 423.9L530.6 421.6L530.9 423.3L531.2 420.7L531.6 419.2L531.9 420.7L532.2 421.0L532.5 420.0L532.8 420.8L533.2 422.4L533.5 423.4L533.8 423.1L534.1 422.8L534.4 419.4L534.8 421.3L535.1 420.6L535.4 422.4L535.7 420.1L536.0 421.0L536.4 421.1L536.7 425.0L537.0 421.4L537.3 421.2L537.6 421.4L538.0 424.0L538.3 422.2L538.6 423.9L538.9 422.2L539.2 422.8L539.6 425.7L539.9 423.0L540.2 425.2L540.5 424.4L540.8 423.7L541.1 420.2L541.4 423.0L541.8 424.0L542.1 424.8L542.4 424.2L542.7 423.5L543.0 422.1L543.3 423.3L543.6 422.2L543.9 424.3L544.2 422.8L544.6 424.0L544.9 425.3L545.2 425.1L545.5 422.1L545.8 424.2L546.1 426.2L546.4 423.0L546.7 424.5L547.0 425.2L547.3 424.2L547.6 426.1L547.9 423.8L548.3 423.1L548.6 427.8L548.9 424.6L549.2 423.1L549.5 425.7L549.8 427.8L550.1 425.8L550.4 424.2L550.7 427.1L551.0 424.1L551.4 425.8L551.7 426.8L552.0 425.9L552.3 426.8L552.6 422.7L552.9 427.1L553.2 428.0L553.5 425.1L553.8 424.2L554.1 427.0L554.4 429.0L554.7 427.9L555.0 423.7L555.3 426.4L555.7 427.5L556.0 428.9L556.3 425.4L556.6 431.2L556.9 427.4L557.2 428.3L557.5 429.0L557.8 430.9L558.1 427.9L558.4 428.2L558.7 430.3L559.0 428.9L559.4 429.0L559.7 429.1L560.0 432.1L560.3 429.0L560.6 430.1L560.9 429.6L561.2 431.8L561.5 428.1L561.9 429.7L562.2 429.9L562.5 429.9L562.8 430.0L563.1 427.7L563.5 430.7L563.8 429.0L564.1 428.8L564.4 427.7L564.8 429.4L565.1 429.9L565.4 429.8L565.8 431.4L566.1 432.6L566.4 428.8L566.8 426.0L567.1 429.0L567.4 430.9L567.8 428.8L568.1 426.5L568.4 430.0L568.8 427.1L569.1 432.0L569.4 428.9L569.8 427.9L570.1 431.3L570.4 426.2L570.7 429.2L571.1 428.3L571.4 427.0L571.7 430.3L572.1 431.4L572.4 427.6L572.7 430.8L573.1 431.9L573.4 431.0L573.7 429.8L574.1 428.1L574.4 429.4L574.7 429.4L575.1 429.2L575.4 426.8L575.7 430.1L576.0 428.8L576.4 427.4L576.7 429.4L577.0 430.7L577.4 430.9L577.7 429.3L578.0 430.6L578.4 431.9L578.7 431.6L579.0 428.2L579.4 429.0L579.7 428.4L580.0 428.9L580.3 430.4L580.7 431.9L581.0 431.3L581.3 428.0L581.7 427.6L582.0 429.8L582.3 427.0L582.7 429.2L583.0 427.8L583.3 431.4L583.6 427.4L584.0 429.3L584.3 429.7L584.6 429.2L585.0 428.0L585.3 427.9L585.6 430.1L586.0 429.9L586.3 429.0L586.6 428.8L586.9 428.7L587.3 428.4L587.6 429.2L587.9 428.9L588.3 429.6L588.6 427.6L588.9 429.3L589.3 428.2L589.6 429.1L589.9 428.5L590.2 428.6L590.6 428.8L590.9 427.9L591.2 428.0L591.6 428.0L591.9 428.5L592.2 428.8L592.5 427.8L592.9 430.4L593.2 428.5L593.5 430.0L593.9 425.4L594.2 429.0L594.5 429.4L594.9 429.8L595.2 429.5L595.5 427.1L595.8 428.6L596.2 427.8L596.5 429.9L596.8 426.0L597.2 428.4L597.5 429.8L597.8 428.4L598.1 427.5L598.5 428.2L598.8 429.0L599.1 428.5L599.5 426.8L599.8 429.7L600.1 427.6L600.4 428.4L600.8 428.8L601.1 427.8L601.4 427.0L601.8 425.9L602.1 427.1L602.4 428.1L602.7 428.3L603.1 426.5L603.4 429.6L603.7 424.2L604.1 428.9L604.4 429.3L604.7 427.4L605.0 429.2L605.4 429.4L605.7 426.2L606.0 429.2L606.3 428.5L606.7 427.5L607.0 428.4L607.3 426.5L607.6 425.9L608.0 426.7L608.3 426.8L608.6 430.7L609.0 427.0L609.3 428.4L609.6 427.3L609.9 427.1L610.3 427.7L610.6 428.9L610.9 425.4L611.2 428.1L611.5 426.2L611.9 426.7L612.2 426.1L612.5 427.8L612.8 425.5L613.1 426.5L613.5 428.9L613.8 426.6L614.1 427.4L614.4 426.7L614.7 427.4L615.1 427.2L615.4 428.5L615.7 427.0L616.0 425.5L616.3 425.7L616.6 425.3L617.0 424.4L617.3 427.1L617.6 428.4L617.9 426.3L618.2 425.2L618.5 427.2L618.9 425.4L619.2 425.1L619.5 426.6L619.8 426.7L620.1 423.5L620.5 426.2L620.8 425.8L621.1 425.0L621.4 425.2L621.8 425.3L622.1 425.6L622.4 424.8L622.7 426.3L623.1 426.7L623.4 426.2L623.7 425.7L624.0 426.5L624.4 423.3L624.7 426.7L625.0 426.0L625.4 428.6L625.7 424.7L626.0 425.5L626.4 425.6L626.7 423.7L627.0 426.9L627.4 426.8L627.7 423.2L628.0 425.1L628.4 424.0L628.7 424.3L629.0 424.9L629.4 427.6L629.7 424.7L630.0 427.0L630.4 427.1L630.7 426.2L631.0 426.3L631.4 426.9L631.7 426.2L632.0 424.4L632.4 425.4L632.7 423.9L633.0 425.7L633.4 423.9L633.7 427.9L634.0 421.9L634.4 426.4L634.7 426.8L635.0 427.7L635.4 423.3L635.7 426.2L636.0 425.3L636.4 422.6L636.7 425.1L637.0 427.7L637.4 426.5L637.7 426.2L638.0 425.7L638.4 426.4L638.7 428.4L639.0 426.3L639.4 425.2L639.7 425.6L640.0 426.0L640.4 425.7L640.7 425.3L641.0 424.8L641.4 426.6L641.7 425.7L642.0 426.7L642.4 425.1L642.7 422.8L643.0 427.4L643.4 426.5L643.7 425.5L644.0 426.7L644.4 425.2L644.7 423.3L645.0 425.4L645.4 424.8L645.7 427.2L646.0 426.3L646.4 424.9L646.7 424.6L647.0 425.9L647.4 424.3L647.7 425.9L648.0 426.7L648.4 425.8L648.7 426.9L649.0 426.0L649.4 424.7L649.7 425.9L650.0 427.9L650.4 425.3L650.7 427.3L651.0 423.2L651.4 425.8L651.7 427.5L652.0 424.7L652.4 425.6L652.7 424.8L653.0 426.1L653.4 425.8L653.7 424.3L654.0 426.1L654.3 425.4L654.7 423.3L655.0 426.5L655.3 424.0L655.7 426.7L656.0 424.2L656.3 426.7L656.7 425.3L657.0 426.9L657.3 423.7L657.7 424.4L658.0 425.6L658.3 426.1L658.6 425.8L659.0 427.1L659.3 423.9L659.6 425.8L660.0 425.4L660.3 425.2L660.6 423.3L660.9 425.0L661.3 423.5L661.6 426.7L661.9 426.7L662.3 425.7L662.6 425.7L662.9 425.1L663.3 422.5L663.6 423.3L663.9 424.2L664.2 425.0L664.6 423.7L664.9 424.1L665.2 420.9L665.6 426.2L665.9 423.7L666.2 423.0L666.6 423.5L666.9 425.0L667.2 425.3L667.5 422.0L667.9 426.2L668.2 427.1L668.5 425.0L668.9 423.9L669.2 425.3L669.5 424.6L669.9 425.5L670.2 424.3L670.5 423.3L670.9 425.1L671.2 422.7L671.5 424.4L671.8 424.2L672.2 427.0L672.5 426.1L672.8 424.1L673.2 426.4L673.5 426.1L673.8 423.8L674.2 422.1L674.5 425.8L674.8 423.7L675.2 425.2L675.5 425.8L675.8 425.4L676.2 424.3L676.5 423.2L676.8 425.1L677.1 422.2L677.5 424.7L677.8 424.9L678.1 425.0L678.5 424.3L678.8 423.1L679.1 424.5L679.5 424.8L679.8 423.6L680.1 423.0L680.5 423.5L680.8 423.3L681.1 428.1L681.5 422.7L681.8 423.2L682.1 421.8L682.5 426.7L682.8 425.5L683.1 422.9L683.4 424.1L683.8 423.3L684.1 425.2L684.4 425.9L684.8 425.5L685.1 423.8L685.4 423.9L685.8 427.8L686.1 423.0L686.4 425.2L686.8 421.9L687.1 423.9L687.4 424.3L687.7 424.3L688.1 425.6L688.4 423.2L688.7 426.1L689.1 424.6L689.4 421.7L689.7 424.0L690.1 424.2L690.4 423.1L690.7 424.6L691.0 424.2L691.4 422.4L691.7 424.0L692.0 423.0L692.4 421.6L692.7 423.2L693.0 423.2L693.4 423.5L693.7 423.9L694.0 425.8L694.3 424.9L694.7 422.5L695.0 424.6L695.3 424.0L695.7 423.9L696.0 424.0L696.3 424.3L696.6 424.9L697.0 422.7L697.3 425.9L697.6 424.2L698.0 425.2L698.3 425.0L698.6 424.9L698.9 424.2L699.3 423.9L699.6 422.7L699.9 420.8L700.3 425.6L700.6 424.3L700.9 420.8L701.2 425.5L701.6 423.5L701.9 424.5L702.2 423.0L702.5 421.5L702.9 421.2L703.2 424.3L703.5 423.7L703.9 424.0L704.2 424.2L704.5 421.7L704.8 423.1L705.2 421.4L705.5 425.4L705.8 421.6L706.1 420.3L706.5 424.8L706.8 422.3L707.1 422.6L707.5 424.5L707.8 421.1L708.1 422.8L708.4 422.0L708.8 422.1L709.1 423.2L709.4 419.8L709.7 422.2L710.1 422.3L710.4 421.3L710.7 422.4L711.0 423.1L711.4 424.5L711.7 422.5L712.0 424.9L712.3 423.5L712.7 421.2L713.0 422.4L713.3 423.8L713.6 422.7L713.9 422.2L714.3 421.7L714.6 423.6L714.9 424.0L715.2 421.8L715.6 420.3L715.9 420.0L716.2 420.4L716.5 418.0L716.8 421.7L717.2 421.6L717.5 422.6L717.8 423.4L718.1 422.5L718.5 419.9L718.8 420.8L719.1 423.1L719.4 421.2L719.7 421.0L720.1 421.0L720.4 421.1L720.7 420.9L721.0 422.0L721.3 420.6L721.7 420.0L722.0 421.6L722.3 423.4L722.6 423.5L722.9 417.4L723.3 422.2L723.6 418.4L723.9 420.4L724.2 421.3L724.5 422.0L724.9 419.9L725.2 417.8L725.5 420.0L725.8 420.7L726.1 418.9L726.4 421.7L726.8 418.9L727.1 418.8L727.4 418.8L727.7 419.4L728.0 419.9L728.3 419.2L728.7 420.7L729.0 420.3L729.3 417.8L729.6 421.1L729.9 418.1L730.3 419.2L730.6 419.9L730.9 420.1L731.2 420.5L731.5 419.8L731.8 418.1L732.2 420.0L732.5 420.8L732.8 419.8L733.1 419.4L733.4 417.5L733.7 420.8L734.1 420.6L734.4 419.9L734.7 419.1L735.0 419.7L735.3 419.3L735.6 419.3L736.0 416.8L736.3 419.5L736.6 418.4L736.9 418.2L737.2 416.9L737.5 418.3L737.8 419.1L738.2 417.9L738.5 417.0L738.8 417.6L739.1 419.0L739.4 421.2L739.7 417.4L740.1 414.9L740.4 419.6L740.7 416.5L741.0 415.8L741.3 417.8L741.6 418.5L741.9 416.8L742.3 418.6L742.6 418.3L742.9 416.2L743.2 416.0L743.5 418.6L743.8 416.2L744.2 415.5L744.5 417.3L744.8 417.0L745.1 416.0L745.4 415.5L745.7 416.9L746.1 417.9L746.4 416.5L746.7 413.7L747.0 415.8L747.3 414.3L747.6 416.4L748.0 413.7L748.3 416.5L748.6 416.4L748.9 417.0L749.2 415.6L749.5 418.9L749.9 414.2L750.2 416.8L750.5 415.3L750.8 415.5L751.1 414.0L751.5 414.5L751.8 415.5L752.1 413.3L752.4 414.2L752.7 413.9L753.0 415.1L753.4 413.3L753.7 413.0L754.0 413.9L754.3 416.2L754.6 413.9L755.0 415.5L755.3 416.5L755.6 413.5L755.9 413.3L756.2 413.7L756.6 413.9L756.9 413.3L757.2 414.4L757.5 413.5L757.8 413.7L758.2 413.6L758.5 413.2L758.8 414.6L759.1 414.2L759.5 413.4L759.8 411.9L760.1 412.3L760.4 411.8L760.7 412.6L761.1 411.4L761.4 412.0L761.7 415.2L762.0 414.1L762.3 413.1L762.7 415.4L763.0 414.5L763.3 415.7L763.6 411.4L763.9 413.6L764.3 415.5L764.6 414.4L764.9 412.6L765.2 412.8L765.5 412.5L765.8 413.1L766.2 411.3L766.5 413.7L766.8 413.5L767.1 410.8L767.4 411.3L767.8 414.8L768.1 413.4L768.4 410.3L768.7 411.6L769.0 413.1L769.3 412.8L769.7 412.9L770.0 415.9L770.3 412.1L770.6 410.0L770.9 412.4L771.2 413.0L771.6 413.0L771.9 413.0L772.2 412.1L772.5 411.4L772.8 415.6L773.1 414.5L773.5 409.6L773.8 413.4L774.1 410.1L774.4 408.9L774.7 412.9L775.0 414.4L775.3 414.1L775.7 412.1L776.0 411.9L776.3 412.1L776.6 409.8L776.9 412.4L777.2 411.0L777.5 412.3L777.9 412.6L778.2 411.3L778.5 414.1L778.8 410.3L779.1 412.3L779.4 411.8L779.7 411.5L780.1 412.1L780.4 411.3L780.7 410.6L781.0 410.1L781.3 410.1L781.6 409.7L781.9 412.5L782.3 412.0L782.6 411.6L782.9 410.8L783.2 409.6L783.5 410.2L783.8 412.2L784.1 411.2L784.4 410.0L784.8 410.7L785.1 411.6L785.4 410.0L785.7 411.1L786.0 411.6L786.3 410.0L786.6 411.2L786.9 411.5L787.2 408.1L787.6 410.6L787.9 410.1L788.2 408.7L788.5 408.8L788.8 410.4L789.1 408.3L789.4 409.7L789.7 410.2L790.0 408.0L790.3 407.2L790.6 408.4L791.0 410.1L791.3 408.8L791.6 407.6L791.9 410.2L792.2 405.4L792.5 409.6L792.8 407.6L793.1 409.3L793.4 407.3L793.7 408.5L794.0 406.9L794.3 408.9L794.6 407.8L794.9 409.5L795.2 405.9L795.5 403.9L795.8 409.0L796.1 408.5L796.4 407.7L796.7 404.2L797.1 406.8L797.4 405.1L797.7 406.6L798.0 406.3L798.3 405.7L798.6 405.4L798.9 408.4L799.2 406.6L799.5 405.4L799.8 406.5L800.1 406.8L800.4 405.2L800.7 403.6L801.0 404.5L801.3 405.7L801.6 404.7L801.9 404.3L802.2 404.7L802.5 402.5L802.8 405.0L803.1 404.8L803.4 403.6L803.7 402.8L804.0 404.7L804.3 406.2L804.6 402.8L804.9 402.9L805.3 399.6L805.6 405.6L805.9 404.6L806.2 403.2L806.5 403.2L806.8 403.3L807.1 401.7L807.4 403.7L807.7 399.8L808.0 402.2L808.3 403.8L808.6 403.0L808.9 401.3L809.2 403.9L809.5 401.7L809.9 401.6L810.2 401.5L810.5 399.7L810.8 401.6L811.1 401.8L811.4 402.3L811.7 400.6L812.0 400.6L812.3 400.8L812.6 400.8L812.9 401.4L813.2 401.8L813.5 400.0L813.8 398.8L814.1 399.8L814.5 401.7L814.8 398.8L815.1 400.5L815.4 398.8L815.7 398.7L816.0 400.3L816.3 398.7L816.6 399.5L816.9 397.7L817.2 402.3L817.5 399.4L817.8 397.2L818.1 400.2L818.4 398.4L818.7 401.7L819.0 398.7L819.3 398.9L819.6 397.8L819.9 398.3L820.3 397.9L820.6 396.5L820.9 399.4L821.2 397.7L821.5 398.8L821.8 396.1L822.1 397.0L822.4 398.6L822.7 398.2L823.0 394.0L823.3 397.5L823.6 398.9L823.9 394.2L824.2 393.8L824.5 397.1L824.8 393.5L825.1 398.1L825.4 394.1L825.7 397.3L826.0 396.7L826.3 394.9L826.6 397.9L826.9 395.4L827.2 395.8L827.5 395.0L827.8 394.2L828.1 392.7L828.4 395.4L828.7 395.0L829.0 392.8L829.3 394.5L829.6 392.6L829.9 391.6L830.2 393.2L830.5 394.6L830.8 394.1L831.1 393.5L831.4 392.1L831.7 392.2L832.0 391.5L832.3 392.5L832.6 392.9L832.9 393.7L833.2 391.1L833.5 393.3L833.8 392.9L834.1 392.0L834.4 391.1L834.7 393.5L835.0 390.0L835.3 392.5L835.6 391.6L835.9 392.2L836.2 391.6L836.5 391.3L836.8 391.1L837.0 390.4L837.3 389.6L837.6 387.6L837.9 387.5L838.2 389.6L838.5 386.3L838.8 390.1L839.1 388.1L839.4 387.7L839.7 388.7L840.0 389.3L840.3 388.6L840.6 388.0L840.9 386.6L841.1 387.5L841.4 388.6L841.7 389.7L842.0 388.1L842.3 385.3L842.6 388.0L842.9 387.3L843.2 388.9L843.5 386.3L843.8 386.5L844.1 386.8L844.3 385.4L844.6 383.0L844.9 382.9L845.2 386.8L845.5 384.5L845.8 385.1L846.1 384.3L846.4 381.0L846.7 385.4L847.0 384.5L847.3 383.6L847.6 383.8L847.9 384.8L848.1 384.3L848.4 384.0L848.7 382.9L849.0 384.7L849.3 383.3L849.6 381.7L849.9 383.4L850.2 382.1L850.5 381.1L850.8 383.5L851.0 380.6L851.3 382.2L851.6 382.4L851.9 378.9L852.2 379.1L852.5 381.5L852.8 380.2L853.0 377.9L853.3 379.4L853.6 375.3L853.9 380.2L854.2 379.2L854.4 378.9L854.7 375.6L855.0 380.1L855.3 377.2L855.6 378.5L855.8 378.8L856.1 376.7L856.3 376.5L856.6 376.7L856.9 374.4L857.1 376.0L857.4 377.2L857.6 374.3L857.8 372.6L858.1 373.3L858.3 372.3L858.6 375.8L858.8 373.5L859.1 374.4L859.3 349.0L859.6 372.7L859.8 348.7L860.1 370.3L860.4 371.0L860.6 370.1L860.9 367.6L861.2 369.5L861.5 359.0L861.8 368.2L862.1 367.5L862.4 369.7L862.7 368.2L863.0 371.9L863.3 371.3L863.5 355.5L863.7 371.2L864.0 370.2L864.2 371.7L864.4 352.4L864.6 370.0L864.8 369.9L865.0 374.2L865.2 375.8L865.4 374.1L865.7 377.2L865.9 375.3L866.1 356.9L866.3 333.5L866.5 379.0L866.7 375.3L866.9 381.3L867.1 375.5L867.3 367.0L867.5 378.3L867.7 337.0L867.9 378.2L868.0 405.2L868.2 377.6L868.4 393.7L868.6 336.9L868.7 378.7L868.9 382.9L869.0 375.6L869.1 340.3L869.3 341.3L869.4 406.0L869.6 386.7L869.7 383.7L869.8 377.8L869.9 381.8L870.1 351.7L870.2 383.0L870.3 392.1L870.4 353.4L870.6 346.6L870.7 408.6L870.8 343.8L870.9 403.0L871.1 406.6L871.2 418.9L871.3 390.4L871.4 410.0L871.6 413.8L871.7 424.7L871.9 384.8L872.0 401.4L872.1 377.5L872.3 385.9L872.4 416.9L872.6 402.0L872.7 387.3L872.8 372.7L873.0 398.5L873.1 382.1L873.3 366.0L873.4 410.4L873.5 355.0L873.7 392.6L873.8 425.6L874.0 411.9L874.1 414.8L874.3 381.5L874.5 424.1L874.6 391.6L874.8 356.2L875.0 391.9L875.1 393.7L875.3 426.8L875.5 423.1L875.7 422.7L875.9 419.9L876.1 418.1L876.3 417.6L876.5 424.2L876.8 421.2L877.0 424.5L877.2 422.1L877.5 423.7L877.8 420.9L878.1 424.5L878.4 425.9L878.6 423.9L878.9 417.3L879.2 423.8L879.4 414.4L879.6 422.0L879.8 424.7L880.1 421.5L880.3 421.6L880.5 423.5L880.7 421.2L880.9 422.7L881.1 424.0L881.4 422.5L881.6 420.5L881.8 421.1L882.1 421.2L882.3 419.0L882.5 419.6L882.7 416.7L882.9 416.9L883.1 414.6L883.4 415.4L883.6 414.8L883.8 416.3L884.0 414.2L884.3 415.8L884.5 415.3L884.8 411.1L885.0 412.4L885.3 410.9L885.5 410.9L885.7 412.2L886.0 412.1L886.2 408.8L886.5 410.0L886.7 410.0L887.0 408.8L887.3 410.2L887.5 411.1L887.8 409.5L888.1 408.2L888.5 411.0L888.8 411.3L889.1 412.0L889.4 408.6L889.7 408.3L890.0 410.8L890.2 410.3L890.5 408.1L890.8 409.0L891.0 411.0L891.3 412.9L891.5 411.0L891.8 412.3L892.0 414.3L892.3 415.3L892.5 412.1L892.8 414.6L893.0 413.0L893.3 416.5L893.5 413.5L893.8 414.4L894.1 412.2L894.4 415.1L894.6 415.2L894.9 418.4L895.2 415.5L895.5 414.9L895.9 416.0L896.2 415.5L896.5 416.0L896.8 416.0L897.1 415.7L897.4 416.2L897.7 416.3L898.0 415.2L898.3 416.3L898.6 415.9L898.9 415.7L899.1 416.4L899.4 413.4L899.7 415.2L900.0 414.8L900.3 416.1L900.5 412.8L900.8 414.1L901.1 413.2L901.4 412.2L901.6 409.7L901.9 412.5L902.2 411.3L902.5 412.9L902.8 411.7L903.1 408.7L903.3 409.4L903.6 412.0L903.9 411.9L904.3 410.7L904.6 409.6L904.9 410.7L905.2 410.0L905.5 407.8L905.9 409.0L906.2 408.8L906.5 408.6L906.8 410.7L907.1 410.1L907.4 411.3L907.8 409.1L908.1 412.1L908.4 411.4L908.7 414.5L909.0 410.5L909.3 410.2L909.5 412.1L909.8 413.5L910.1 413.6L910.4 413.4L910.7 416.1L911.0 413.9L911.3 413.3L911.6 413.1L911.9 411.4L912.2 414.5L912.5 415.8L912.7 415.0L913.0 415.4L913.3 415.9L913.6 414.5L913.9 413.4L914.2 415.7L914.5 415.7L914.8 413.3L915.1 415.9L915.4 415.9L915.7 416.4L916.0 415.8L916.3 414.5L916.6 414.4L916.9 414.6L917.2 414.2L917.5 414.1L917.8 418.7L918.1 417.5L918.3 415.6L918.6 417.7L918.9 417.8L919.2 418.1L919.5 417.2L919.8 417.1L920.1 418.3L920.4 417.3L920.7 418.8L921.0 418.0L921.3 419.9L921.6 418.9L921.9 417.7L922.2 419.1L922.5 420.5L922.8 415.8L923.1 419.4L923.4 419.8L923.6 419.3L923.9 418.9L924.2 420.3L924.5 422.3L924.8 419.1L925.1 422.7L925.4 421.8L925.7 420.5L926.0 420.1L926.3 421.9L926.6 419.9L926.9 418.5L927.2 423.0L927.5 418.5L927.8 419.4L928.1 421.8L928.4 420.9L928.7 425.1L929.0 423.5L929.3 420.0L929.6 423.5L929.9 422.7L930.2 424.6L930.5 426.5L930.8 425.2L931.1 420.0L931.4 423.0L931.7 424.0L932.0 425.2L932.3 422.4L932.6 424.3L932.9 424.0L933.2 423.1L933.5 423.5L933.8 424.7L934.1 426.7L934.4 426.9L934.7 424.4L935.0 427.0L935.3 425.4L935.6 424.6L935.9 424.5L936.3 422.4L936.6 425.3L936.9 424.1L937.2 423.5L937.5 425.8L937.8 427.9L938.2 427.0L938.5 426.1L938.8 425.1L939.1 422.4L939.5 426.5L939.8 426.6L940.1 424.9L940.4 423.6L940.8 424.6L941.1 425.8" fill="none" stroke="#0072bd" stroke-width="0.6" marker-start="url(#a)" marker-mid="url(#a)" marker-end="url(#a)"/>
<path d="M85.0 426.8L85.3 426.1L85.7 427.6L86.0 427.7L86.3 427.0L86.6 427.4L87.0 428.2L87.3 427.8L87.6 427.6L88.0 427.6L88.3 426.6L88.6 427.7L89.0 426.1L89.3 426.9L89.6 426.8L89.9 426.1L90.3 427.0L90.6 428.1L90.9 426.9L91.3 426.3L91.6 427.0L91.9 427.6L92.3 427.2L92.6 427.0L92.9 426.2L93.3 427.3L93.6 427.3L93.9 427.8L94.3 427.9L94.6 427.4L94.9 426.0L95.3 426.2L95.6 426.4L95.9 427.2L96.3 426.5L96.6 427.8L96.9 427.2L97.3 427.2L97.6 427.5L97.9 427.2L98.3 426.2L98.6 428.5L98.9 427.9L99.3 427.9L99.6 426.6L99.9 425.9L100.3 426.1L100.6 426.4L100.9 427.5L101.3 427.6L101.6 427.9L101.9 428.3L102.2 427.4L102.6 427.3L102.9 426.9L103.2 426.9L103.6 426.4L103.9 427.4L104.2 427.4L104.5 426.9L104.9 426.7L105.2 427.5L105.5 428.0L105.9 427.3L106.2 427.5L106.5 427.0L106.8 427.2L107.2 427.2L107.5 427.3L107.8 427.1L108.1 427.8L108.5 428.3L108.8 427.0L109.1 428.5L109.4 427.4L109.8 427.5L110.1 426.4L110.4 426.3L110.7 428.2L111.1 427.2L111.4 428.4L111.7 427.9L112.0 428.1L112.3 428.8L112.7 428.0L113.0 426.1L113.3 427.0L113.6 428.7L114.0 429.4L114.3 428.1L114.6 427.8L114.9 427.4L115.3 428.6L115.6 427.2L115.9 427.6L116.2 428.5L116.6 428.5L116.9 428.3L117.2 429.1L117.6 427.7L117.9 427.8L118.2 428.3L118.5 428.6L118.9 428.3L119.2 429.8L119.5 428.2L119.9 429.0L120.2 428.3L120.5 428.8L120.9 428.4L121.2 428.4L121.5 429.6L121.8 428.5L122.2 429.7L122.5 428.2L122.8 428.4L123.2 429.4L123.5 427.2L123.8 427.7L124.2 428.7L124.5 429.0L124.8 429.1L125.2 428.5L125.5 427.9L125.8 429.3L126.2 429.0L126.5 428.1L126.8 428.8L127.1 429.9L127.5 428.9L127.8 428.1L128.1 428.5L128.5 428.6L128.8 429.0L129.1 429.4L129.5 428.3L129.8 428.4L130.1 429.5L130.5 429.3L130.8 429.7L131.1 428.0L131.5 428.3L131.8 429.5L132.1 428.3L132.5 429.1L132.8 428.8L133.1 428.4L133.5 429.8L133.8 428.9L134.1 428.6L134.4 428.8L134.8 429.1L135.1 428.0L135.4 428.4L135.8 428.1L136.1 427.7L136.4 429.5L136.8 429.8L137.1 429.7L137.4 427.9L137.8 429.2L138.1 429.4L138.4 428.6L138.8 429.5L139.1 428.3L139.4 428.4L139.8 428.5L140.1 428.6L140.4 428.4L140.7 429.6L141.1 428.4L141.4 428.8L141.7 428.7L142.1 430.4L142.4 428.5L142.7 429.4L143.1 430.2L143.4 428.4L143.7 428.6L144.1 428.9L144.4 428.3L144.7 429.9L145.0 428.9L145.4 429.8L145.7 429.5L146.0 429.2L146.4 429.8L146.7 429.0L147.0 429.9L147.4 428.5L147.7 428.8L148.0 430.0L148.4 428.0L148.7 429.6L149.0 429.1L149.3 429.0L149.7 428.9L150.0 430.1L150.3 428.4L150.7 429.9L151.0 429.7L151.3 429.1L151.7 429.3L152.0 429.8L152.3 429.0L152.7 428.5L153.0 429.6L153.3 428.9L153.6 429.2L154.0 429.5L154.3 429.9L154.6 430.5L155.0 429.7L155.3 429.5L155.6 430.0L156.0 429.6L156.3 428.5L156.6 429.1L157.0 428.7L157.3 429.9L157.6 430.3L158.0 429.7L158.3 428.9L158.6 430.0L159.0 428.9L159.3 429.6L159.6 428.7L159.9 428.5L160.2 428.4L160.5 429.1L160.8 428.5L161.1 429.0L161.4 427.8L161.7 428.7L162.0 427.8L162.2 428.7L162.5 428.3L162.8 427.4L163.1 427.4L163.4 427.2L163.6 427.1L163.9 426.5L164.2 427.1L164.5 426.0L164.8 425.0L165.1 426.1L165.4 425.7L165.7 426.1L166.0 425.8L166.3 425.4L166.5 425.2L166.8 425.1L167.1 424.4L167.4 423.9L167.7 424.0L168.0 424.3L168.3 422.8L168.6 423.8L168.9 423.3L169.2 423.7L169.5 423.2L169.8 423.6L170.1 423.4L170.5 424.2L170.8 423.2L171.1 423.3L171.4 423.4L171.8 422.3L172.1 422.8L172.4 424.3L172.8 423.7L173.1 423.5L173.4 424.1L173.8 423.3L174.1 423.3L174.4 423.3L174.8 422.4L175.1 424.0L175.4 423.4L175.8 423.4L176.1 423.3L176.4 423.1L176.7 422.2L177.1 423.6L177.4 424.8L177.7 424.1L178.1 423.4L178.4 423.0L178.7 423.6L179.1 423.8L179.4 423.5L179.7 424.1L180.0 423.1L180.4 424.3L180.7 423.8L181.0 423.4L181.4 423.5L181.7 423.9L182.0 424.2L182.4 423.8L182.7 424.1L183.0 425.2L183.3 422.8L183.7 422.6L184.0 423.9L184.3 423.2L184.7 423.9L185.0 422.9L185.3 423.9L185.7 424.7L186.0 424.6L186.3 423.2L186.6 423.7L187.0 424.5L187.3 425.0L187.6 423.4L188.0 423.5L188.3 424.6L188.6 423.8L189.0 423.4L189.3 424.6L189.6 423.0L190.0 423.6L190.3 424.6L190.6 423.7L190.9 424.5L191.3 423.3L191.6 424.5L191.9 424.4L192.3 425.1L192.6 424.0L192.9 423.9L193.3 424.1L193.6 424.8L193.9 423.7L194.3 424.1L194.6 425.3L194.9 424.7L195.2 424.6L195.6 423.9L195.9 424.7L196.2 423.5L196.6 423.3L196.9 423.7L197.2 425.1L197.6 424.4L197.9 423.7L198.2 424.1L198.5 424.6L198.9 425.0L199.2 423.3L199.5 425.1L199.9 424.9L200.2 423.9L200.5 424.1L200.9 424.7L201.2 424.2L201.5 424.5L201.9 423.8L202.2 423.3L202.5 425.9L202.9 424.5L203.2 424.6L203.5 424.7L203.8 425.2L204.2 425.0L204.5 423.8L204.8 424.4L205.2 424.5L205.5 424.9L205.8 424.1L206.2 424.7L206.5 424.6L206.8 425.3L207.2 422.9L207.5 424.5L207.8 424.7L208.2 424.9L208.5 424.5L208.8 424.0L209.2 424.9L209.5 424.7L209.8 424.0L210.2 423.7L210.5 424.8L210.8 424.0L211.2 424.8L211.5 425.4L211.8 424.6L212.1 424.6L212.5 424.5L212.8 425.2L213.1 425.2L213.5 424.4L213.8 424.8L214.1 424.3L214.4 424.0L214.8 424.7L215.1 424.2L215.4 423.7L215.7 423.3L216.1 424.7L216.4 423.5L216.7 423.4L217.1 423.9L217.4 424.5L217.7 422.9L218.0 424.3L218.4 424.1L218.7 423.1L219.0 423.2L219.3 423.7L219.7 424.9L220.0 423.6L220.3 424.4L220.6 424.2L221.0 422.7L221.3 423.6L221.6 424.2L221.9 423.2L222.3 424.2L222.6 422.8L222.9 422.6L223.2 423.1L223.6 423.8L223.9 423.1L224.2 423.9L224.5 422.3L224.9 422.9L225.2 424.0L225.5 421.7L225.8 423.3L226.2 422.6L226.5 422.7L226.8 422.9L227.1 422.2L227.5 423.6L227.8 423.4L228.1 423.7L228.5 423.1L228.8 422.4L229.1 423.3L229.4 422.1L229.8 422.3L230.1 424.1L230.4 423.5L230.8 423.1L231.1 423.7L231.4 422.6L231.7 423.1L232.1 422.3L232.4 422.6L232.7 422.8L233.1 423.6L233.4 422.3L233.7 423.3L234.0 422.7L234.4 421.6L234.7 421.5L235.0 422.2L235.4 423.3L235.7 422.8L236.0 423.7L236.4 422.7L236.7 423.4L237.0 422.7L237.3 422.0L237.7 422.9L238.0 422.1L238.3 421.6L238.7 422.0L239.0 422.2L239.3 422.6L239.6 422.9L240.0 422.8L240.3 423.7L240.6 421.2L241.0 422.3L241.3 423.9L241.6 422.1L242.0 421.6L242.3 421.9L242.6 421.7L242.9 422.0L243.3 423.3L243.6 421.4L243.9 421.8L244.3 423.1L244.6 422.4L244.9 422.4L245.2 421.9L245.6 422.7L245.9 421.5L246.2 422.7L246.6 422.2L246.9 422.0L247.2 421.7L247.5 422.6L247.9 422.2L248.2 421.8L248.5 422.1L248.9 421.3L249.2 422.7L249.5 422.8L249.8 422.6L250.2 422.0L250.5 422.2L250.8 421.0L251.2 421.6L251.5 421.6L251.8 421.7L252.1 422.1L252.5 421.4L252.8 421.2L253.1 422.4L253.4 421.4L253.8 421.2L254.1 420.3L254.4 420.7L254.7 421.3L255.1 421.6L255.4 420.3L255.7 421.4L256.0 421.5L256.4 421.0L256.7 421.3L257.0 422.1L257.3 420.8L257.7 420.2L258.0 420.9L258.3 420.6L258.6 421.1L259.0 421.5L259.3 421.6L259.6 421.2L260.0 421.8L260.3 421.2L260.6 421.6L260.9 421.1L261.3 421.1L261.6 420.6L261.9 420.8L262.2 420.5L262.6 420.6L262.9 420.8L263.2 421.5L263.6 420.6L263.9 421.1L264.2 420.0L264.5 420.5L264.9 421.4L265.2 420.9L265.5 419.6L265.9 420.6L266.2 420.5L266.5 419.9L266.9 419.6L267.2 420.0L267.5 420.0L267.9 421.0L268.2 421.0L268.5 421.0L268.9 421.3L269.2 419.3L269.5 420.5L269.9 420.8L270.2 420.2L270.5 420.3L270.8 420.2L271.2 420.8L271.5 420.6L271.8 421.4L272.2 420.9L272.5 420.8L272.8 420.7L273.2 420.3L273.5 420.8L273.8 421.3L274.1 421.1L274.5 420.2L274.8 419.9L275.1 421.3L275.5 421.0L275.8 421.1L276.1 420.4L276.4 421.4L276.8 421.4L277.1 420.8L277.4 421.3L277.8 420.5L278.1 421.0L278.4 419.8L278.7 420.9L279.1 422.6L279.4 421.5L279.7 422.2L280.1 421.5L280.4 421.3L280.7 421.3L281.0 421.0L281.4 421.7L281.7 420.9L282.0 421.4L282.3 423.3L282.7 421.7L283.0 421.1L283.3 422.1L283.6 421.7L284.0 421.3L284.3 420.9L284.6 421.5L285.0 421.3L285.3 421.6L285.6 421.9L285.9 421.8L286.3 421.1L286.6 422.0L286.9 422.0L287.2 420.9L287.6 422.0L287.9 421.7L288.2 422.0L288.6 421.1L288.9 421.6L289.2 421.7L289.6 421.1L289.9 422.1L290.2 421.6L290.6 422.0L290.9 421.2L291.2 421.0L291.6 421.1L291.9 420.5L292.2 421.3L292.5 422.0L292.9 422.6L293.2 422.4L293.5 422.5L293.9 422.5L294.2 423.0L294.5 421.8L294.8 422.2L295.2 422.0L295.5 420.0L295.8 421.7L296.2 421.6L296.5 421.8L296.8 421.2L297.1 421.0L297.5 421.1L297.8 421.9L298.1 421.7L298.4 422.3L298.8 420.5L299.1 422.0L299.4 422.4L299.7 420.7L300.1 421.2L300.4 420.2L300.7 419.4L301.0 420.2L301.4 421.0L301.7 421.1L302.0 420.7L302.3 421.3L302.7 421.1L303.0 422.0L303.3 419.9L303.6 420.2L303.9 420.3L304.3 420.2L304.6 420.3L304.9 422.0L305.2 420.3L305.6 420.9L305.9 419.5L306.2 419.9L306.5 420.9L306.8 420.9L307.2 419.2L307.5 421.5L307.8 420.4L308.1 419.6L308.5 420.4L308.8 419.6L309.1 419.1L309.4 420.1L309.8 420.4L310.1 420.6L310.4 418.8L310.7 419.2L311.1 419.6L311.4 420.4L311.7 420.5L312.0 419.4L312.3 418.8L312.7 419.9L313.0 419.2L313.3 419.7L313.6 420.1L313.9 419.7L314.3 418.7L314.6 418.5L314.9 418.3L315.2 419.6L315.6 419.8L315.9 418.4L316.2 418.7L316.5 418.3L316.8 418.8L317.2 418.3L317.5 418.2L317.8 419.5L318.1 419.2L318.4 418.6L318.8 419.3L319.1 418.1L319.4 418.7L319.7 417.8L320.0 417.8L320.3 418.9L320.7 417.4L321.0 417.9L321.3 417.3L321.6 417.2L321.9 418.0L322.3 417.9L322.6 416.9L322.9 419.1L323.2 418.7L323.5 417.1L323.9 417.9L324.2 417.6L324.5 417.1L324.8 416.6L325.1 417.4L325.5 417.2L325.8 418.0L326.1 417.3L326.4 416.5L326.7 416.7L327.1 417.0L327.4 417.6L327.7 416.2L328.0 417.1L328.3 417.7L328.7 415.9L329.0 417.6L329.3 416.3L329.6 416.6L329.9 416.3L330.3 416.8L330.6 416.8L330.9 416.8L331.2 418.2L331.5 414.8L331.9 416.0L332.2 415.4L332.5 416.1L332.8 415.7L333.2 416.0L333.5 416.1L333.8 415.7L334.1 416.6L334.4 415.0L334.8 415.6L335.1 415.9L335.4 416.7L335.7 415.0L336.1 415.0L336.4 416.0L336.7 415.7L337.0 414.7L337.3 416.3L337.7 415.7L338.0 415.3L338.3 415.2L338.6 415.5L339.0 415.1L339.3 415.5L339.6 415.5L339.9 414.6L340.2 414.2L340.6 416.1L340.9 414.8L341.2 416.1L341.5 415.1L341.9 413.3L342.2 415.1L342.5 414.3L342.8 413.4L343.1 414.8L343.5 414.0L343.8 414.5L344.1 415.3L344.4 415.1L344.7 414.6L345.1 414.5L345.4 414.5L345.7 413.9L346.0 413.7L346.3 414.0L346.7 414.3L347.0 413.6L347.3 413.9L347.6 414.0L347.9 413.4L348.3 414.5L348.6 414.6L348.9 413.9L349.2 413.1L349.5 412.4L349.9 412.0L350.2 414.2L350.5 413.6L350.8 413.0L351.1 412.4L351.4 413.1L351.7 413.7L352.1 413.3L352.4 412.4L352.7 414.8L353.0 413.2L353.3 412.0L353.6 413.0L354.0 412.9L354.3 413.0L354.6 412.7L354.9 411.7L355.2 412.6L355.5 411.8L355.8 412.3L356.2 412.1L356.5 412.5L356.8 412.1L357.1 411.7L357.4 413.4L357.7 411.5L358.0 411.4L358.3 411.8L358.7 411.8L359.0 412.0L359.3 410.4L359.6 410.9L359.9 411.8L360.2 411.2L360.5 411.1L360.8 410.0L361.1 409.9L361.5 410.2L361.8 410.7L362.1 411.0L362.4 410.9L362.7 409.1L363.0 410.2L363.3 410.2L363.6 409.8L363.9 409.7L364.2 409.2L364.6 409.5L364.9 408.2L365.2 410.3L365.5 409.6L365.8 410.3L366.1 408.8L366.4 408.1L366.7 410.2L367.0 407.6L367.3 408.1L367.6 409.2L368.0 409.5L368.3 408.2L368.6 408.3L368.9 408.2L369.2 408.6L369.5 407.6L369.8 408.5L370.1 408.5L370.4 407.8L370.7 407.8L371.0 409.1L371.3 407.7L371.6 407.2L371.9 408.0L372.3 407.9L372.6 406.6L372.9 406.4L373.2 407.7L373.5 407.5L373.8 407.4L374.1 407.5L374.4 405.6L374.7 405.2L375.0 406.7L375.3 406.5L375.6 405.9L375.9 406.2L376.2 405.1L376.5 404.8L376.8 405.3L377.1 405.5L377.4 405.4L377.7 404.9L378.0 405.2L378.3 405.4L378.6 404.9L378.9 404.1L379.2 405.4L379.5 403.5L379.8 404.2L380.1 405.1L380.4 405.3L380.7 404.7L381.0 403.4L381.3 402.4L381.6 403.1L381.9 403.3L382.2 403.3L382.6 402.5L382.9 402.7L383.2 403.0L383.5 402.8L383.8 403.5L384.1 403.0L384.4 402.9L384.7 402.1L385.0 402.4L385.4 401.1L385.7 402.0L386.0 401.2L386.3 402.2L386.6 402.4L386.9 402.0L387.3 402.8L387.6 401.4L387.9 401.7L388.2 401.4L388.5 401.5L388.9 402.4L389.2 400.7L389.5 402.5L389.8 402.3L390.1 401.8L390.5 401.2L390.8 401.5L391.1 401.0L391.4 402.1L391.7 400.5L392.1 400.6L392.4 401.1L392.7 399.5L393.0 401.9L393.3 400.7L393.7 401.4L394.0 400.9L394.3 399.7L394.6 400.8L394.9 400.9L395.3 399.9L395.6 400.0L395.9 399.9L396.2 400.9L396.5 399.6L396.9 399.8L397.2 400.2L397.5 400.2L397.8 399.7L398.1 401.0L398.4 400.9L398.7 399.1L399.1 400.9L399.4 400.0L399.7 400.0L400.0 400.0L400.3 398.6L400.6 398.5L400.9 399.5L401.2 398.7L401.5 400.6L401.8 398.6L402.1 399.3L402.4 398.0L402.7 399.8L403.0 399.5L403.3 397.4L403.6 398.4L403.9 398.1L404.2 398.8L404.5 396.3L404.8 397.4L405.1 398.0L405.4 397.1L405.7 396.8L406.0 396.1L406.3 397.1L406.6 396.5L406.9 395.6L407.2 396.4L407.5 395.8L407.8 396.2L408.1 396.3L408.4 396.4L408.7 395.8L409.0 394.7L409.3 395.0L409.5 394.7L409.8 395.6L410.1 393.9L410.4 395.7L410.6 394.0L410.9 394.5L411.2 393.1L411.5 394.7L411.7 392.4L412.0 394.8L412.3 393.1L412.5 393.3L412.8 392.8L413.1 390.6L413.3 393.5L413.6 388.9L413.9 391.1L414.1 391.9L414.4 392.1L414.7 389.1L414.9 389.0L415.2 389.2L415.5 387.5L415.7 388.6L416.0 387.1L416.3 389.5L416.6 387.9L416.8 386.4L417.1 386.2L417.4 387.9L417.7 385.5L417.9 384.0L418.2 384.4L418.5 387.2L418.8 382.5L419.1 386.5L419.4 388.0L419.7 384.6L419.9 385.1L420.2 382.3L420.5 383.2L420.8 384.0L421.1 385.8L421.4 384.0L421.7 382.2L422.0 383.4L422.3 381.7L422.6 388.1L422.9 382.7L423.2 387.4L423.5 380.3L423.8 381.5L424.1 386.7L424.4 382.8L424.7 388.0L425.0 384.9L425.2 386.2L425.5 379.6L425.8 383.6L426.1 381.9L426.4 386.5L426.7 381.9L427.0 382.2L427.3 381.0L427.6 378.0L427.9 383.8L428.2 381.3L428.5 383.7L428.7 378.8L429.0 381.3L429.3 380.0L429.6 381.1L429.9 383.0L430.2 381.0L430.5 382.4L430.7 377.7L431.0 380.0L431.3 385.9L431.6 381.3L431.9 375.0L432.2 385.3L432.4 379.6L432.7 375.8L433.0 375.5L433.3 383.1L433.6 380.9L433.9 378.0L434.1 383.2L434.4 379.3L434.7 381.0L435.0 376.8L435.3 378.6L435.5 379.2L435.8 380.0L436.1 376.3L436.4 377.8L436.6 379.1L436.9 381.6L437.2 378.3L437.4 377.5L437.7 378.1L438.0 382.7L438.2 375.9L438.5 376.8L438.7 376.0L439.0 380.1L439.3 380.4L439.5 377.0L439.8 372.3L440.1 374.4L440.4 370.5L440.6 373.2L440.9 373.3L441.2 372.8L441.5 377.1L441.9 376.7L442.2 374.6L442.5 374.9L442.9 370.3L443.2 374.2L443.5 373.1L443.9 372.0L444.2 375.0L444.5 372.5L444.9 375.6L445.2 376.3L445.5 379.5L445.9 374.0L446.2 374.0L446.5 373.3L446.7 372.8L447.0 375.7L447.2 378.7L447.5 374.4L447.7 374.2L447.9 376.3L448.1 379.8L448.3 376.1L448.5 375.1L448.8 374.2L449.0 377.0L449.2 382.5L449.4 378.2L449.6 381.5L449.8 379.5L450.0 379.7L450.1 381.8L450.3 375.2L450.5 383.7L450.7 386.4L450.9 384.0L451.1 384.2L451.3 386.6L451.5 382.0L451.6 381.5L451.8 385.4L452.0 386.7L452.2 390.9L452.4 390.9L452.6 392.7L452.8 392.3L453.0 395.2L453.2 390.5L453.4 390.3L453.6 385.1L453.8 395.2L453.9 396.2L454.1 396.1L454.3 397.1L454.4 399.4L454.6 394.1L454.8 399.4L454.9 395.4L455.1 399.7L455.2 397.1L455.4 399.2L455.5 404.9L455.7 404.4L455.8 402.4L456.0 404.7L456.1 399.5L456.3 408.0L456.4 408.1L456.6 405.3L456.7 406.3L456.9 409.6L457.0 408.2L457.2 413.3L457.3 410.1L457.5 413.4L457.6 411.2L457.8 414.9L457.9 411.8L458.1 410.4L458.2 414.4L458.4 416.9L458.5 413.2L458.6 418.4L458.8 414.0L458.9 416.8L459.1 417.0L459.2 423.9L459.3 422.4L459.5 418.8L459.6 419.5L459.8 421.8L459.9 421.7L460.1 422.3L460.2 421.5L460.4 424.6L460.6 424.0L460.8 424.8L461.0 425.9L461.2 424.9L461.4 424.6L461.7 427.9L461.9 423.3L462.1 427.5L462.4 427.0L462.7 426.8L462.9 427.4L463.2 430.6L463.5 429.6L463.8 427.9L464.1 429.1L464.3 429.1L464.5 425.8L464.7 425.7L464.8 425.0L465.0 425.2L465.2 423.3L465.3 423.8L465.5 423.8L465.7 421.1L465.9 421.1L466.1 421.9L466.3 420.0L466.5 418.8L466.6 418.5L466.8 417.4L467.0 417.8L467.2 416.6L467.4 416.5L467.6 415.5L467.8 414.1L468.0 412.4L468.2 413.0L468.4 413.7L468.6 412.3L468.8 412.7L469.1 412.5L469.4 410.7L469.7 411.3L470.0 411.3L470.3 412.1L470.6 412.1L470.9 410.6L471.2 411.3L471.5 411.0L471.8 410.1L472.1 411.3L472.4 411.6L472.7 409.8L473.0 410.8L473.4 409.9L473.7 410.9L474.0 410.9L474.3 409.9L474.6 410.0L475.0 411.0L475.3 409.9L475.6 410.6L475.9 408.9L476.2 409.0L476.6 410.5L476.9 409.9L477.2 409.6L477.5 409.0L477.9 409.8L478.2 408.8L478.5 409.5L478.8 409.9L479.2 409.3L479.5 408.5L479.8 408.4L480.1 409.1L480.5 408.0L480.8 409.7L481.1 408.8L481.4 408.8L481.8 408.9L482.1 408.7L482.4 409.9L482.7 408.7L483.1 408.3L483.4 409.7L483.7 408.6L484.0 409.9L484.4 409.4L484.7 408.7L485.0 409.0L485.4 408.3L485.7 408.3L486.0 409.6L486.4 408.7L486.7 408.8L487.0 408.7L487.3 409.1L487.7 408.9L488.0 409.1L488.3 409.2L488.6 410.0L488.9 409.0L489.3 409.3L489.6 409.6L489.9 409.0L490.2 410.0L490.5 409.7L490.8 409.5L491.1 409.5L491.4 410.0L491.7 410.3L492.1 410.5L492.4 410.7L492.7 410.2L493.0 411.3L493.3 410.6L493.6 411.3L493.9 410.5L494.3 411.4L494.6 410.8L494.9 410.4L495.2 410.6L495.6 411.0L495.9 409.9L496.2 411.0L496.5 409.7L496.9 411.0L497.2 410.3L497.5 410.0L497.8 410.4L498.2 411.4L498.5 411.6L498.8 410.3L499.1 411.3L499.4 410.6L499.7 411.4L500.1 410.3L500.4 410.6L500.7 409.5L501.0 410.8L501.3 410.5L501.6 410.6L501.9 410.8L502.2 409.5L502.6 409.9L502.9 408.5L503.2 409.0L503.5 408.7L503.8 409.8L504.1 409.6L504.4 409.4L504.8 409.3L505.1 410.3L505.4 409.6L505.7 408.7L506.0 410.0L506.4 409.9L506.7 409.4L507.0 407.4L507.3 408.2L507.6 408.9L508.0 408.4L508.3 407.6L508.6 408.6L508.9 408.0L509.2 408.6L509.6 408.5L509.9 409.2L510.2 407.7L510.5 408.9L510.9 407.6L511.2 408.8L511.5 408.4L511.8 408.4L512.2 408.2L512.5 407.7L512.8 408.3L513.2 408.4L513.5 408.9L513.8 408.4L514.1 408.6L514.4 407.7L514.7 407.5L515.0 408.8L515.3 410.3L515.6 408.9L515.9 408.7L516.1 407.8L516.4 410.0L516.7 409.3L517.0 409.7L517.3 410.5L517.5 411.0L517.8 411.9L518.1 411.8L518.3 411.7L518.6 411.5L518.9 411.1L519.2 411.9L519.4 412.8L519.7 411.1L520.0 412.7L520.3 413.9L520.5 413.7L520.8 413.2L521.1 413.4L521.4 414.2L521.7 413.8L522.0 414.4L522.3 415.3L522.6 414.2L522.9 414.1L523.2 415.3L523.5 414.9L523.8 414.4L524.1 413.7L524.4 416.1L524.7 416.3L525.0 415.2L525.3 415.7L525.6 415.6L525.9 415.9L526.2 416.7L526.6 416.1L526.9 415.8L527.2 416.2L527.5 416.2L527.8 416.6L528.1 416.1L528.4 416.0L528.7 417.6L529.0 417.0L529.4 417.1L529.7 418.0L530.0 416.8L530.3 416.7L530.6 417.1L530.9 416.4L531.2 416.5L531.6 416.5L531.9 417.5L532.2 416.3L532.5 417.3L532.8 417.3L533.2 418.3L533.5 417.2L533.8 418.1L534.1 418.1L534.4 418.1L534.8 418.6L535.1 416.6L535.4 418.0L535.7 417.6L536.0 417.7L536.4 418.7L536.7 417.6L537.0 417.6L537.3 418.8L537.6 416.9L538.0 419.0L538.3 417.6L538.6 419.4L538.9 417.9L539.2 418.8L539.6 418.7L539.9 418.6L540.2 418.9L540.5 418.7L540.8 419.4L541.1 419.2L541.4 417.8L541.8 417.4L542.1 420.5L542.4 417.8L542.7 419.3L543.0 419.0L543.3 419.0L543.6 419.0L543.9 420.9L544.2 420.3L544.6 419.1L544.9 420.3L545.2 420.1L545.5 421.3L545.8 420.3L546.1 419.3L546.4 421.5L546.7 421.6L547.0 421.8L547.3 421.2L547.6 419.6L547.9 420.2L548.3 420.7L548.6 421.1L548.9 420.8L549.2 421.5L549.5 420.6L549.8 421.0L550.1 420.9L550.4 421.4L550.7 420.6L551.0 422.9L551.4 421.2L551.7 421.5L552.0 422.3L552.3 421.6L552.6 422.8L552.9 422.9L553.2 423.1L553.5 422.1L553.8 422.1L554.1 422.5L554.4 422.5L554.7 422.9L555.0 423.2L555.3 423.1L555.7 423.0L556.0 424.1L556.3 424.3L556.6 424.1L556.9 424.1L557.2 424.1L557.5 425.0L557.8 423.7L558.1 423.4L558.4 424.1L558.7 424.3L559.0 424.2L559.4 424.4L559.7 424.5L560.0 424.9L560.3 424.4L560.6 424.2L560.9 424.9L561.2 425.3L561.5 425.0L561.9 424.4L562.2 425.2L562.5 424.9L562.8 425.6L563.1 425.1L563.5 425.4L563.8 426.1L564.1 425.6L564.4 425.5L564.8 425.4L565.1 425.1L565.4 425.9L565.8 424.7L566.1 425.2L566.4 425.0L566.8 425.9L567.1 427.0L567.4 424.8L567.8 426.0L568.1 425.6L568.4 426.9L568.8 424.1L569.1 425.0L569.4 426.0L569.8 425.6L570.1 425.9L570.4 424.5L570.7 425.4L571.1 425.2L571.4 426.9L571.7 425.8L572.1 425.8L572.4 425.4L572.7 426.5L573.1 425.6L573.4 425.8L573.7 424.9L574.1 426.1L574.4 426.1L574.7 424.8L575.1 425.0L575.4 425.7L575.7 425.3L576.0 424.9L576.4 425.5L576.7 425.8L577.0 425.4L577.4 425.1L577.7 425.6L578.0 425.2L578.4 425.2L578.7 425.6L579.0 426.2L579.4 426.1L579.7 425.4L580.0 425.1L580.3 425.3L580.7 425.5L581.0 425.7L581.3 425.1L581.7 425.2L582.0 425.4L582.3 424.6L582.7 425.2L583.0 425.4L583.3 425.7L583.6 425.3L584.0 424.8L584.3 424.4L584.6 424.6L585.0 424.2L585.3 424.4L585.6 424.6L586.0 424.7L586.3 425.3L586.6 424.8L586.9 424.9L587.3 425.0L587.6 424.4L587.9 424.1L588.3 424.5L588.6 424.2L588.9 425.8L589.3 425.8L589.6 424.8L589.9 425.1L590.2 425.8L590.6 425.7L590.9 425.5L591.2 425.3L591.6 425.5L591.9 424.1L592.2 423.5L592.5 424.3L592.9 425.0L593.2 424.2L593.5 424.4L593.9 424.7L594.2 424.6L594.5 424.0L594.9 424.5L595.2 425.2L595.5 425.0L595.8 424.6L596.2 424.5L596.5 425.4L596.8 425.6L597.2 423.9L597.5 424.1L597.8 424.2L598.1 424.8L598.5 424.4L598.8 424.2L599.1 425.4L599.5 424.7L599.8 423.9L600.1 424.4L600.4 424.3L600.8 425.2L601.1 423.1L601.4 424.2L601.8 424.4L602.1 425.0L602.4 424.2L602.7 424.6L603.1 424.6L603.4 423.1L603.7 423.8L604.1 423.7L604.4 424.1L604.7 423.2L605.0 424.2L605.4 423.8L605.7 424.1L606.0 422.5L606.3 424.1L606.7 424.0L607.0 423.0L607.3 423.7L607.6 424.1L608.0 425.0L608.3 423.3L608.6 423.7L609.0 423.1L609.3 423.9L609.6 422.7L609.9 423.2L610.3 423.6L610.6 423.5L610.9 423.2L611.2 423.1L611.5 422.9L611.9 423.8L612.2 423.2L612.5 422.3L612.8 423.4L613.1 423.4L613.5 423.8L613.8 424.0L614.1 422.9L614.4 423.7L614.7 423.0L615.1 423.1L615.4 422.4L615.7 422.6L616.0 422.3L616.3 421.3L616.6 422.2L617.0 421.4L617.3 422.5L617.6 420.8L617.9 422.3L618.2 421.1L618.5 421.5L618.9 421.8L619.2 422.2L619.5 421.3L619.8 421.8L620.1 422.4L620.5 421.7L620.8 422.0L621.1 421.6L621.4 422.3L621.8 422.0L622.1 422.3L622.4 421.4L622.7 421.3L623.1 419.7L623.4 420.7L623.7 420.7L624.0 421.9L624.4 421.1L624.7 420.7L625.0 421.2L625.4 420.9L625.7 420.7L626.0 420.6L626.4 421.9L626.7 422.2L627.0 421.3L627.4 421.5L627.7 421.9L628.0 421.1L628.4 421.5L628.7 420.6L629.0 420.1L629.4 420.9L629.7 422.0L630.0 421.3L630.4 420.6L630.7 421.6L631.0 422.1L631.4 420.8L631.7 421.7L632.0 422.7L632.4 421.1L632.7 421.4L633.0 420.9L633.4 420.5L633.7 420.5L634.0 421.9L634.4 421.6L634.7 421.2L635.0 422.6L635.4 421.2L635.7 421.5L636.0 421.8L636.4 421.0L636.7 420.8L637.0 421.1L637.4 420.7L637.7 421.5L638.0 421.5L638.4 421.0L638.7 420.1L639.0 421.0L639.4 420.6L639.7 421.1L640.0 421.5L640.4 422.3L640.7 422.2L641.0 420.6L641.4 421.5L641.7 421.0L642.0 421.5L642.4 422.4L642.7 421.8L643.0 421.6L643.4 421.1L643.7 421.0L644.0 421.2L644.4 421.8L644.7 422.4L645.0 421.8L645.4 421.3L645.7 421.4L646.0 421.9L646.4 422.5L646.7 422.6L647.0 420.9L647.4 420.6L647.7 422.0L648.0 421.9L648.4 422.1L648.7 422.5L649.0 421.3L649.4 421.9L649.7 420.8L650.0 422.2L650.4 421.3L650.7 421.3L651.0 420.7L651.4 422.2L651.7 422.0L652.0 421.8L652.4 420.5L652.7 420.9L653.0 422.0L653.4 421.2L653.7 421.4L654.0 421.5L654.3 421.0L654.7 421.9L655.0 420.1L655.3 422.2L655.7 422.2L656.0 421.5L656.3 421.7L656.7 421.1L657.0 422.3L657.3 420.8L657.7 420.6L658.0 421.4L658.3 420.8L658.6 420.9L659.0 422.1L659.3 419.9L659.6 421.5L660.0 420.4L660.3 421.1L660.6 421.3L660.9 421.2L661.3 420.0L661.6 421.0L661.9 421.3L662.3 422.1L662.6 421.1L662.9 420.2L663.3 420.4L663.6 420.3L663.9 421.6L664.2 421.3L664.6 419.8L664.9 420.5L665.2 421.6L665.6 420.3L665.9 421.1L666.2 420.6L666.6 420.9L666.9 420.5L667.2 419.9L667.5 420.1L667.9 421.0L668.2 421.6L668.5 420.6L668.9 420.9L669.2 421.0L669.5 420.0L669.9 420.0L670.2 421.0L670.5 420.9L670.9 420.1L671.2 419.5L671.5 420.2L671.8 420.2L672.2 420.8L672.5 420.3L672.8 420.5L673.2 421.1L673.5 420.8L673.8 420.3L674.2 421.2L674.5 420.8L674.8 421.5L675.2 420.1L675.5 420.6L675.8 420.2L676.2 419.8L676.5 419.9L676.8 420.6L677.1 420.8L677.5 420.2L677.8 420.4L678.1 421.2L678.5 420.4L678.8 420.2L679.1 421.0L679.5 420.1L679.8 420.8L680.1 420.1L680.5 420.4L680.8 420.2L681.1 420.1L681.5 420.5L681.8 421.5L682.1 420.8L682.5 420.4L682.8 421.1L683.1 419.2L683.4 420.4L683.8 419.9L684.1 419.6L684.4 420.0L684.8 420.2L685.1 419.7L685.4 420.4L685.8 419.3L686.1 420.6L686.4 420.6L686.8 421.5L687.1 420.6L687.4 420.0L687.7 419.9L688.1 420.5L688.4 420.4L688.7 419.3L689.1 419.1L689.4 420.6L689.7 420.4L690.1 419.4L690.4 420.9L690.7 420.2L691.0 419.9L691.4 419.9L691.7 420.4L692.0 419.9L692.4 419.9L692.7 420.5L693.0 419.4L693.4 420.1L693.7 420.1L694.0 420.6L694.3 420.2L694.7 420.4L695.0 420.5L695.3 420.6L695.7 419.4L696.0 419.7L696.3 419.8L696.6 421.0L697.0 420.5L697.3 420.1L697.6 420.1L698.0 419.8L698.3 420.6L698.6 419.7L698.9 420.2L699.3 419.9L699.6 419.2L699.9 420.4L700.3 420.0L700.6 419.7L700.9 419.0L701.2 420.0L701.6 419.2L701.9 418.8L702.2 420.2L702.5 419.4L702.9 419.6L703.2 419.9L703.5 420.2L703.9 418.7L704.2 418.3L704.5 420.0L704.8 419.1L705.2 419.4L705.5 419.7L705.8 420.1L706.1 418.7L706.5 418.9L706.8 417.9L707.1 419.3L707.5 419.1L707.8 419.1L708.1 420.1L708.4 418.3L708.8 418.0L709.1 418.3L709.4 419.3L709.7 417.9L710.1 418.2L710.4 419.0L710.7 418.1L711.0 418.3L711.4 418.0L711.7 419.0L712.0 418.1L712.3 419.0L712.7 418.1L713.0 418.6L713.3 417.9L713.6 418.8L713.9 416.8L714.3 419.6L714.6 418.4L714.9 417.5L715.2 417.7L715.6 418.0L715.9 418.1L716.2 417.6L716.5 418.7L716.8 417.9L717.2 417.5L717.5 417.9L717.8 418.4L718.1 416.9L718.5 417.2L718.8 418.4L719.1 417.9L719.4 417.6L719.7 418.7L720.1 418.5L720.4 416.7L720.7 416.5L721.0 417.6L721.3 417.9L721.7 417.1L722.0 417.5L722.3 416.7L722.6 417.6L722.9 416.3L723.3 417.1L723.6 417.3L723.9 416.7L724.2 416.8L724.5 416.8L724.9 417.2L725.2 416.2L725.5 417.3L725.8 415.5L726.1 417.2L726.4 416.6L726.8 416.8L727.1 417.0L727.4 416.4L727.7 416.9L728.0 416.4L728.3 416.0L728.7 416.5L729.0 416.7L729.3 414.7L729.6 415.9L729.9 414.4L730.3 415.6L730.6 415.6L730.9 415.4L731.2 416.1L731.5 416.0L731.8 415.8L732.2 413.6L732.5 416.0L732.8 414.7L733.1 413.4L733.4 415.0L733.7 414.8L734.1 414.6L734.4 415.6L734.7 414.5L735.0 414.1L735.3 415.1L735.6 413.9L736.0 415.0L736.3 413.7L736.6 414.7L736.9 415.4L737.2 414.7L737.5 413.6L737.8 413.0L738.2 413.6L738.5 412.9L738.8 414.6L739.1 414.3L739.4 412.3L739.7 413.3L740.1 413.8L740.4 414.0L740.7 412.6L741.0 413.3L741.3 412.5L741.6 412.9L741.9 413.5L742.3 411.8L742.6 412.9L742.9 413.3L743.2 411.7L743.5 412.2L743.8 413.5L744.2 412.6L744.5 413.1L744.8 412.8L745.1 413.2L745.4 412.9L745.7 412.2L746.1 411.7L746.4 412.5L746.7 411.4L747.0 411.6L747.3 411.6L747.6 411.6L748.0 411.0L748.3 411.6L748.6 412.1L748.9 410.5L749.2 410.2L749.5 411.0L749.9 411.4L750.2 411.6L750.5 411.4L750.8 411.1L751.1 412.3L751.5 411.5L751.8 411.1L752.1 411.3L752.4 411.1L752.7 410.7L753.0 411.0L753.4 410.5L753.7 410.4L754.0 411.4L754.3 409.5L754.6 410.2L755.0 410.0L755.3 410.8L755.6 409.7L755.9 410.4L756.2 410.4L756.6 410.6L756.9 410.7L757.2 410.1L757.5 409.7L757.8 410.0L758.2 409.0L758.5 410.5L758.8 409.3L759.1 409.6L759.5 409.5L759.8 410.8L760.1 409.3L760.4 409.4L760.7 410.3L761.1 409.7L761.4 409.0L761.7 409.9L762.0 409.2L762.3 409.7L762.7 410.0L763.0 408.7L763.3 408.4L763.6 408.7L763.9 409.3L764.3 410.1L764.6 409.2L764.9 409.2L765.2 408.5L765.5 408.7L765.8 408.8L766.2 407.5L766.5 408.3L766.8 408.2L767.1 408.4L767.4 408.9L767.8 408.4L768.1 408.7L768.4 408.5L768.7 408.4L769.0 407.8L769.3 407.9L769.7 407.9L770.0 407.6L770.3 408.0L770.6 407.2L770.9 408.1L771.2 407.6L771.6 406.7L771.9 408.1L772.2 408.2L772.5 408.0L772.8 406.8L773.1 406.6L773.5 407.0L773.8 406.6L774.1 407.4L774.4 406.5L774.7 406.6L775.0 407.0L775.3 406.6L775.7 406.0L776.0 406.7L776.3 406.1L776.6 406.5L776.9 406.4L777.2 406.3L777.5 405.6L777.9 405.7L778.2 406.1L778.5 405.1L778.8 406.7L779.1 405.8L779.4 405.8L779.7 405.0L780.1 405.2L780.4 405.1L780.7 404.4L781.0 404.6L781.3 405.9L781.6 404.5L781.9 405.0L782.3 405.4L782.6 404.5L782.9 404.9L783.2 404.5L783.5 404.3L783.8 405.1L784.1 404.2L784.4 403.1L784.8 403.6L785.1 404.0L785.4 404.5L785.7 403.5L786.0 404.6L786.3 402.7L786.6 403.3L786.9 403.6L787.2 403.3L787.6 403.0L787.9 403.7L788.2 402.5L788.5 402.7L788.8 402.8L789.1 401.9L789.4 402.8L789.7 402.8L790.0 402.8L790.3 403.2L790.6 402.1L791.0 402.8L791.3 402.3L791.6 401.8L791.9 401.4L792.2 402.5L792.5 400.7L792.8 402.1L793.1 401.6L793.4 402.1L793.7 400.8L794.0 400.3L794.3 401.3L794.6 401.3L794.9 401.3L795.2 400.8L795.5 400.5L795.8 400.4L796.1 400.6L796.4 399.6L796.7 400.1L797.1 400.2L797.4 400.8L797.7 399.6L798.0 399.1L798.3 400.5L798.6 399.6L798.9 399.9L799.2 398.8L799.5 398.2L799.8 398.7L800.1 399.1L800.4 399.1L800.7 399.1L801.0 398.0L801.3 398.4L801.6 397.2L801.9 397.4L802.2 397.7L802.5 397.8L802.8 398.4L803.1 397.9L803.4 398.2L803.7 396.3L804.0 397.4L804.3 396.4L804.6 397.5L804.9 396.7L805.3 396.9L805.6 397.1L805.9 396.6L806.2 395.8L806.5 395.9L806.8 395.6L807.1 395.7L807.4 395.7L807.7 396.3L808.0 394.6L808.3 397.2L808.6 395.5L808.9 395.6L809.2 395.0L809.5 395.1L809.9 395.0L810.2 394.6L810.5 395.7L810.8 394.8L811.1 394.8L811.4 394.4L811.7 396.3L812.0 394.2L812.3 394.7L812.6 395.0L812.9 393.6L813.2 393.6L813.5 393.4L813.8 394.1L814.1 394.1L814.5 394.3L814.8 393.0L815.1 393.5L815.4 393.1L815.7 393.5L816.0 391.5L816.3 394.1L816.6 392.5L816.9 393.3L817.2 392.1L817.5 392.7L817.8 392.1L818.1 392.0L818.4 393.1L818.7 393.2L819.0 391.4L819.3 391.7L819.6 391.0L819.9 392.4L820.3 392.1L820.6 391.9L820.9 390.7L821.2 391.3L821.5 390.9L821.8 390.7L822.1 390.9L822.4 391.2L822.7 391.3L823.0 390.8L823.3 391.1L823.6 390.4L823.9 390.2L824.2 390.4L824.5 390.1L824.8 389.9L825.1 390.6L825.4 390.2L825.7 389.6L826.0 389.3L826.3 389.6L826.6 389.6L826.9 388.9L827.2 388.4L827.5 387.6L827.8 389.7L828.1 388.6L828.4 388.3L828.7 388.8L829.0 389.1L829.3 387.4L829.6 388.8L829.9 388.5L830.2 388.2L830.5 387.2L830.8 387.2L831.1 387.5L831.4 387.2L831.7 386.9L832.0 387.2L832.3 386.9L832.6 386.0L832.9 385.4L833.2 386.1L833.5 385.9L833.8 385.2L834.1 385.1L834.4 384.7L834.7 385.2L835.0 384.2L835.3 385.5L835.6 384.7L835.9 384.8L836.2 385.8L836.5 384.5L836.8 383.4L837.0 384.7L837.3 383.9L837.6 382.9L837.9 382.8L838.2 383.3L838.5 383.0L838.8 383.9L839.1 382.5L839.4 383.1L839.7 382.9L840.0 381.9L840.3 382.5L840.6 382.0L840.9 381.9L841.1 381.8L841.4 382.2L841.7 381.7L842.0 382.5L842.3 381.1L842.6 380.5L842.9 381.2L843.2 379.5L843.5 381.5L843.8 381.7L844.1 381.0L844.3 380.4L844.6 379.7L844.9 380.1L845.2 379.1L845.5 379.6L845.8 379.3L846.1 379.4L846.4 378.2L846.7 378.9L847.0 378.4L847.3 377.8L847.6 377.8L847.9 378.1L848.1 378.1L848.4 375.8L848.7 377.1L849.0 378.2L849.3 378.2L849.6 377.2L849.9 376.7L850.2 376.2L850.5 377.5L850.8 376.2L851.0 376.5L851.3 375.0L851.6 375.3L851.9 376.4L852.2 375.8L852.5 375.2L852.8 374.0L853.0 375.0L853.3 374.8L853.6 375.0L853.9 373.4L854.2 373.2L854.4 373.7L854.7 373.5L855.0 373.1L855.3 372.7L855.6 372.2L855.8 372.5L856.1 371.6L856.3 371.7L856.6 372.0L856.9 370.8L857.1 370.8L857.4 371.9L857.6 369.6L857.8 369.6L858.1 369.7L858.3 370.0L858.6 369.4L858.8 369.3L859.1 368.7L859.3 367.5L859.6 367.2L859.8 367.2L860.1 367.1L860.4 367.3L860.6 366.2L860.9 366.4L861.2 366.5L861.5 364.8L861.8 365.8L862.1 365.6L862.4 365.3L862.7 365.3L863.0 364.5L863.3 365.2L863.5 366.4L863.7 366.4L864.0 367.8L864.2 367.1L864.4 367.7L864.6 369.2L864.8 369.1L865.0 370.2L865.2 369.7L865.4 370.1L865.7 371.9L865.9 372.1L866.1 371.5L866.3 372.1L866.5 374.5L866.7 373.8L866.9 375.6L867.1 374.8L867.3 375.3L867.5 376.2L867.7 377.3L867.9 377.1L868.0 377.5L868.2 378.2L868.4 378.8L868.6 379.9L868.7 381.2L868.9 381.4L869.0 381.5L869.1 382.4L869.3 382.9L869.4 384.1L869.6 384.1L869.7 386.3L869.8 386.7L869.9 387.2L870.1 388.2L870.2 389.1L870.3 390.0L870.4 390.8L870.6 392.2L870.7 392.9L870.8 392.1L870.9 394.3L871.1 396.2L871.2 395.4L871.3 396.8L871.4 397.1L871.6 397.2L871.7 399.7L871.9 400.2L872.0 399.2L872.1 401.1L872.3 402.3L872.4 403.2L872.6 402.7L872.7 404.8L872.8 405.2L873.0 405.1L873.1 406.5L873.3 407.8L873.4 408.8L873.5 408.9L873.7 410.5L873.8 410.5L874.0 411.4L874.1 412.4L874.3 412.1L874.5 413.4L874.6 413.3L874.8 413.8L875.0 414.9L875.1 415.5L875.3 416.5L875.5 417.4L875.7 417.5L875.9 417.7L876.1 418.7L876.3 418.5L876.5 419.6L876.8 420.8L877.0 420.4L877.2 419.7L877.5 419.8L877.8 421.9L878.1 421.9L878.4 421.4L878.6 421.8L878.9 421.1L879.2 420.8L879.4 419.6L879.6 420.4L879.8 420.4L880.1 419.7L880.3 418.4L880.5 418.1L880.7 418.1L880.9 416.8L881.1 417.1L881.4 415.7L881.6 416.5L881.8 416.0L882.1 415.7L882.3 414.7L882.5 413.2L882.7 413.6L882.9 413.1L883.1 412.4L883.4 412.0L883.6 412.8L883.8 411.4L884.0 411.4L884.3 410.7L884.5 409.7L884.8 409.9L885.0 409.2L885.3 409.5L885.5 408.1L885.7 407.6L886.0 407.9L886.2 407.7L886.5 406.9L886.7 406.6L887.0 406.7L887.3 406.3L887.5 405.9L887.8 406.4L888.1 405.9L888.5 406.3L888.8 406.1L889.1 405.4L889.4 405.9L889.7 406.8L890.0 406.5L890.2 407.7L890.5 406.9L890.8 407.1L891.0 406.9L891.3 406.7L891.5 407.5L891.8 409.4L892.0 407.8L892.3 410.0L892.5 409.9L892.8 408.5L893.0 409.6L893.3 411.1L893.5 411.4L893.8 411.4L894.1 411.4L894.4 412.1L894.6 411.9L894.9 410.7L895.2 411.5L895.5 411.0L895.9 411.8L896.2 412.9L896.5 411.2L896.8 410.7L897.1 411.9L897.4 410.1L897.7 411.2L898.0 411.3L898.3 411.9L898.6 411.1L898.9 411.8L899.1 410.1L899.4 410.6L899.7 409.4L900.0 410.1L900.3 410.1L900.5 408.9L900.8 409.1L901.1 408.9L901.4 409.6L901.6 408.4L901.9 408.0L902.2 407.8L902.5 406.2L902.8 407.3L903.1 407.7L903.3 407.0L903.6 406.9L903.9 407.0L904.3 407.4L904.6 406.9L904.9 406.8L905.2 406.9L905.5 406.1L905.9 406.1L906.2 406.1L906.5 407.0L906.8 406.3L907.1 407.4L907.4 406.6L907.8 407.1L908.1 407.9L908.4 408.9L908.7 407.8L909.0 406.5L909.3 407.7L909.5 408.3L909.8 408.6L910.1 407.9L910.4 407.3L910.7 408.6L911.0 408.4L911.3 408.5L911.6 408.2L911.9 409.4L912.2 408.4L912.5 409.3L912.7 409.7L913.0 409.8L913.3 410.2L913.6 411.2L913.9 411.5L914.2 410.6L914.5 410.3L914.8 410.2L915.1 410.4L915.4 410.7L915.7 411.8L916.0 411.8L916.3 411.1L916.6 411.4L916.9 412.7L917.2 411.1L917.5 412.5L917.8 413.1L918.1 412.3L918.3 413.1L918.6 413.2L918.9 413.1L919.2 412.6L919.5 413.3L919.8 412.8L920.1 413.1L920.4 414.6L920.7 413.8L921.0 413.2L921.3 414.8L921.6 415.2L921.9 415.4L922.2 415.2L922.5 415.2L922.8 413.7L923.1 415.7L923.4 415.0L923.6 415.5L923.9 416.2L924.2 416.2L924.5 416.1L924.8 416.9L925.1 417.4L925.4 416.2L925.7 416.2L926.0 418.1L926.3 417.5L926.6 417.1L926.9 416.8L927.2 417.7L927.5 418.6L927.8 417.3L928.1 418.2L928.4 417.3L928.7 418.7L929.0 418.4L929.3 419.4L929.6 418.9L929.9 418.8L930.2 418.5L930.5 418.5L930.8 418.9L931.1 419.7L931.4 419.5L931.7 419.8L932.0 419.8L932.3 420.4L932.6 421.0L932.9 420.3L933.2 420.8L933.5 419.5L933.8 419.3L934.1 420.0L934.4 421.0L934.7 420.2L935.0 420.2L935.3 421.4L935.6 421.1L935.9 421.1L936.3 420.9L936.6 421.8L936.9 421.6L937.2 421.5L937.5 420.9L937.8 420.8L938.2 422.6L938.5 421.3L938.8 421.4L939.1 421.4L939.5 421.0L939.8 421.1L940.1 422.0L940.4 420.6L940.8 422.5L941.1 421.0" fill="none" stroke="none" marker-start="url(#c)" marker-mid="url(#c)" marker-end="url(#c)"/>
<path d="M85.0 626.5L85.3 622.7L85.7 625.8L86.0 624.0L86.3 625.4L86.7 625.2L87.0 624.4L87.3 624.1L87.7 622.0L88.0 624.4L88.3 623.4L88.7 627.2L89.0 622.1L89.3 624.0L89.6 624.0L90.0 624.6L90.3 624.9L90.6 622.5L91.0 624.5L91.3 623.1L91.6 627.3L92.0 625.1L92.3 623.5L92.6 626.9L93.0 626.2L93.3 624.3L93.6 624.1L94.0 623.1L94.3 625.4L94.6 623.5L95.0 625.3L95.3 625.8L95.6 624.3L96.0 623.1L96.3 625.3L96.6 623.5L97.0 622.1L97.3 624.1L97.6 624.5L98.0 624.5L98.3 625.5L98.6 624.9L99.0 625.1L99.3 624.9L99.6 625.9L100.0 625.5L100.3 622.8L100.6 625.6L101.0 624.5L101.3 622.2L101.6 623.2L102.0 625.8L102.3 625.5L102.6 622.4L103.0 624.1L103.3 623.1L103.6 624.0L104.0 624.5L104.3 624.2L104.6 622.9L105.0 624.3L105.3 622.6L105.6 624.5L106.0 625.0L106.3 622.5L106.6 625.7L107.0 626.6L107.3 625.9L107.6 624.3L108.0 622.0L108.3 623.8L108.6 623.9L108.9 625.9L109.3 625.0L109.6 625.5L109.9 623.9L110.3 624.1L110.6 623.7L110.9 626.9L111.3 626.3L111.6 627.6L111.9 625.2L112.3 625.3L112.6 624.6L112.9 625.7L113.3 624.5L113.6 624.8L113.9 624.1L114.2 625.4L114.6 626.7L114.9 625.9L115.2 625.8L115.5 625.9L115.9 623.9L116.2 625.1L116.5 625.8L116.8 623.9L117.1 624.5L117.5 625.9L117.8 627.4L118.1 629.6L118.4 626.8L118.7 627.8L119.1 625.3L119.4 627.3L119.7 627.1L120.0 630.5L120.3 628.3L120.7 627.4L121.0 628.6L121.3 626.7L121.6 628.6L121.9 629.2L122.2 630.0L122.6 631.2L122.9 628.9L123.2 629.5L123.5 629.7L123.8 631.7L124.2 629.3L124.5 630.8L124.8 629.2L125.2 632.5L125.5 630.7L125.8 629.1L126.1 630.2L126.5 629.5L126.8 627.4L127.1 632.5L127.5 629.9L127.8 630.2L128.1 632.1L128.5 627.7L128.8 631.1L129.1 632.4L129.5 627.8L129.8 630.1L130.1 628.3L130.5 631.5L130.8 629.2L131.1 633.2L131.5 630.7L131.8 630.2L132.1 632.2L132.4 630.0L132.8 628.8L133.1 630.7L133.4 628.9L133.8 629.4L134.1 631.8L134.4 631.0L134.8 632.8L135.1 630.0L135.4 629.1L135.8 628.0L136.1 630.0L136.4 631.6L136.8 632.1L137.1 627.8L137.4 630.5L137.8 632.6L138.1 629.9L138.4 632.4L138.8 633.6L139.1 630.8L139.4 632.7L139.8 632.5L140.1 630.5L140.4 630.5L140.8 633.1L141.1 629.8L141.4 629.6L141.8 631.5L142.1 631.0L142.4 629.3L142.8 631.4L143.1 631.5L143.4 630.7L143.8 631.2L144.1 631.6L144.4 630.2L144.8 630.4L145.1 628.5L145.4 630.2L145.8 630.6L146.1 630.6L146.4 632.0L146.8 631.6L147.1 631.9L147.4 631.9L147.8 631.8L148.1 631.0L148.4 630.5L148.8 631.4L149.1 629.3L149.4 629.7L149.8 634.0L150.1 632.3L150.4 630.7L150.8 631.6L151.1 629.6L151.4 630.7L151.8 629.8L152.1 631.8L152.4 630.4L152.8 631.7L153.1 631.2L153.4 630.2L153.8 632.3L154.1 633.5L154.4 632.6L154.8 630.4L155.1 632.9L155.4 629.5L155.8 628.3L156.1 632.7L156.4 630.7L156.8 629.6L157.1 631.6L157.4 630.1L157.8 632.7L158.1 632.9L158.4 631.2L158.8 630.8L159.1 631.2L159.4 629.4L159.8 631.5L160.1 630.1L160.4 630.2L160.8 629.8L161.1 631.0L161.4 627.3L161.8 630.8L162.1 629.6L162.4 631.9L162.7 628.5L163.1 628.9L163.4 629.8L163.7 629.0L164.0 628.8L164.4 628.0L164.7 629.1L165.0 628.6L165.4 630.8L165.7 628.5L166.0 629.8L166.3 629.5L166.7 629.7L167.0 630.6L167.3 632.4L167.6 631.5L168.0 628.0L168.3 628.6L168.6 628.7L168.9 629.4L169.3 629.0L169.6 626.6L169.9 629.4L170.3 628.9L170.6 629.4L170.9 628.6L171.2 628.7L171.6 628.5L171.9 629.2L172.2 624.5L172.6 629.0L172.9 625.2L173.2 630.0L173.6 627.3L173.9 626.5L174.2 629.2L174.6 628.3L174.9 629.6L175.2 628.8L175.6 628.2L175.9 632.2L176.2 629.1L176.6 629.7L176.9 627.9L177.2 629.4L177.5 628.2L177.9 627.8L178.2 626.1L178.5 629.0L178.9 630.3L179.2 629.2L179.5 628.4L179.9 628.8L180.2 629.6L180.5 630.3L180.9 627.8L181.2 628.0L181.5 628.0L181.8 628.7L182.2 628.6L182.5 628.3L182.8 625.5L183.2 630.1L183.5 628.4L183.8 627.8L184.2 627.7L184.5 628.0L184.8 628.3L185.1 629.1L185.5 631.1L185.8 627.5L186.1 630.1L186.5 630.4L186.8 630.8L187.1 628.4L187.5 630.4L187.8 631.5L188.1 631.4L188.5 628.4L188.8 629.7L189.1 630.6L189.5 630.8L189.8 631.5L190.1 631.2L190.4 631.3L190.8 630.8L191.1 627.6L191.4 632.8L191.8 628.3L192.1 630.5L192.4 627.7L192.8 630.0L193.1 626.0L193.4 631.9L193.8 628.7L194.1 632.5L194.4 629.5L194.8 627.9L195.1 631.5L195.4 630.7L195.7 628.4L196.1 629.6L196.4 630.6L196.7 628.4L197.1 628.0L197.4 632.3L197.7 629.8L198.1 630.4L198.4 632.8L198.7 630.2L199.1 631.0L199.4 627.5L199.7 627.7L200.1 631.1L200.4 631.8L200.7 627.7L201.0 629.8L201.4 631.4L201.7 631.7L202.0 630.7L202.4 630.6L202.7 631.2L203.0 630.0L203.4 631.4L203.7 629.0L204.0 631.5L204.4 629.2L204.7 630.6L205.0 630.3L205.4 631.0L205.7 629.7L206.0 630.1L206.4 630.0L206.7 632.1L207.0 631.5L207.4 631.4L207.7 631.4L208.0 631.3L208.4 629.9L208.7 628.2L209.0 629.9L209.4 629.9L209.7 629.9L210.0 632.0L210.4 631.9L210.7 634.0L211.0 630.9L211.4 633.3L211.7 630.3L212.0 629.7L212.4 630.3L212.7 632.6L213.0 632.8L213.4 635.0L213.7 629.4L214.0 630.8L214.4 631.7L214.7 631.4L215.0 629.2L215.4 630.9L215.7 631.4L216.0 632.8L216.4 629.5L216.7 630.7L217.0 630.3L217.4 631.1L217.7 632.0L218.0 629.1L218.4 630.5L218.7 633.0L219.0 629.0L219.4 630.3L219.7 629.4L220.0 630.7L220.4 632.8L220.7 632.2L221.0 631.6L221.4 629.7L221.7 630.8L222.0 631.8L222.4 630.5L222.7 630.9L223.0 629.4L223.4 630.6L223.7 631.3L224.0 629.6L224.4 629.9L224.7 630.7L225.0 627.5L225.4 630.7L225.7 633.1L226.0 630.1L226.4 634.8L226.7 628.6L227.0 630.9L227.4 629.8L227.7 629.4L228.0 629.6L228.4 630.6L228.7 629.9L229.0 630.5L229.4 628.0L229.7 629.7L230.0 630.3L230.4 631.8L230.7 630.2L231.0 630.1L231.4 630.4L231.7 630.9L232.0 628.4L232.4 629.3L232.7 631.3L233.0 629.6L233.3 629.3L233.7 634.4L234.0 632.8L234.3 631.9L234.7 632.1L235.0 630.4L235.3 631.5L235.7 633.0L236.0 631.2L236.3 628.8L236.7 629.0L237.0 631.5L237.3 631.0L237.7 630.8L238.0 629.5L238.3 630.3L238.7 627.1L239.0 631.1L239.3 627.6L239.6 630.0L240.0 629.4L240.3 630.9L240.6 630.3L241.0 631.7L241.3 631.1L241.6 629.4L242.0 630.4L242.3 629.1L242.6 628.4L243.0 630.6L243.3 627.9L243.6 629.6L244.0 628.6L244.3 630.6L244.6 630.0L244.9 630.7L245.3 629.7L245.6 630.5L245.9 627.3L246.3 629.8L246.6 630.2L246.9 631.2L247.3 627.1L247.6 627.4L247.9 629.7L248.3 627.5L248.6 627.9L248.9 630.8L249.3 627.9L249.6 629.7L249.9 631.6L250.2 631.3L250.6 632.2L250.9 629.0L251.2 626.6L251.6 631.4L251.9 628.3L252.2 629.3L252.6 630.1L252.9 630.0L253.2 628.2L253.6 631.4L253.9 628.1L254.2 627.8L254.5 627.9L254.9 631.9L255.2 627.7L255.5 629.2L255.9 629.3L256.2 626.1L256.5 631.1L256.9 628.5L257.2 630.4L257.5 628.2L257.8 628.4L258.2 629.8L258.5 628.0L258.8 629.8L259.2 627.7L259.5 631.4L259.8 628.5L260.2 630.5L260.5 632.1L260.8 627.9L261.2 627.3L261.5 627.2L261.8 628.6L262.2 626.7L262.5 630.0L262.8 627.4L263.2 627.5L263.5 627.3L263.8 628.4L264.1 627.9L264.5 627.3L264.8 628.1L265.1 628.4L265.5 628.2L265.8 628.5L266.1 627.3L266.5 629.3L266.8 631.3L267.1 629.6L267.5 631.6L267.8 630.5L268.1 628.1L268.5 629.0L268.8 630.8L269.1 628.9L269.4 630.7L269.8 629.0L270.1 631.0L270.4 628.0L270.8 628.9L271.1 628.2L271.4 630.3L271.8 628.5L272.1 629.0L272.4 630.2L272.7 630.7L273.1 630.3L273.4 629.6L273.7 628.1L274.1 629.4L274.4 631.1L274.7 631.2L275.1 628.9L275.4 629.6L275.7 631.1L276.0 627.8L276.4 629.8L276.7 631.3L277.0 629.7L277.4 629.0L277.7 630.2L278.0 627.8L278.4 629.4L278.7 628.7L279.0 628.3L279.4 631.1L279.7 625.5L280.0 628.3L280.4 631.1L280.7 629.5L281.0 631.3L281.4 630.3L281.7 630.1L282.0 628.3L282.4 629.5L282.7 628.5L283.0 630.8L283.4 628.2L283.7 629.0L284.0 628.0L284.4 628.7L284.7 631.6L285.0 629.7L285.4 631.7L285.7 631.7L286.0 631.3L286.4 630.6L286.7 631.5L287.0 627.9L287.4 630.3L287.7 632.0L288.0 631.1L288.4 630.9L288.7 630.3L289.0 630.1L289.4 630.7L289.7 630.0L290.0 631.9L290.4 629.0L290.7 631.4L291.0 629.4L291.4 628.8L291.7 630.3L292.0 632.8L292.4 630.6L292.7 630.1L293.0 630.0L293.4 629.6L293.7 629.7L294.0 630.1L294.4 628.7L294.7 630.2L295.0 632.0L295.4 631.4L295.7 630.8L296.0 627.9L296.4 630.7L296.7 629.9L297.0 630.4L297.3 631.8L297.7 628.5L298.0 629.2L298.3 629.6L298.7 629.0L299.0 625.8L299.3 628.9L299.7 630.6L300.0 630.6L300.3 628.4L300.7 629.0L301.0 630.5L301.3 629.0L301.7 629.2L302.0 628.6L302.3 627.3L302.7 630.0L303.0 628.4L303.3 630.2L303.7 630.4L304.0 629.3L304.3 630.4L304.6 627.1L305.0 629.6L305.3 628.6L305.6 629.0L306.0 626.9L306.3 629.7L306.6 629.6L307.0 630.1L307.3 626.7L307.6 625.3L308.0 629.6L308.3 627.2L308.6 628.3L309.0 628.4L309.3 629.5L309.6 630.7L310.0 629.1L310.3 628.5L310.6 628.6L311.0 628.5L311.3 627.9L311.6 629.6L312.0 629.8L312.3 626.4L312.6 628.9L312.9 627.3L313.3 629.0L313.6 630.6L313.9 629.5L314.3 626.6L314.6 629.8L314.9 628.1L315.3 630.7L315.6 631.1L315.9 627.7L316.3 628.4L316.6 629.4L316.9 627.5L317.3 628.7L317.6 628.9L317.9 629.2L318.3 631.1L318.6 628.7L318.9 629.6L319.3 628.8L319.6 629.0L319.9 630.6L320.3 631.5L320.6 627.3L320.9 628.3L321.3 630.2L321.6 629.7L321.9 628.0L322.3 629.2L322.6 628.9L322.9 629.4L323.3 628.9L323.6 628.5L323.9 627.9L324.3 630.8L324.6 628.4L324.9 629.5L325.2 630.4L325.6 627.9L325.9 627.9L326.2 629.3L326.6 628.8L326.9 628.7L327.2 627.9L327.6 630.1L327.9 627.7L328.2 624.9L328.6 629.3L328.9 625.9L329.2 629.7L329.6 629.1L329.9 627.9L330.2 626.9L330.6 627.5L330.9 628.0L331.2 630.0L331.6 627.6L331.9 626.8L332.2 628.0L332.5 627.8L332.9 628.5L333.2 629.7L333.5 629.4L333.9 625.7L334.2 627.2L334.5 625.6L334.9 630.6L335.2 626.8L335.5 630.6L335.9 625.0L336.2 626.9L336.5 629.2L336.8 626.5L337.2 629.1L337.5 630.5L337.8 626.0L338.2 626.6L338.5 626.0L338.8 627.5L339.1 625.8L339.5 627.2L339.8 625.5L340.1 625.5L340.5 625.8L340.8 627.6L341.1 628.8L341.5 627.7L341.8 626.9L342.1 625.9L342.4 625.1L342.8 626.1L343.1 625.8L343.4 627.5L343.8 626.5L344.1 626.1L344.4 627.3L344.8 625.6L345.1 629.2L345.4 625.1L345.7 625.4L346.1 627.6L346.4 626.7L346.7 627.7L347.1 627.0L347.4 627.1L347.7 625.5L348.1 623.6L348.4 627.6L348.7 626.8L349.1 627.4L349.4 626.6L349.7 627.3L350.0 624.4L350.4 626.8L350.7 626.2L351.0 625.0L351.4 627.5L351.7 624.7L352.0 624.9L352.4 623.4L352.7 626.5L353.0 623.8L353.3 626.2L353.7 624.9L354.0 624.3L354.3 626.5L354.7 626.1L355.0 625.2L355.3 624.8L355.7 624.4L356.0 625.9L356.3 626.1L356.7 625.7L357.0 624.8L357.3 624.9L357.6 624.1L358.0 625.8L358.3 626.0L358.6 624.0L359.0 626.9L359.3 627.7L359.6 623.7L360.0 627.5L360.3 624.1L360.6 626.1L360.9 625.6L361.3 624.3L361.6 627.2L361.9 624.4L362.3 626.1L362.6 621.2L362.9 625.2L363.3 624.6L363.6 623.4L363.9 625.5L364.3 627.5L364.6 624.5L364.9 622.9L365.3 626.1L365.6 626.5L365.9 619.8L366.2 623.9L366.6 625.0L366.9 624.4L367.2 624.5L367.6 625.1L367.9 623.7L368.2 623.4L368.6 623.5L368.9 625.4L369.2 622.3L369.6 625.8L369.9 623.5L370.2 624.9L370.6 625.1L370.9 625.4L371.2 624.6L371.6 622.4L371.9 626.5L372.2 622.1L372.6 623.4L372.9 623.0L373.2 625.5L373.6 623.0L373.9 623.8L374.2 622.4L374.6 624.5L374.9 624.7L375.2 624.1L375.5 625.2L375.9 625.9L376.2 627.2L376.5 625.7L376.9 622.0L377.2 624.6L377.5 624.5L377.9 624.1L378.2 627.0L378.5 623.0L378.8 624.2L379.2 625.9L379.5 625.4L379.8 624.1L380.2 626.0L380.5 625.7L380.8 623.8L381.1 626.1L381.5 623.6L381.8 623.4L382.1 625.7L382.5 625.0L382.8 624.1L383.1 625.3L383.4 625.7L383.8 625.5L384.1 626.0L384.4 626.9L384.8 625.9L385.1 626.6L385.4 625.4L385.7 624.8L386.1 626.6L386.4 626.2L386.7 626.2L387.1 624.8L387.4 626.1L387.7 627.9L388.1 624.5L388.4 625.2L388.7 625.6L389.1 625.5L389.4 626.6L389.7 627.2L390.1 625.0L390.4 626.2L390.7 626.4L391.1 626.8L391.4 626.0L391.7 624.2L392.1 625.0L392.4 625.6L392.7 627.5L393.1 626.2L393.4 625.7L393.7 625.4L394.0 625.3L394.4 625.2L394.7 626.7L395.0 626.6L395.4 625.6L395.7 625.7L396.0 627.1L396.4 625.7L396.7 627.3L397.0 626.8L397.4 625.4L397.7 626.9L398.0 624.3L398.4 623.2L398.7 626.8L399.0 626.1L399.3 621.5L399.7 625.9L400.0 625.8L400.3 626.6L400.7 625.0L401.0 626.3L401.3 626.7L401.7 626.5L402.0 623.9L402.3 624.2L402.7 625.7L403.0 626.6L403.3 623.4L403.6 624.8L404.0 624.6L404.3 625.8L404.6 625.1L405.0 624.8L405.3 626.0L405.6 626.9L406.0 626.0L406.3 624.6L406.6 625.2L407.0 625.2L407.3 628.1L407.6 623.8L407.9 623.1L408.3 624.3L408.6 622.6L408.9 624.3L409.3 624.8L409.6 623.7L409.9 625.2L410.3 624.1L410.6 622.6L410.9 624.7L411.3 623.2L411.6 623.3L411.9 626.5L412.3 623.9L412.6 624.5L412.9 624.2L413.3 624.7L413.6 623.6L413.9 624.5L414.3 624.0L414.6 627.1L414.9 625.2L415.3 624.8L415.6 624.7L415.9 622.7L416.3 623.6L416.6 623.5L416.9 626.6L417.2 624.8L417.6 625.6L417.9 625.6L418.2 622.1L418.6 627.0L418.9 624.8L419.2 622.6L419.6 625.3L419.9 622.6L420.2 626.0L420.6 623.8L420.9 626.2L421.2 625.1L421.6 626.3L421.9 624.2L422.2 626.7L422.6 623.4L422.9 622.4L423.2 623.7L423.6 623.1L423.9 626.9L424.2 622.9L424.6 624.3L424.9 625.1L425.2 624.0L425.6 624.4L425.9 623.6L426.2 622.3L426.5 624.3L426.9 626.3L427.2 623.7L427.5 625.7L427.9 623.0L428.2 623.1L428.5 621.8L428.9 623.8L429.2 623.6L429.5 622.3L429.9 621.4L430.2 625.1L430.5 623.9L430.8 621.8L431.2 622.9L431.5 620.8L431.8 624.7L432.2 625.2L432.5 621.8L432.8 620.9L433.1 622.9L433.5 625.8L433.8 621.8L434.1 620.6L434.4 625.3L434.8 621.3L435.1 623.2L435.4 622.1L435.8 620.6L436.1 624.4L436.4 621.7L436.7 622.4L437.0 624.4L437.4 620.4L437.7 621.7L438.0 622.3L438.3 619.5L438.6 622.0L439.0 621.2L439.3 621.5L439.6 619.4L439.9 621.8L440.3 635.7L440.6 641.9L440.9 639.8L441.2 636.6L441.6 641.8L441.9 633.7L442.2 638.5L442.5 639.9L442.8 636.3L443.1 640.3L443.4 642.3L443.7 641.1L444.0 641.9L444.2 638.1L444.5 644.0L444.8 649.9L445.1 642.7L445.4 646.0L445.6 643.0L445.9 644.8L446.2 655.3L446.5 647.4L446.7 642.7L447.0 660.7L447.2 651.5L447.5 644.9L447.7 648.1L448.0 639.5L448.2 653.4L448.5 662.1L448.7 654.1L448.9 648.0L449.1 649.8L449.3 681.1L449.5 652.8L449.8 690.6L450.0 671.9L450.2 652.2L450.4 642.7L450.6 645.4L450.7 684.8L450.9 668.7L451.1 632.6L451.3 655.7L451.5 656.4L451.6 650.9L451.8 665.9L452.0 685.7L452.2 677.6L452.3 651.9L452.5 652.3L452.7 666.9L452.8 658.4L453.0 682.8L453.1 688.7L453.3 668.6L453.5 668.5L453.7 665.3L454.0 679.5L454.3 661.6L454.5 678.1L454.8 680.3L455.0 682.3L455.2 666.1L455.4 676.4L455.6 622.6L455.8 684.6L455.9 674.8L456.1 662.8L456.3 615.0L456.4 680.7L456.5 682.7L456.6 662.1L456.8 675.9L456.9 593.7L457.0 607.3L457.1 663.9L457.2 689.4L457.3 631.6L457.4 598.0L457.6 662.3L457.7 676.4L457.8 640.2L457.9 664.8L458.0 654.9L458.1 605.6L458.2 650.5L458.3 597.6L458.4 638.4L458.6 651.2L458.7 598.2L458.8 681.1L459.0 609.6L459.1 612.7L459.3 602.0L459.5 598.0L459.7 664.0L459.9 639.0L460.1 674.1L460.4 610.1L460.7 599.0L461.0 600.4L461.3 601.6L461.6 603.2L461.9 607.3L462.1 607.5L462.4 600.6L462.7 601.0L462.9 605.7L463.2 607.3L463.4 607.9L463.7 606.4L463.9 607.5L464.1 609.3L464.4 610.3L464.6 609.1L464.9 611.4L465.1 614.1L465.4 615.2L465.6 617.6L465.9 618.9L466.1 618.3L466.4 621.9L466.7 618.8L466.9 622.0L467.2 624.8L467.5 622.9L467.8 620.9L468.1 623.7L468.5 621.2L468.8 623.8L469.1 621.0L469.5 621.6L469.8 621.8L470.1 622.0L470.5 623.1L470.8 624.1L471.1 624.3L471.5 622.5L471.8 625.9L472.1 625.7L472.5 621.8L472.8 625.5L473.1 625.1L473.5 623.7L473.8 623.0L474.1 622.0L474.5 622.3L474.8 623.5L475.1 623.1L475.5 623.1L475.8 622.2L476.1 623.9L476.4 622.5L476.8 621.7L477.1 623.3L477.4 626.3L477.8 623.0L478.1 622.7L478.4 622.3L478.8 623.2L479.1 622.9L479.4 621.7L479.8 622.2L480.1 625.3L480.4 622.0L480.8 625.3L481.1 621.0L481.4 621.9L481.8 621.9L482.1 621.3L482.4 623.0L482.7 623.2L483.1 623.0L483.4 622.9L483.7 621.6L484.1 621.2L484.4 623.0L484.7 619.7L485.1 623.2L485.4 626.1L485.7 621.5L486.0 622.1L486.4 624.3L486.7 620.2L487.0 621.9L487.3 622.6L487.7 623.9L488.0 625.0L488.3 625.2L488.6 621.7L489.0 624.7L489.3 624.6L489.6 623.1L489.9 623.6L490.3 623.6L490.6 624.0L490.9 624.9L491.2 624.6L491.5 625.5L491.9 623.2L492.2 627.5L492.5 624.2L492.8 625.3L493.2 624.3L493.5 626.2L493.8 625.1L494.1 625.1L494.5 625.3L494.8 623.6L495.1 625.0L495.5 625.0L495.8 626.1L496.1 625.9L496.5 624.8L496.8 627.3L497.1 628.6L497.5 626.0L497.8 624.0L498.1 625.7L498.5 625.3L498.8 625.5L499.1 626.6L499.5 626.3L499.8 625.7L500.1 625.1L500.5 626.6L500.8 628.1L501.1 628.2L501.5 624.9L501.8 625.9L502.1 627.6L502.5 624.4L502.8 626.6L503.1 623.7L503.5 626.8L503.8 626.5L504.1 627.3L504.5 628.9L504.8 627.9L505.1 626.6L505.4 628.3L505.8 625.1L506.1 624.0L506.4 624.6L506.8 625.9L507.1 625.8L507.4 626.5L507.8 627.0L508.1 625.8L508.4 624.2L508.8 625.1L509.1 628.9L509.4 625.9L509.8 626.9L510.1 624.9L510.4 626.3L510.8 626.9L511.1 623.7L511.4 624.7L511.8 626.2L512.1 624.3L512.4 621.9L512.8 625.1L513.1 625.9L513.4 627.7L513.8 628.8L514.1 623.6L514.4 624.4L514.8 625.1L515.1 623.6L515.4 625.6L515.8 622.6L516.1 627.7L516.4 626.1L516.7 625.6L517.1 625.4L517.4 624.1L517.7 624.9L518.1 624.2L518.4 625.6L518.7 624.5L519.1 625.9L519.4 626.6L519.7 628.9L520.1 625.5L520.4 627.9L520.7 627.3L521.1 627.1L521.4 624.8L521.7 623.6L522.1 625.9L522.4 623.8L522.7 626.1L523.1 626.0L523.4 625.0L523.7 626.7L524.1 624.2L524.4 623.9L524.7 627.3L525.1 626.0L525.4 624.1L525.7 626.8L526.1 624.9L526.4 626.1L526.7 623.6L527.1 623.8L527.4 624.5L527.7 623.1L528.1 624.2L528.4 625.8L528.7 625.3L529.1 625.4L529.4 626.2L529.7 623.9L530.0 623.5L530.4 625.2L530.7 623.7L531.0 623.7L531.4 624.1L531.7 624.1L532.0 625.3L532.4 624.4L532.7 624.2L533.0 626.6L533.4 625.3L533.7 623.0L534.0 622.0L534.4 627.4L534.7 626.4L535.0 623.1L535.4 624.8L535.7 622.8L536.0 623.8L536.4 624.8L536.7 626.3L537.0 626.5L537.4 623.0L537.7 626.1L538.0 625.0L538.4 624.5L538.7 625.3L539.0 625.5L539.4 625.0L539.7 625.2L540.0 626.4L540.4 623.7L540.7 626.2L541.0 623.8L541.4 623.7L541.7 625.9L542.0 623.1L542.3 621.9L542.7 623.1L543.0 623.3L543.3 625.3L543.7 624.7L544.0 621.0L544.3 621.4L544.7 624.2L545.0 626.3L545.3 622.8L545.7 624.6L546.0 625.2L546.3 623.7L546.7 623.9L547.0 624.1L547.3 625.7L547.7 626.3L548.0 625.8L548.3 623.8L548.6 622.1L549.0 622.7L549.3 625.1L549.6 624.2L550.0 625.0L550.3 624.0L550.6 622.7L551.0 622.0L551.3 625.2L551.6 625.7L552.0 624.1L552.3 625.2L552.6 622.0L553.0 623.8L553.3 625.2L553.6 624.3L553.9 625.3L554.3 626.7L554.6 620.1L554.9 627.1L555.3 625.5L555.6 623.0L555.9 624.7L556.3 620.9L556.6 623.3L556.9 623.2L557.3 622.4L557.6 621.6L557.9 625.0L558.3 620.9L558.6 622.1L558.9 623.5L559.2 625.4L559.6 621.8L559.9 622.7L560.2 625.9L560.6 621.3L560.9 628.0L561.2 622.4L561.6 621.1L561.9 623.7L562.2 620.6L562.6 623.6L562.9 619.9L563.2 624.0L563.6 624.7L563.9 624.5L564.2 623.5L564.6 625.6L564.9 620.9L565.2 622.7L565.6 623.2L565.9 622.2L566.2 622.4L566.6 625.6L566.9 623.3L567.2 623.9L567.6 623.5L567.9 622.1L568.2 622.1L568.6 622.3L568.9 622.0L569.2 622.9L569.6 624.6L569.9 623.4L570.2 625.0L570.6 623.2L570.9 622.9L571.2 622.9L571.6 623.2L571.9 623.3L572.2 623.7L572.6 620.9L572.9 622.1L573.2 623.9L573.6 620.8L573.9 626.6L574.2 621.4L574.6 622.8L574.9 620.2L575.2 624.5L575.6 624.8L575.9 625.2L576.2 624.3L576.6 624.0L576.9 623.1L577.2 620.6L577.6 623.3L577.9 623.2L578.2 625.2L578.6 622.9L578.9 622.8L579.2 622.1L579.6 622.2L579.9 621.1L580.2 624.2L580.6 622.4L580.9 622.2L581.2 621.3L581.6 624.2L581.9 623.2L582.2 624.0L582.6 624.8L582.9 622.7L583.2 621.8L583.6 623.9L583.9 621.1L584.2 624.2L584.6 623.6L584.9 623.6L585.2 622.0L585.6 624.8L585.9 622.7L586.2 623.4L586.6 623.6L586.9 622.2L587.2 622.4L587.5 623.6L587.9 624.4L588.2 620.6L588.5 622.5L588.8 622.0L589.2 620.9L589.5 623.5L589.8 624.3L590.1 624.4L590.5 625.9L590.8 623.3L591.1 624.6L591.4 626.6L591.7 626.9L592.0 626.1L592.3 627.2L592.6 625.4L592.9 627.2L593.2 626.0L593.5 627.2L593.8 628.5L594.2 628.3L594.5 627.8L594.8 630.5L595.1 628.7L595.4 628.2L595.8 629.0L596.1 625.8L596.4 632.0L596.7 629.4L597.1 630.1L597.4 628.8L597.7 629.8L598.1 631.4L598.4 628.8L598.7 629.0L599.0 628.2L599.4 630.2L599.7 627.5L600.0 629.7L600.4 627.6L600.7 628.3L601.0 627.7L601.4 629.7L601.7 627.9L602.0 630.0L602.4 630.4L602.7 629.2L603.0 628.4L603.4 630.5L603.7 630.6L604.0 628.0L604.4 631.8L604.7 629.4L605.0 628.4L605.4 627.8L605.7 632.0L606.0 627.9L606.4 628.7L606.7 630.2L607.0 629.7L607.4 630.8L607.7 631.0L608.0 631.3L608.4 629.8L608.7 628.8L609.0 629.2L609.4 629.4L609.7 629.8L610.0 629.6L610.4 629.1L610.7 628.0L611.0 630.1L611.4 630.3L611.7 629.2L612.0 632.1L612.4 629.6L612.7 630.7L613.0 628.8L613.3 627.5L613.7 629.7L614.0 630.0L614.3 629.3L614.7 627.4L615.0 626.7L615.3 627.8L615.7 628.7L616.0 627.2L616.3 628.3L616.7 626.2L617.0 629.7L617.3 630.9L617.6 629.4L618.0 628.2L618.3 627.8L618.6 626.0L619.0 631.0L619.3 627.3L619.6 628.8L620.0 629.0L620.3 628.4L620.6 628.4L621.0 629.0L621.3 629.7L621.6 625.7L621.9 629.5L622.3 630.1L622.6 630.2L622.9 629.3L623.3 629.5L623.6 627.6L623.9 629.0L624.3 627.9L624.6 628.6L624.9 627.7L625.3 628.5L625.6 626.8L625.9 628.2L626.3 630.5L626.6 629.7L626.9 627.3L627.3 627.7L627.6 629.5L627.9 628.8L628.3 628.0L628.6 629.6L628.9 626.2L629.3 628.8L629.6 630.5L629.9 627.6L630.3 628.5L630.6 629.0L630.9 630.3L631.3 627.4L631.6 629.3L631.9 626.5L632.3 624.5L632.6 630.1L632.9 629.5L633.3 629.2L633.6 629.8L633.9 627.0L634.3 630.3L634.6 626.5L634.9 628.6L635.3 627.0L635.6 626.9L635.9 627.5L636.3 627.4L636.6 630.9L636.9 627.6L637.3 627.8L637.6 627.9L637.9 627.8L638.3 627.1L638.6 625.7L638.9 628.3L639.3 629.3L639.6 626.0L639.9 628.8L640.2 630.8L640.6 625.0L640.9 626.4L641.2 629.2L641.6 628.1L641.9 629.9L642.2 630.2L642.6 626.5L642.9 627.9L643.2 628.6L643.6 628.2L643.9 628.5L644.2 625.6L644.6 627.6L644.9 629.7L645.2 627.3L645.6 630.6L645.9 626.1L646.2 629.6L646.6 627.8L646.9 626.4L647.2 630.6L647.6 629.9L647.9 628.9L648.2 627.5L648.6 628.3L648.9 630.3L649.2 627.2L649.6 628.0L649.9 630.0L650.2 629.8L650.6 627.8L650.9 629.0L651.2 626.7L651.6 628.1L651.9 630.0L652.2 629.6L652.6 628.4L652.9 627.5L653.2 627.9L653.6 626.3L653.9 628.5L654.2 629.8L654.5 630.0L654.9 626.0L655.2 628.3L655.5 629.1L655.9 628.0L656.2 629.2L656.5 628.6L656.9 629.6L657.2 630.5L657.5 627.2L657.9 628.7L658.2 629.9L658.5 629.5L658.9 629.3L659.2 628.4L659.5 628.3L659.9 629.2L660.2 631.6L660.5 631.0L660.9 630.1L661.2 629.4L661.5 631.6L661.8 631.3L662.2 629.6L662.5 628.1L662.8 629.6L663.2 630.6L663.5 629.1L663.8 630.2L664.2 627.6L664.5 629.1L664.8 629.1L665.2 629.9L665.5 630.1L665.8 629.0L666.2 631.3L666.5 628.4L666.8 627.7L667.2 632.0L667.5 628.7L667.8 628.3L668.2 629.5L668.5 631.6L668.8 630.1L669.2 629.9L669.5 631.6L669.8 631.1L670.2 630.3L670.5 631.7L670.8 630.3L671.1 632.0L671.5 631.0L671.8 629.0L672.1 629.7L672.5 629.8L672.8 630.9L673.1 632.1L673.5 630.4L673.8 627.5L674.1 631.6L674.5 628.9L674.8 629.1L675.1 630.3L675.5 627.0L675.8 630.9L676.1 627.6L676.5 627.6L676.8 630.9L677.1 631.4L677.5 627.2L677.8 632.0L678.1 629.9L678.5 630.5L678.8 630.0L679.1 630.3L679.5 630.5L679.8 630.8L680.1 632.1L680.5 629.8L680.8 628.4L681.1 630.4L681.5 629.7L681.8 631.9L682.1 632.0L682.5 629.9L682.8 631.0L683.1 629.8L683.5 629.5L683.8 626.9L684.1 630.8L684.5 631.2L684.8 627.8L685.1 629.4L685.5 630.1L685.8 628.7L686.1 630.9L686.5 626.6L686.8 630.3L687.1 630.3L687.5 631.1L687.8 628.4L688.1 628.6L688.5 631.5L688.8 629.1L689.1 628.2L689.5 632.2L689.8 628.8L690.1 630.3L690.5 629.4L690.8 627.5L691.1 631.6L691.5 631.1L691.8 630.7L692.1 631.5L692.5 629.7L692.8 627.7L693.1 632.4L693.5 628.2L693.8 628.5L694.1 629.7L694.5 630.2L694.8 628.2L695.1 626.9L695.5 629.9L695.8 631.8L696.1 630.5L696.5 628.4L696.8 630.7L697.1 630.5L697.5 633.4L697.8 629.6L698.1 630.4L698.5 631.6L698.8 628.1L699.1 627.5L699.5 631.5L699.8 630.0L700.1 631.5L700.5 630.6L700.8 627.2L701.1 628.0L701.5 630.1L701.8 629.7L702.1 627.1L702.5 629.3L702.8 628.9L703.1 629.3L703.5 630.4L703.8 630.7L704.1 630.3L704.5 628.6L704.8 631.5L705.1 631.4L705.5 629.1L705.8 630.1L706.1 629.1L706.4 631.4L706.8 631.0L707.1 630.7L707.4 628.8L707.8 627.5L708.1 632.0L708.4 627.6L708.8 630.4L709.1 628.3L709.4 629.9L709.8 628.4L710.1 628.3L710.4 627.3L710.8 626.6L711.1 629.0L711.4 630.8L711.8 626.4L712.1 629.3L712.4 630.0L712.7 630.0L713.1 629.3L713.4 628.7L713.7 629.1L714.1 626.2L714.4 630.2L714.7 628.4L715.1 628.1L715.4 630.6L715.7 628.7L716.1 630.5L716.4 628.0L716.7 628.9L717.1 629.4L717.4 626.4L717.7 628.2L718.1 627.2L718.4 628.6L718.7 628.5L719.1 628.5L719.4 628.3L719.7 628.5L720.1 629.9L720.4 628.8L720.7 629.0L721.1 629.9L721.4 628.5L721.7 625.5L722.1 627.2L722.4 627.0L722.7 627.8L723.1 630.2L723.4 628.0L723.7 630.0L724.1 629.1L724.4 628.4L724.7 631.5L725.0 627.0L725.4 627.7L725.7 625.2L726.0 628.2L726.4 627.5L726.7 627.6L727.0 627.7L727.4 627.1L727.7 629.9L728.0 626.3L728.4 627.5L728.7 628.3L729.0 628.9L729.4 628.1L729.7 628.8L730.0 630.9L730.4 628.4L730.7 627.9L731.0 627.8L731.4 629.4L731.7 625.9L732.0 626.1L732.4 628.7L732.7 626.3L733.0 625.4L733.4 629.2L733.7 628.4L734.0 627.7L734.4 627.7L734.7 625.3L735.0 626.1L735.4 628.6L735.7 628.7L736.0 628.3L736.4 627.0L736.7 627.6L737.0 627.6L737.4 627.7L737.7 628.7L738.0 625.9L738.4 629.7L738.7 630.0L739.0 625.1L739.4 626.8L739.7 628.0L740.0 629.5L740.4 627.9L740.7 627.2L741.0 629.1L741.4 628.0L741.7 627.4L742.0 628.0L742.3 628.9L742.7 629.2L743.0 628.3L743.3 630.3L743.7 629.6L744.0 626.8L744.3 629.0L744.7 627.8L745.0 627.9L745.3 626.6L745.7 628.9L746.0 626.4L746.3 630.1L746.7 628.8L747.0 626.3L747.3 628.5L747.7 629.3L748.0 626.6L748.3 628.3L748.7 628.5L749.0 624.6L749.3 626.0L749.7 629.5L750.0 627.8L750.3 626.4L750.7 625.0L751.0 627.2L751.3 626.9L751.7 626.2L752.0 627.0L752.3 629.3L752.6 624.1L753.0 628.7L753.3 628.9L753.6 627.5L754.0 626.0L754.3 628.2L754.6 626.3L755.0 628.1L755.3 628.5L755.6 626.6L756.0 628.5L756.3 625.9L756.6 627.0L757.0 628.1L757.3 629.0L757.6 627.6L758.0 625.9L758.3 625.6L758.6 627.4L759.0 627.9L759.3 624.4L759.6 625.0L759.9 627.1L760.3 627.1L760.6 625.6L760.9 626.3L761.3 629.6L761.6 626.5L761.9 627.0L762.3 625.1L762.6 626.9L762.9 626.1L763.3 626.3L763.6 624.9L763.9 628.1L764.3 629.2L764.6 627.9L764.9 625.8L765.3 628.7L765.6 629.4L765.9 626.5L766.3 628.0L766.6 626.2L766.9 627.7L767.3 629.1L767.6 627.9L767.9 627.4L768.2 625.1L768.6 628.4L768.9 626.3L769.2 626.7L769.6 625.3L769.9 626.8L770.2 628.1L770.6 627.6L770.9 627.6L771.2 624.3L771.6 626.9L771.9 629.5L772.2 628.6L772.6 628.8L772.9 624.6L773.2 626.3L773.6 626.8L773.9 625.1L774.2 625.1L774.6 628.6L774.9 629.0L775.2 628.0L775.6 625.1L775.9 624.7L776.2 624.4L776.6 628.1L776.9 626.7L777.2 627.8L777.5 626.8L777.9 626.1L778.2 628.4L778.5 627.2L778.9 623.6L779.2 627.2L779.5 628.2L779.9 626.8L780.2 626.8L780.5 624.3L780.9 623.9L781.2 624.2L781.5 627.5L781.9 627.5L782.2 626.3L782.5 626.7L782.9 628.4L783.2 623.0L783.5 625.9L783.9 625.8L784.2 629.1L784.5 628.1L784.9 626.1L785.2 626.1L785.5 628.3L785.9 624.9L786.2 624.2L786.5 628.4L786.8 627.4L787.2 628.0L787.5 626.1L787.8 624.4L788.2 627.1L788.5 624.0L788.8 625.5L789.2 623.7L789.5 625.9L789.8 625.3L790.2 625.3L790.5 626.2L790.8 625.8L791.2 626.0L791.5 625.1L791.8 625.5L792.2 625.1L792.5 626.6L792.8 628.8L793.2 625.5L793.5 629.3L793.8 624.3L794.1 624.8L794.5 624.2L794.8 625.5L795.1 625.0L795.5 624.8L795.8 625.5L796.1 624.2L796.5 625.7L796.8 626.1L797.1 623.3L797.5 625.6L797.8 625.3L798.1 627.6L798.5 624.8L798.8 623.9L799.1 624.7L799.5 626.7L799.8 625.1L800.1 623.9L800.4 624.4L800.8 625.6L801.1 623.9L801.4 624.9L801.8 626.0L802.1 623.2L802.4 624.3L802.8 626.8L803.1 627.7L803.4 624.5L803.8 622.4L804.1 625.0L804.4 623.0L804.7 621.7L805.1 623.1L805.4 623.2L805.7 625.3L806.1 622.4L806.4 626.7L806.7 623.5L807.1 626.3L807.4 625.3L807.7 623.8L808.0 625.9L808.4 624.3L808.7 624.0L809.0 623.8L809.4 623.2L809.7 622.1L810.0 622.8L810.4 622.5L810.7 623.1L811.0 624.1L811.3 623.7L811.7 624.8L812.0 624.3L812.3 623.1L812.7 622.1L813.0 622.4L813.3 620.9L813.7 623.0L814.0 624.5L814.3 621.2L814.7 621.4L815.0 622.2L815.3 622.5L815.6 623.5L816.0 621.1L816.3 622.3L816.6 623.9L817.0 622.0L817.3 624.5L817.6 622.4L818.0 622.1L818.3 625.7L818.6 622.0L819.0 622.2L819.3 622.4L819.6 623.6L820.0 623.2L820.3 621.3L820.6 624.2L820.9 624.2L821.3 623.4L821.6 622.8L821.9 621.4L822.3 622.4L822.6 623.2L822.9 623.2L823.3 625.5L823.6 622.8L823.9 621.8L824.3 622.4L824.6 621.3L824.9 623.2L825.3 623.7L825.6 623.7L825.9 621.0L826.3 623.9L826.6 623.9L826.9 622.0L827.3 623.0L827.6 621.0L827.9 622.0L828.3 622.1L828.6 623.4L828.9 624.1L829.3 621.6L829.6 624.6L829.9 619.7L830.3 621.4L830.6 626.0L830.9 623.5L831.3 622.7L831.6 623.4L831.9 622.1L832.3 622.3L832.6 622.5L832.9 623.8L833.3 623.4L833.6 623.2L833.9 618.5L834.3 623.6L834.6 623.9L834.9 622.4L835.3 621.7L835.6 625.0L835.9 623.1L836.3 623.9L836.6 625.0L836.9 623.2L837.3 624.3L837.6 622.4L837.9 625.6L838.2 624.7L838.6 625.1L838.9 623.4L839.2 623.7L839.6 619.3L839.9 621.4L840.2 621.0L840.6 625.0L840.9 624.7L841.2 624.2L841.6 623.8L841.9 622.4L842.2 623.0L842.6 622.4L842.9 622.5L843.2 622.3L843.6 623.8L843.9 621.5L844.2 621.6L844.5 625.6L844.9 622.7L845.2 623.3L845.5 624.3L845.9 623.5L846.2 621.8L846.5 624.7L846.9 626.5L847.2 625.0L847.5 623.1L847.9 624.2L848.2 624.6L848.5 622.9L848.9 624.8L849.2 623.8L849.5 623.5L849.8 625.4L850.2 622.9L850.5 624.0L850.8 624.1L851.2 627.0L851.5 623.9L851.8 625.0L852.1 625.2L852.5 624.7L852.8 625.7L853.1 627.0L853.4 625.9L853.7 627.5L854.0 625.7L854.3 627.3L854.6 627.6L854.9 627.7L855.2 631.0L855.5 629.3L855.7 630.1L856.0 629.3L856.3 630.8L856.6 633.6L856.8 630.2L857.1 636.0L857.4 641.3L857.6 637.2L857.9 641.2L858.2 636.8L858.5 631.4L858.7 642.7L859.0 643.7L859.3 644.2L859.5 652.0L859.8 655.1L860.0 641.7L860.3 647.3L860.5 643.1L860.8 648.0L861.1 646.9L861.3 652.3L861.6 652.1L861.9 652.2L862.2 653.6L862.5 650.9L862.8 655.6L863.1 652.6L863.4 656.1L863.8 647.6L864.1 655.1L864.4 654.4L864.7 656.1L865.0 649.7L865.3 652.5L865.6 650.8L865.9 654.6L866.2 647.8L866.5 651.3L866.8 632.6L867.0 626.6L867.3 648.1L867.6 645.2L867.8 635.0L868.0 649.2L868.2 642.8L868.4 625.0L868.7 623.1L868.9 637.8L869.1 630.4L869.3 644.8L869.5 631.6L869.7 632.1L869.9 630.1L870.1 611.2L870.4 644.9L870.6 622.4L870.8 614.0L871.0 607.8L871.2 620.6L871.4 606.3L871.7 640.0L871.9 610.5L872.1 607.6L872.3 611.2L872.6 605.9L872.9 602.1L873.2 607.2L873.4 605.8L873.7 635.8L874.0 601.8L874.3 608.2L874.6 606.5L874.9 607.7L875.3 607.2L875.6 603.9L875.9 603.9L876.2 606.1L876.5 603.3L876.9 604.9L877.2 603.9L877.5 603.2L877.8 610.0L878.1 609.2L878.4 604.7L878.7 603.1L879.0 616.1L879.3 607.3L879.6 605.9L879.9 630.9L880.2 609.9L880.5 612.2L880.8 623.9L881.0 609.8L881.3 605.6L881.6 608.7L881.8 608.6L882.1 612.0L882.3 616.0L882.5 608.6L882.8 620.1L883.0 625.8L883.2 627.6L883.5 630.8L883.7 633.6L883.9 607.6L884.2 636.6L884.4 615.4L884.7 610.6L884.9 627.8L885.2 629.9L885.5 634.2L885.7 632.2L886.0 635.1L886.3 634.9L886.6 632.9L886.8 631.1L887.1 634.9L887.4 618.3L887.7 635.6L888.0 634.5L888.4 633.8L888.7 629.4L889.0 635.6L889.2 635.5L889.5 634.3L889.8 629.9L890.1 624.0L890.4 633.3L890.6 631.6L890.9 631.4L891.2 637.5L891.5 631.7L891.7 629.4L892.0 624.6L892.3 625.1L892.5 628.1L892.8 628.6L893.0 627.2L893.3 619.4L893.6 616.7L893.8 620.1L894.1 618.6L894.4 624.1L894.7 620.8L895.0 618.0L895.3 618.9L895.7 623.1L896.0 618.3L896.3 620.6L896.6 621.2L897.0 619.2L897.3 619.4L897.6 616.3L897.9 620.4L898.3 615.2L898.6 616.6L898.9 616.1L899.3 616.9L899.6 620.8L899.9 618.8L900.2 621.5L900.5 619.3L900.8 622.1L901.1 617.8L901.4 620.7L901.7 623.2L902.0 622.9L902.3 619.7L902.6 622.1L902.9 622.4L903.2 621.1L903.5 621.7L903.8 624.4L904.1 621.9L904.5 623.0L904.8 623.7L905.1 621.0L905.4 624.8L905.8 623.6L906.1 622.7L906.4 622.6L906.7 624.4L907.1 623.8L907.4 622.2L907.7 622.8L908.0 623.4L908.4 623.2L908.7 620.6L909.0 622.2L909.4 622.8L909.7 622.5L910.0 621.9L910.3 622.3L910.7 621.9L911.0 618.7L911.3 621.5L911.7 620.6L912.0 620.9L912.3 620.4L912.7 622.2L913.0 620.5L913.3 621.5L913.6 622.3L914.0 621.3L914.3 621.2L914.6 618.6L915.0 619.2L915.3 617.1L915.6 619.8L916.0 617.8L916.3 618.8L916.6 617.8L917.0 618.8L917.3 616.7L917.6 619.1L918.0 617.9L918.3 615.9L918.6 619.1L918.9 619.6L919.3 618.1L919.6 617.8L919.9 618.8L920.3 617.2L920.6 617.5L920.9 615.9L921.3 616.1L921.6 617.8L921.9 617.5L922.3 618.7L922.6 618.2L922.9 614.9L923.3 616.6L923.6 617.7L923.9 617.4L924.2 619.3L924.6 618.1L924.9 615.9L925.2 617.5L925.6 616.5L925.9 619.8L926.2 620.3L926.6 618.4L926.9 619.1L927.2 618.9L927.6 616.4L927.9 616.1L928.2 619.2L928.6 618.1L928.9 620.4L929.2 616.5L929.5 617.3L929.9 618.5L930.2 616.8L930.5 617.4L930.9 618.1L931.2 618.1L931.5 619.4L931.9 618.7L932.2 618.0L932.5 617.6L932.9 619.9L933.2 619.7L933.5 616.5L933.8 618.8L934.2 617.4L934.5 618.7L934.8 618.2L935.2 615.2L935.5 620.4L935.8 615.5L936.2 618.1L936.5 618.6L936.8 621.2L937.1 618.1L937.5 619.1L937.8 619.6L938.1 618.6L938.5 618.5L938.8 619.1L939.1 619.3L939.5 619.4L939.8 616.3L940.1 620.5L940.5 618.6L940.8 618.7L941.1 621.2" fill="none" stroke="#0072bd" stroke-width="0.6" marker-start="url(#a)" marker-mid="url(#a)" marker-end="url(#a)"/>
<path d="M85.0 621.2L85.3 622.1L85.7 621.3L86.0 620.1L86.3 620.4L86.7 621.2L87.0 620.7L87.3 621.4L87.7 619.5L88.0 621.9L88.3 621.8L88.7 619.7L89.0 620.4L89.3 620.2L89.6 620.3L90.0 621.2L90.3 620.3L90.6 620.0L91.0 621.0L91.3 621.4L91.6 620.3L92.0 620.7L92.3 619.7L92.6 621.1L93.0 621.9L93.3 620.9L93.6 620.5L94.0 619.3L94.3 620.3L94.6 619.2L95.0 621.0L95.3 621.6L95.6 621.3L96.0 620.6L96.3 620.8L96.6 620.0L97.0 620.6L97.3 620.6L97.6 620.4L98.0 618.8L98.3 620.6L98.6 620.7L99.0 620.0L99.3 620.7L99.6 620.9L100.0 619.1L100.3 621.0L100.6 620.1L101.0 619.7L101.3 620.5L101.6 619.9L102.0 620.1L102.3 619.8L102.6 620.0L103.0 619.6L103.3 620.0L103.6 619.7L104.0 619.6L104.3 621.1L104.6 620.5L105.0 620.7L105.3 621.5L105.6 620.9L106.0 620.5L106.3 619.8L106.6 621.0L107.0 620.8L107.3 621.2L107.6 620.5L108.0 620.4L108.3 619.3L108.6 621.0L108.9 619.7L109.3 620.3L109.6 621.0L109.9 620.7L110.3 620.6L110.6 621.0L110.9 619.6L111.3 620.8L111.6 621.6L111.9 621.5L112.3 619.9L112.6 621.5L112.9 621.2L113.3 620.3L113.6 620.1L113.9 620.9L114.2 621.9L114.6 621.5L114.9 620.7L115.2 621.4L115.5 622.2L115.9 621.6L116.2 621.5L116.5 622.3L116.8 620.9L117.1 622.6L117.5 621.7L117.8 622.7L118.1 623.1L118.4 623.0L118.7 622.8L119.1 623.2L119.4 624.2L119.7 623.0L120.0 623.4L120.3 624.3L120.7 624.8L121.0 624.5L121.3 624.3L121.6 625.3L121.9 624.8L122.2 626.5L122.6 626.2L122.9 626.7L123.2 625.1L123.5 625.6L123.8 625.9L124.2 625.4L124.5 625.9L124.8 626.9L125.2 625.8L125.5 626.3L125.8 627.4L126.1 626.7L126.5 626.9L126.8 626.6L127.1 626.2L127.5 626.4L127.8 626.8L128.1 626.3L128.5 626.7L128.8 626.4L129.1 626.7L129.5 627.7L129.8 627.1L130.1 626.0L130.5 626.7L130.8 627.9L131.1 627.9L131.5 626.1L131.8 627.1L132.1 626.9L132.4 625.3L132.8 627.1L133.1 628.1L133.4 626.5L133.8 626.7L134.1 627.5L134.4 626.6L134.8 626.7L135.1 627.1L135.4 626.1L135.8 627.3L136.1 626.1L136.4 627.0L136.8 627.5L137.1 628.0L137.4 626.5L137.8 627.1L138.1 627.1L138.4 625.9L138.8 626.9L139.1 627.1L139.4 627.3L139.8 628.2L140.1 627.1L140.4 626.9L140.8 626.9L141.1 627.0L141.4 627.3L141.8 628.0L142.1 626.3L142.4 627.0L142.8 625.5L143.1 625.9L143.4 627.1L143.8 625.7L144.1 627.2L144.4 627.8L144.8 626.4L145.1 626.5L145.4 627.0L145.8 626.7L146.1 626.9L146.4 626.5L146.8 627.5L147.1 627.2L147.4 626.9L147.8 625.6L148.1 626.5L148.4 627.0L148.8 627.4L149.1 626.6L149.4 627.3L149.8 627.5L150.1 626.6L150.4 627.4L150.8 626.9L151.1 626.3L151.4 626.9L151.8 627.8L152.1 627.2L152.4 627.0L152.8 627.5L153.1 627.4L153.4 627.1L153.8 625.8L154.1 625.4L154.4 626.0L154.8 628.0L155.1 627.4L155.4 626.0L155.8 627.4L156.1 626.1L156.4 627.1L156.8 627.5L157.1 626.9L157.4 627.4L157.8 627.5L158.1 625.9L158.4 626.9L158.8 627.2L159.1 626.6L159.4 626.1L159.8 627.8L160.1 627.0L160.4 626.5L160.8 626.2L161.1 626.7L161.4 627.4L161.8 626.3L162.1 626.9L162.4 626.7L162.7 626.3L163.1 626.4L163.4 626.3L163.7 625.7L164.0 625.3L164.4 626.5L164.7 626.8L165.0 626.2L165.4 625.3L165.7 625.7L166.0 625.3L166.3 624.7L166.7 624.8L167.0 625.0L167.3 625.6L167.6 624.5L168.0 625.8L168.3 625.0L168.6 625.7L168.9 625.5L169.3 624.9L169.6 624.8L169.9 624.9L170.3 624.8L170.6 625.0L170.9 625.6L171.2 624.9L171.6 625.4L171.9 625.0L172.2 624.2L172.6 624.7L172.9 624.8L173.2 624.9L173.6 624.1L173.9 625.0L174.2 624.0L174.6 624.3L174.9 624.8L175.2 624.5L175.6 623.9L175.9 623.7L176.2 624.2L176.6 624.1L176.9 625.8L177.2 623.9L177.5 623.7L177.9 625.9L178.2 623.6L178.5 624.3L178.9 625.0L179.2 624.7L179.5 624.9L179.9 625.7L180.2 626.2L180.5 625.0L180.9 625.1L181.2 624.7L181.5 624.6L181.8 624.7L182.2 625.2L182.5 624.8L182.8 625.3L183.2 624.9L183.5 624.5L183.8 625.0L184.2 625.1L184.5 625.0L184.8 625.1L185.1 625.7L185.5 624.6L185.8 626.0L186.1 625.1L186.5 625.4L186.8 626.3L187.1 626.1L187.5 624.5L187.8 625.8L188.1 626.4L188.5 625.1L188.8 625.4L189.1 626.5L189.5 625.0L189.8 626.8L190.1 625.0L190.4 625.4L190.8 625.5L191.1 625.6L191.4 626.4L191.8 626.2L192.1 626.0L192.4 626.1L192.8 625.0L193.1 625.6L193.4 626.7L193.8 625.4L194.1 626.9L194.4 626.0L194.8 625.5L195.1 626.7L195.4 626.7L195.7 625.8L196.1 625.9L196.4 625.8L196.7 625.9L197.1 624.9L197.4 626.0L197.7 627.2L198.1 626.1L198.4 626.7L198.7 627.0L199.1 626.6L199.4 626.2L199.7 626.2L200.1 626.2L200.4 626.8L200.7 626.4L201.0 627.1L201.4 627.7L201.7 627.0L202.0 625.8L202.4 626.9L202.7 626.6L203.0 626.5L203.4 626.3L203.7 626.6L204.0 628.7L204.4 628.7L204.7 627.9L205.0 626.3L205.4 627.0L205.7 627.5L206.0 626.7L206.4 627.3L206.7 627.6L207.0 627.9L207.4 627.2L207.7 627.1L208.0 626.8L208.4 626.7L208.7 627.0L209.0 626.9L209.4 627.4L209.7 627.1L210.0 626.8L210.4 627.8L210.7 626.7L211.0 627.3L211.4 627.2L211.7 626.6L212.0 626.9L212.4 627.1L212.7 626.6L213.0 626.1L213.4 628.5L213.7 626.5L214.0 626.7L214.4 626.8L214.7 626.9L215.0 627.4L215.4 627.4L215.7 626.6L216.0 627.1L216.4 627.3L216.7 626.8L217.0 627.6L217.4 627.1L217.7 627.5L218.0 626.3L218.4 628.0L218.7 626.9L219.0 626.4L219.4 626.4L219.7 626.5L220.0 627.2L220.4 625.6L220.7 626.4L221.0 627.6L221.4 627.7L221.7 626.4L222.0 627.1L222.4 627.1L222.7 626.9L223.0 626.7L223.4 627.5L223.7 626.9L224.0 627.2L224.4 627.5L224.7 626.5L225.0 626.5L225.4 628.4L225.7 626.4L226.0 627.7L226.4 627.8L226.7 627.1L227.0 626.9L227.4 627.0L227.7 626.6L228.0 627.1L228.4 626.9L228.7 626.7L229.0 626.8L229.4 627.5L229.7 627.0L230.0 626.9L230.4 628.2L230.7 627.0L231.0 627.4L231.4 626.5L231.7 626.4L232.0 627.3L232.4 627.5L232.7 625.2L233.0 627.3L233.3 627.4L233.7 626.9L234.0 627.3L234.3 626.2L234.7 627.1L235.0 626.1L235.3 626.6L235.7 626.5L236.0 626.8L236.3 625.9L236.7 626.8L237.0 626.9L237.3 627.3L237.7 626.3L238.0 626.9L238.3 626.2L238.7 626.8L239.0 626.1L239.3 625.8L239.6 626.1L240.0 627.4L240.3 627.3L240.6 626.4L241.0 626.4L241.3 626.6L241.6 625.4L242.0 627.5L242.3 625.7L242.6 625.5L243.0 626.1L243.3 625.6L243.6 626.3L244.0 626.5L244.3 625.9L244.6 626.2L244.9 625.7L245.3 625.0L245.6 625.2L245.9 627.1L246.3 625.9L246.6 624.8L246.9 625.2L247.3 625.3L247.6 626.3L247.9 625.9L248.3 626.6L248.6 626.9L248.9 626.1L249.3 626.0L249.6 626.4L249.9 625.4L250.2 625.5L250.6 624.6L250.9 626.0L251.2 625.0L251.6 625.6L251.9 626.9L252.2 624.6L252.6 625.1L252.9 624.7L253.2 624.6L253.6 625.7L253.9 624.2L254.2 625.3L254.5 625.2L254.9 625.7L255.2 624.0L255.5 624.2L255.9 625.5L256.2 623.8L256.5 625.0L256.9 625.5L257.2 623.9L257.5 624.1L257.8 625.2L258.2 623.9L258.5 625.2L258.8 625.3L259.2 624.6L259.5 624.5L259.8 624.5L260.2 624.1L260.5 625.0L260.8 624.9L261.2 624.4L261.5 624.6L261.8 623.6L262.2 623.8L262.5 623.1L262.8 624.0L263.2 624.9L263.5 624.5L263.8 624.0L264.1 624.1L264.5 624.1L264.8 625.0L265.1 623.7L265.5 625.1L265.8 624.7L266.1 623.5L266.5 624.8L266.8 624.9L267.1 624.3L267.5 625.6L267.8 624.1L268.1 624.4L268.5 624.8L268.8 625.0L269.1 624.7L269.4 625.4L269.8 624.5L270.1 625.2L270.4 624.9L270.8 625.0L271.1 624.5L271.4 625.0L271.8 624.2L272.1 624.3L272.4 625.1L272.7 625.8L273.1 624.7L273.4 625.7L273.7 626.7L274.1 625.8L274.4 625.9L274.7 625.4L275.1 624.4L275.4 625.3L275.7 625.7L276.0 625.0L276.4 625.8L276.7 625.3L277.0 626.2L277.4 625.8L277.7 625.9L278.0 626.0L278.4 625.7L278.7 626.7L279.0 625.1L279.4 625.3L279.7 625.8L280.0 625.9L280.4 625.0L280.7 626.4L281.0 625.7L281.4 626.2L281.7 625.5L282.0 625.5L282.4 626.0L282.7 625.6L283.0 625.4L283.4 626.0L283.7 626.3L284.0 625.7L284.4 626.1L284.7 625.4L285.0 626.1L285.4 625.3L285.7 626.0L286.0 625.2L286.4 626.0L286.7 626.4L287.0 625.9L287.4 624.9L287.7 626.7L288.0 625.5L288.4 624.5L288.7 626.9L289.0 625.5L289.4 626.3L289.7 626.0L290.0 627.0L290.4 626.8L290.7 624.8L291.0 626.1L291.4 625.2L291.7 625.8L292.0 625.7L292.4 625.7L292.7 625.1L293.0 626.2L293.4 626.3L293.7 626.3L294.0 626.9L294.4 625.7L294.7 625.2L295.0 625.8L295.4 624.2L295.7 625.5L296.0 625.0L296.4 625.0L296.7 624.9L297.0 624.9L297.3 625.8L297.7 624.6L298.0 625.0L298.3 625.6L298.7 625.4L299.0 626.3L299.3 625.5L299.7 626.6L300.0 625.9L300.3 624.8L300.7 625.3L301.0 626.3L301.3 624.6L301.7 624.8L302.0 624.2L302.3 625.2L302.7 625.8L303.0 625.9L303.3 625.1L303.7 624.4L304.0 625.3L304.3 625.1L304.6 625.6L305.0 625.3L305.3 625.9L305.6 624.8L306.0 625.1L306.3 625.0L306.6 624.8L307.0 625.3L307.3 624.0L307.6 624.1L308.0 623.5L308.3 625.0L308.6 625.5L309.0 625.2L309.3 625.9L309.6 625.0L310.0 624.4L310.3 625.1L310.6 625.0L311.0 625.0L311.3 625.6L311.6 624.4L312.0 624.4L312.3 624.8L312.6 625.6L312.9 624.4L313.3 625.6L313.6 625.6L313.9 624.6L314.3 624.4L314.6 624.8L314.9 623.9L315.3 625.7L315.6 624.9L315.9 625.4L316.3 624.4L316.6 624.9L316.9 624.7L317.3 625.7L317.6 624.1L317.9 625.4L318.3 624.7L318.6 624.7L318.9 623.6L319.3 624.6L319.6 624.4L319.9 625.0L320.3 624.3L320.6 624.3L320.9 625.2L321.3 624.7L321.6 624.3L321.9 624.7L322.3 624.9L322.6 624.5L322.9 624.5L323.3 625.4L323.6 624.5L323.9 623.2L324.3 625.0L324.6 625.3L324.9 625.1L325.2 625.0L325.6 623.2L325.9 623.9L326.2 624.5L326.6 624.5L326.9 624.3L327.2 623.6L327.6 623.9L327.9 624.1L328.2 624.8L328.6 625.5L328.9 623.3L329.2 624.3L329.6 623.6L329.9 624.7L330.2 624.3L330.6 624.4L330.9 624.2L331.2 623.7L331.6 623.6L331.9 623.8L332.2 624.5L332.5 625.1L332.9 624.5L333.2 623.8L333.5 624.8L333.9 624.0L334.2 623.8L334.5 623.8L334.9 623.2L335.2 622.8L335.5 623.2L335.9 623.5L336.2 623.7L336.5 622.8L336.8 623.4L337.2 622.4L337.5 624.2L337.8 623.0L338.2 622.7L338.5 623.7L338.8 623.2L339.1 622.6L339.5 624.2L339.8 622.6L340.1 623.3L340.5 622.7L340.8 623.4L341.1 623.4L341.5 622.5L341.8 622.4L342.1 623.5L342.4 622.9L342.8 623.3L343.1 622.9L343.4 623.3L343.8 623.0L344.1 622.3L344.4 623.4L344.8 622.5L345.1 622.5L345.4 622.6L345.7 623.1L346.1 621.9L346.4 622.3L346.7 622.2L347.1 622.1L347.4 621.5L347.7 620.5L348.1 621.6L348.4 622.6L348.7 622.0L349.1 621.7L349.4 621.8L349.7 622.4L350.0 621.8L350.4 621.7L350.7 622.1L351.0 622.4L351.4 622.0L351.7 621.8L352.0 620.7L352.4 620.7L352.7 621.6L353.0 621.2L353.3 621.2L353.7 621.6L354.0 621.8L354.3 623.1L354.7 620.8L355.0 621.4L355.3 622.7L355.7 620.8L356.0 621.6L356.3 620.5L356.7 621.9L357.0 620.7L357.3 621.4L357.6 621.5L358.0 620.7L358.3 620.1L358.6 620.4L359.0 621.0L359.3 621.2L359.6 621.3L360.0 620.3L360.3 621.6L360.6 621.0L360.9 620.7L361.3 620.3L361.6 620.0L361.9 619.3L362.3 620.2L362.6 620.5L362.9 621.4L363.3 620.9L363.6 619.7L363.9 620.8L364.3 619.7L364.6 621.6L364.9 621.9L365.3 620.5L365.6 620.0L365.9 621.1L366.2 620.5L366.6 620.6L366.9 620.4L367.2 619.8L367.6 620.6L367.9 620.9L368.2 620.3L368.6 619.9L368.9 619.9L369.2 620.5L369.6 620.7L369.9 619.9L370.2 619.3L370.6 620.3L370.9 619.9L371.2 620.2L371.6 621.2L371.9 620.8L372.2 618.9L372.6 619.5L372.9 620.0L373.2 619.0L373.6 618.8L373.9 619.8L374.2 619.7L374.6 619.8L374.9 620.2L375.2 619.7L375.5 620.0L375.9 620.0L376.2 620.7L376.5 619.0L376.9 620.5L377.2 619.2L377.5 619.4L377.9 620.6L378.2 620.6L378.5 620.7L378.8 620.5L379.2 620.6L379.5 620.2L379.8 620.8L380.2 621.6L380.5 619.6L380.8 620.7L381.1 620.5L381.5 620.1L381.8 620.9L382.1 621.0L382.5 619.5L382.8 619.9L383.1 621.3L383.4 621.2L383.8 622.3L384.1 621.2L384.4 622.3L384.8 621.3L385.1 621.0L385.4 621.8L385.7 621.5L386.1 621.7L386.4 620.3L386.7 622.1L387.1 621.8L387.4 622.1L387.7 622.2L388.1 622.9L388.4 621.9L388.7 621.9L389.1 622.5L389.4 622.6L389.7 622.2L390.1 621.8L390.4 621.7L390.7 621.6L391.1 621.5L391.4 622.4L391.7 621.6L392.1 622.3L392.4 621.4L392.7 622.4L393.1 621.8L393.4 622.6L393.7 622.2L394.0 622.0L394.4 621.4L394.7 621.4L395.0 621.5L395.4 621.6L395.7 621.2L396.0 622.0L396.4 622.0L396.7 621.4L397.0 622.5L397.4 621.5L397.7 620.6L398.0 621.3L398.4 621.5L398.7 621.2L399.0 621.5L399.3 620.8L399.7 621.2L400.0 621.2L400.3 621.4L400.7 620.9L401.0 620.7L401.3 621.0L401.7 621.2L402.0 620.8L402.3 620.9L402.7 620.2L403.0 621.8L403.3 620.3L403.6 622.4L404.0 620.7L404.3 621.6L404.6 620.5L405.0 621.0L405.3 620.8L405.6 620.5L406.0 619.9L406.3 620.4L406.6 619.8L407.0 621.5L407.3 620.0L407.6 621.6L407.9 620.4L408.3 619.5L408.6 621.6L408.9 621.1L409.3 620.2L409.6 620.1L409.9 620.1L410.3 621.0L410.6 619.6L410.9 620.1L411.3 621.0L411.6 621.5L411.9 620.0L412.3 620.0L412.6 619.8L412.9 620.8L413.3 619.8L413.6 620.1L413.9 620.5L414.3 620.6L414.6 620.7L414.9 619.7L415.3 620.3L415.6 620.4L415.9 620.7L416.3 621.0L416.6 620.7L416.9 619.7L417.2 620.3L417.6 619.5L417.9 621.0L418.2 620.0L418.6 620.0L418.9 620.3L419.2 619.8L419.6 620.5L419.9 620.5L420.2 620.2L420.6 620.1L420.9 618.1L421.2 619.8L421.6 620.3L421.9 620.1L422.2 617.9L422.6 620.3L422.9 620.5L423.2 619.5L423.6 619.3L423.9 619.9L424.2 619.2L424.6 619.1L424.9 618.9L425.2 620.5L425.6 619.7L425.9 619.3L426.2 619.0L426.5 620.0L426.9 619.3L427.2 619.4L427.5 619.5L427.9 619.3L428.2 619.7L428.5 620.1L428.9 618.6L429.2 618.8L429.5 619.6L429.9 618.8L430.2 619.2L430.5 620.1L430.8 619.5L431.2 619.8L431.5 619.7L431.8 619.7L432.2 619.1L432.5 619.8L432.8 618.4L433.1 618.4L433.5 619.0L433.8 618.1L434.1 618.6L434.4 618.1L434.8 619.0L435.1 618.6L435.4 618.9L435.8 617.7L436.1 616.6L436.4 618.9L436.7 619.2L437.0 616.8L437.4 616.3L437.7 615.2L438.0 618.5L438.3 615.3L438.6 617.0L439.0 616.9L439.3 615.5L439.6 615.9L439.9 615.3L440.3 617.3L440.6 618.3L440.9 618.2L441.2 613.3L441.6 613.7L441.9 615.3L442.2 617.4L442.5 618.5L442.8 612.9L443.1 618.2L443.4 620.4L443.7 619.1L444.0 619.3L444.2 615.8L444.5 624.4L444.8 622.6L445.1 621.1L445.4 621.4L445.6 625.4L445.9 627.2L446.2 624.4L446.5 622.5L446.7 628.0L447.0 625.9L447.2 628.3L447.5 628.9L447.7 627.9L448.0 635.0L448.2 629.9L448.5 637.7L448.7 633.4L448.9 636.3L449.1 638.4L449.3 640.9L449.5 639.0L449.8 647.6L450.0 644.3L450.2 650.5L450.4 650.3L450.6 649.9L450.7 650.0L450.9 654.8L451.1 656.7L451.3 655.6L451.5 659.2L451.6 663.1L451.8 666.0L452.0 665.0L452.2 666.8L452.3 667.3L452.5 668.3L452.7 675.9L452.8 676.3L453.0 677.3L453.1 683.1L453.3 684.2L453.5 679.6L453.7 679.5L454.0 686.2L454.3 684.2L454.5 686.9L454.8 680.3L455.0 683.4L455.2 681.5L455.4 675.6L455.6 681.8L455.8 672.7L455.9 673.0L456.1 669.5L456.3 667.3L456.4 663.6L456.5 661.5L456.6 661.7L456.8 653.8L456.9 654.8L457.0 652.4L457.1 649.7L457.2 646.8L457.3 648.9L457.4 641.5L457.6 638.4L457.7 634.2L457.8 636.6L457.9 633.6L458.0 625.2L458.1 622.2L458.2 619.4L458.3 621.5L458.4 616.9L458.6 615.5L458.7 608.7L458.8 608.5L459.0 606.4L459.1 607.2L459.3 600.5L459.5 594.0L459.7 598.2L459.9 600.0L460.1 600.4L460.4 589.8L460.7 596.3L461.0 597.4L461.3 596.4L461.6 595.4L461.9 598.4L462.1 597.9L462.4 602.6L462.7 598.0L462.9 605.1L463.2 601.5L463.4 601.3L463.7 606.5L463.9 605.1L464.1 608.4L464.4 608.8L464.6 607.5L464.9 609.0L465.1 615.5L465.4 608.8L465.6 613.6L465.9 616.6L466.1 616.3L466.4 618.7L466.7 614.4L466.9 619.3L467.2 620.8L467.5 614.5L467.8 620.2L468.1 618.0L468.5 617.5L468.8 621.1L469.1 619.9L469.5 622.4L469.8 620.1L470.1 614.6L470.5 617.6L470.8 619.9L471.1 620.9L471.5 617.6L471.8 620.4L472.1 617.3L472.5 622.1L472.8 619.7L473.1 620.0L473.5 612.4L473.8 619.1L474.1 619.4L474.5 617.1L474.8 617.5L475.1 620.7L475.5 617.3L475.8 619.4L476.1 613.8L476.4 620.4L476.8 614.0L477.1 614.0L477.4 618.8L477.8 616.7L478.1 615.4L478.4 619.5L478.8 617.8L479.1 622.1L479.4 618.8L479.8 621.5L480.1 616.3L480.4 619.1L480.8 625.7L481.1 619.7L481.4 616.5L481.8 617.3L482.1 617.6L482.4 619.8L482.7 613.4L483.1 620.4L483.4 619.3L483.7 617.8L484.1 620.2L484.4 613.6L484.7 622.0L485.1 618.9L485.4 620.5L485.7 617.1L486.0 619.6L486.4 618.9L486.7 620.7L487.0 617.2L487.3 622.6L487.7 619.9L488.0 621.9L488.3 620.0L488.6 620.0L489.0 620.1L489.3 621.3L489.6 621.0L489.9 619.5L490.3 620.0L490.6 621.1L490.9 619.9L491.2 621.3L491.5 620.6L491.9 621.8L492.2 621.6L492.5 621.8L492.8 621.4L493.2 622.3L493.5 621.6L493.8 622.7L494.1 621.2L494.5 622.1L494.8 621.7L495.1 622.9L495.5 622.5L495.8 622.5L496.1 621.7L496.5 622.0L496.8 621.4L497.1 621.6L497.5 622.9L497.8 621.3L498.1 622.2L498.5 622.6L498.8 622.4L499.1 623.0L499.5 621.0L499.8 622.6L500.1 623.0L500.5 621.4L500.8 622.0L501.1 621.8L501.5 621.5L501.8 622.4L502.1 621.5L502.5 622.1L502.8 622.2L503.1 621.0L503.5 621.4L503.8 621.7L504.1 622.7L504.5 621.8L504.8 622.0L505.1 620.8L505.4 623.2L505.8 622.0L506.1 622.3L506.4 622.6L506.8 622.1L507.1 621.4L507.4 621.3L507.8 622.7L508.1 620.9L508.4 622.4L508.8 622.9L509.1 621.5L509.4 621.5L509.8 622.2L510.1 622.1L510.4 621.9L510.8 623.5L511.1 621.5L511.4 622.5L511.8 623.3L512.1 621.9L512.4 621.3L512.8 623.1L513.1 621.5L513.4 622.4L513.8 620.8L514.1 621.8L514.4 620.3L514.8 620.6L515.1 620.7L515.4 621.4L515.8 621.9L516.1 622.1L516.4 621.2L516.7 620.3L517.1 619.3L517.4 621.5L517.7 621.1L518.1 621.0L518.4 621.9L518.7 621.8L519.1 622.3L519.4 622.2L519.7 622.3L520.1 621.4L520.4 620.9L520.7 620.7L521.1 621.1L521.4 621.5L521.7 620.2L522.1 621.1L522.4 621.4L522.7 622.1L523.1 621.0L523.4 621.0L523.7 620.9L524.1 622.0L524.4 620.1L524.7 621.6L525.1 620.3L525.4 621.0L525.7 621.8L526.1 620.9L526.4 621.1L526.7 620.5L527.1 620.1L527.4 622.0L527.7 620.9L528.1 621.2L528.4 620.8L528.7 621.0L529.1 621.1L529.4 621.3L529.7 620.4L530.0 620.7L530.4 621.2L530.7 620.9L531.0 621.0L531.4 620.7L531.7 621.2L532.0 620.8L532.4 619.7L532.7 620.4L533.0 621.3L533.4 622.6L533.7 620.5L534.0 619.7L534.4 621.3L534.7 622.4L535.0 620.5L535.4 620.7L535.7 620.7L536.0 621.7L536.4 619.6L536.7 621.4L537.0 620.9L537.4 620.8L537.7 620.7L538.0 621.2L538.4 621.4L538.7 619.9L539.0 620.6L539.4 621.2L539.7 619.9L540.0 621.3L540.4 621.2L540.7 620.7L541.0 619.7L541.4 620.0L541.7 620.3L542.0 620.9L542.3 620.6L542.7 620.6L543.0 621.0L543.3 620.5L543.7 620.4L544.0 620.5L544.3 620.6L544.7 620.2L545.0 619.9L545.3 620.2L545.7 620.5L546.0 619.4L546.3 620.1L546.7 619.9L547.0 619.4L547.3 620.9L547.7 620.0L548.0 618.7L548.3 620.9L548.6 620.4L549.0 618.4L549.3 620.4L549.6 620.3L550.0 620.0L550.3 620.5L550.6 619.6L551.0 620.5L551.3 619.5L551.6 619.9L552.0 619.7L552.3 619.8L552.6 619.6L553.0 619.1L553.3 619.8L553.6 619.5L553.9 619.8L554.3 618.7L554.6 620.1L554.9 618.7L555.3 618.7L555.6 619.1L555.9 620.1L556.3 619.5L556.6 619.3L556.9 619.6L557.3 618.9L557.6 619.3L557.9 619.7L558.3 619.2L558.6 618.5L558.9 620.3L559.2 619.3L559.6 618.2L559.9 618.7L560.2 621.3L560.6 619.3L560.9 618.5L561.2 618.1L561.6 618.3L561.9 619.1L562.2 619.7L562.6 619.5L562.9 619.2L563.2 619.3L563.6 619.2L563.9 619.0L564.2 619.6L564.6 618.9L564.9 619.4L565.2 617.5L565.6 617.9L565.9 619.3L566.2 618.9L566.6 618.1L566.9 620.0L567.2 620.3L567.6 619.0L567.9 619.1L568.2 618.4L568.6 617.8L568.9 618.8L569.2 618.4L569.6 618.9L569.9 618.7L570.2 618.6L570.6 618.9L570.9 619.8L571.2 618.2L571.6 618.9L571.9 619.7L572.2 619.2L572.6 619.0L572.9 618.8L573.2 618.4L573.6 618.5L573.9 619.5L574.2 618.7L574.6 619.9L574.9 619.6L575.2 619.3L575.6 619.7L575.9 618.9L576.2 620.2L576.6 618.8L576.9 619.5L577.2 619.1L577.6 619.1L577.9 618.6L578.2 619.2L578.6 618.6L578.9 619.7L579.2 619.1L579.6 619.5L579.9 618.9L580.2 619.0L580.6 619.1L580.9 618.7L581.2 619.0L581.6 618.2L581.9 618.5L582.2 619.4L582.6 618.1L582.9 617.4L583.2 619.0L583.6 619.9L583.9 618.6L584.2 618.8L584.6 618.8L584.9 619.5L585.2 618.2L585.6 618.9L585.9 618.9L586.2 620.0L586.6 619.1L586.9 618.7L587.2 618.5L587.5 618.5L587.9 618.0L588.2 618.5L588.5 619.0L588.8 619.5L589.2 619.1L589.5 620.1L589.8 619.7L590.1 620.1L590.5 621.5L590.8 620.2L591.1 621.0L591.4 621.8L591.7 621.0L592.0 621.6L592.3 622.3L592.6 622.7L592.9 623.2L593.2 623.5L593.5 624.1L593.8 623.6L594.2 623.5L594.5 624.2L594.8 624.7L595.1 623.8L595.4 624.7L595.8 624.7L596.1 624.6L596.4 624.7L596.7 625.3L597.1 625.3L597.4 625.5L597.7 625.0L598.1 625.4L598.4 625.5L598.7 625.4L599.0 624.8L599.4 626.1L599.7 626.1L600.0 625.4L600.4 626.2L600.7 624.9L601.0 625.5L601.4 624.9L601.7 624.3L602.0 625.4L602.4 625.1L602.7 625.4L603.0 626.0L603.4 626.2L603.7 625.6L604.0 625.7L604.4 625.9L604.7 625.6L605.0 625.0L605.4 625.7L605.7 625.5L606.0 626.8L606.4 625.1L606.7 626.1L607.0 626.2L607.4 625.3L607.7 626.5L608.0 626.3L608.4 626.4L608.7 626.4L609.0 625.6L609.4 624.7L609.7 626.1L610.0 625.8L610.4 624.5L610.7 624.4L611.0 624.8L611.4 625.0L611.7 624.7L612.0 624.6L612.4 624.7L612.7 625.3L613.0 625.5L613.3 624.7L613.7 625.4L614.0 624.4L614.3 623.8L614.7 625.0L615.0 624.6L615.3 624.5L615.7 624.7L616.0 625.4L616.3 625.5L616.7 624.8L617.0 624.7L617.3 625.5L617.6 624.9L618.0 624.4L618.3 624.2L618.6 624.3L619.0 624.3L619.3 624.3L619.6 623.8L620.0 625.3L620.3 625.8L620.6 624.4L621.0 623.8L621.3 624.7L621.6 622.9L621.9 623.6L622.3 624.0L622.6 624.7L622.9 624.9L623.3 624.3L623.6 624.7L623.9 623.8L624.3 623.8L624.6 624.0L624.9 624.6L625.3 624.2L625.6 624.8L625.9 623.6L626.3 624.4L626.6 624.7L626.9 623.8L627.3 624.9L627.6 624.2L627.9 623.8L628.3 624.6L628.6 624.0L628.9 624.7L629.3 623.1L629.6 624.2L629.9 624.8L630.3 623.2L630.6 625.3L630.9 624.0L631.3 625.1L631.6 624.0L631.9 624.8L632.3 624.7L632.6 624.6L632.9 623.4L633.3 624.6L633.6 623.3L633.9 624.5L634.3 624.4L634.6 624.1L634.9 624.3L635.3 623.8L635.6 625.0L635.9 624.3L636.3 625.1L636.6 625.6L636.9 624.9L637.3 625.2L637.6 623.8L637.9 623.7L638.3 624.8L638.6 623.7L638.9 625.1L639.3 624.3L639.6 625.6L639.9 624.6L640.2 624.6L640.6 625.8L640.9 625.1L641.2 625.0L641.6 625.2L641.9 624.1L642.2 623.7L642.6 625.6L642.9 624.2L643.2 624.5L643.6 623.8L643.9 625.0L644.2 623.5L644.6 624.6L644.9 625.0L645.2 625.2L645.6 625.2L645.9 624.4L646.2 624.9L646.6 624.2L646.9 625.1L647.2 625.5L647.6 624.6L647.9 625.4L648.2 624.9L648.6 624.6L648.9 624.9L649.2 624.7L649.6 624.6L649.9 624.6L650.2 626.2L650.6 624.4L650.9 624.8L651.2 625.5L651.6 624.4L651.9 624.7L652.2 625.2L652.6 624.5L652.9 624.8L653.2 624.5L653.6 624.5L653.9 624.4L654.2 623.8L654.5 625.3L654.9 624.8L655.2 624.6L655.5 624.2L655.9 624.5L656.2 624.6L656.5 623.5L656.9 625.4L657.2 624.8L657.5 624.4L657.9 624.8L658.2 624.9L658.5 625.3L658.9 624.9L659.2 625.7L659.5 624.7L659.9 625.5L660.2 624.9L660.5 625.0L660.9 625.6L661.2 625.4L661.5 625.1L661.8 625.6L662.2 625.0L662.5 624.7L662.8 625.9L663.2 625.3L663.5 624.1L663.8 625.4L664.2 625.2L664.5 625.9L664.8 625.4L665.2 626.2L665.5 625.9L665.8 624.3L666.2 626.6L666.5 625.8L666.8 625.8L667.2 626.5L667.5 625.2L667.8 625.6L668.2 625.0L668.5 626.4L668.8 626.2L669.2 626.3L669.5 624.6L669.8 624.4L670.2 625.9L670.5 626.9L670.8 626.1L671.1 625.7L671.5 625.7L671.8 624.8L672.1 626.4L672.5 625.5L672.8 625.4L673.1 625.6L673.5 625.3L673.8 624.9L674.1 625.4L674.5 625.8L674.8 625.3L675.1 625.4L675.5 626.4L675.8 626.3L676.1 625.7L676.5 625.8L676.8 627.3L677.1 624.3L677.5 627.6L677.8 626.2L678.1 625.5L678.5 625.3L678.8 625.1L679.1 625.2L679.5 625.5L679.8 626.5L680.1 626.2L680.5 625.7L680.8 626.6L681.1 625.3L681.5 626.2L681.8 625.6L682.1 626.4L682.5 625.0L682.8 625.3L683.1 626.6L683.5 625.6L683.8 626.1L684.1 625.9L684.5 626.1L684.8 624.6L685.1 624.8L685.5 624.3L685.8 625.6L686.1 624.3L686.5 626.1L686.8 624.9L687.1 625.0L687.5 625.9L687.8 626.7L688.1 625.9L688.5 625.4L688.8 626.6L689.1 625.5L689.5 625.3L689.8 625.0L690.1 625.3L690.5 626.1L690.8 625.0L691.1 625.8L691.5 624.9L691.8 625.9L692.1 624.6L692.5 625.7L692.8 626.1L693.1 624.6L693.5 625.3L693.8 625.1L694.1 625.6L694.5 626.2L694.8 625.3L695.1 624.8L695.5 627.4L695.8 625.5L696.1 625.6L696.5 625.8L696.8 626.3L697.1 625.2L697.5 625.8L697.8 625.7L698.1 626.1L698.5 625.2L698.8 625.2L699.1 624.9L699.5 626.1L699.8 625.6L700.1 626.5L700.5 625.0L700.8 626.8L701.1 625.0L701.5 625.6L701.8 626.3L702.1 625.1L702.5 625.9L702.8 626.4L703.1 624.0L703.5 624.6L703.8 625.4L704.1 625.3L704.5 625.6L704.8 625.8L705.1 624.2L705.5 625.8L705.8 625.6L706.1 624.8L706.4 625.6L706.8 625.8L707.1 624.9L707.4 624.8L707.8 625.4L708.1 625.3L708.4 626.2L708.8 624.6L709.1 624.5L709.4 624.7L709.8 625.9L710.1 625.5L710.4 626.2L710.8 624.2L711.1 624.5L711.4 624.9L711.8 625.6L712.1 624.3L712.4 625.0L712.7 624.9L713.1 624.7L713.4 624.7L713.7 625.2L714.1 625.3L714.4 624.4L714.7 625.3L715.1 625.2L715.4 625.0L715.7 624.2L716.1 625.2L716.4 624.3L716.7 624.4L717.1 625.5L717.4 625.3L717.7 625.1L718.1 624.9L718.4 625.4L718.7 624.9L719.1 625.1L719.4 623.8L719.7 623.4L720.1 624.5L720.4 624.4L720.7 624.0L721.1 625.0L721.4 624.1L721.7 625.0L722.1 625.6L722.4 624.2L722.7 624.4L723.1 624.2L723.4 623.1L723.7 624.2L724.1 624.0L724.4 624.1L724.7 624.0L725.0 624.0L725.4 625.0L725.7 624.3L726.0 623.2L726.4 624.9L726.7 624.9L727.0 625.2L727.4 624.5L727.7 624.3L728.0 624.9L728.4 624.8L728.7 624.3L729.0 624.7L729.4 624.9L729.7 625.7L730.0 624.6L730.4 624.7L730.7 623.4L731.0 624.0L731.4 623.8L731.7 623.6L732.0 623.1L732.4 625.1L732.7 625.2L733.0 624.5L733.4 623.9L733.7 624.1L734.0 624.7L734.4 624.2L734.7 623.4L735.0 624.1L735.4 623.7L735.7 624.2L736.0 624.1L736.4 624.6L736.7 624.6L737.0 623.8L737.4 624.3L737.7 624.0L738.0 625.0L738.4 624.6L738.7 624.3L739.0 624.2L739.4 623.6L739.7 623.7L740.0 623.4L740.4 624.9L740.7 625.0L741.0 624.8L741.4 623.8L741.7 622.8L742.0 624.9L742.3 624.3L742.7 623.9L743.0 623.7L743.3 624.6L743.7 623.9L744.0 624.4L744.3 622.7L744.7 624.1L745.0 623.5L745.3 624.2L745.7 624.4L746.0 624.8L746.3 623.7L746.7 624.0L747.0 624.4L747.3 623.6L747.7 624.1L748.0 623.5L748.3 623.2L748.7 624.6L749.0 623.5L749.3 623.6L749.7 624.0L750.0 623.7L750.3 623.3L750.7 625.4L751.0 624.4L751.3 623.4L751.7 624.0L752.0 622.6L752.3 622.7L752.6 624.3L753.0 624.1L753.3 623.8L753.6 623.6L754.0 623.8L754.3 623.4L754.6 624.0L755.0 624.1L755.3 623.1L755.6 624.0L756.0 623.5L756.3 623.3L756.6 623.2L757.0 623.8L757.3 623.2L757.6 623.5L758.0 623.4L758.3 622.6L758.6 622.5L759.0 624.0L759.3 623.0L759.6 623.7L759.9 623.1L760.3 623.7L760.6 623.2L760.9 623.4L761.3 623.4L761.6 623.8L761.9 623.9L762.3 624.2L762.6 622.3L762.9 623.7L763.3 622.3L763.6 622.8L763.9 622.8L764.3 623.5L764.6 623.8L764.9 623.0L765.3 623.7L765.6 623.0L765.9 623.3L766.3 622.6L766.6 623.1L766.9 622.8L767.3 621.6L767.6 623.3L767.9 623.4L768.2 621.5L768.6 622.9L768.9 623.1L769.2 623.7L769.6 622.5L769.9 623.5L770.2 623.1L770.6 623.8L770.9 622.6L771.2 622.1L771.6 622.9L771.9 622.7L772.2 621.9L772.6 622.1L772.9 622.9L773.2 622.6L773.6 622.9L773.9 623.3L774.2 622.3L774.6 621.8L774.9 621.7L775.2 622.6L775.6 622.9L775.9 622.3L776.2 622.4L776.6 621.8L776.9 620.9L777.2 621.7L777.5 622.8L777.9 622.8L778.2 622.1L778.5 622.8L778.9 623.6L779.2 623.0L779.5 622.8L779.9 624.0L780.2 622.0L780.5 622.4L780.9 622.8L781.2 621.0L781.5 621.5L781.9 622.3L782.2 623.4L782.5 622.7L782.9 622.2L783.2 622.5L783.5 621.9L783.9 621.8L784.2 621.7L784.5 623.1L784.9 622.1L785.2 622.3L785.5 621.2L785.9 621.7L786.2 621.5L786.5 622.2L786.8 622.3L787.2 621.6L787.5 622.0L787.8 621.9L788.2 621.1L788.5 621.5L788.8 622.1L789.2 622.7L789.5 621.5L789.8 621.2L790.2 622.3L790.5 621.8L790.8 622.7L791.2 621.5L791.5 622.6L791.8 622.2L792.2 621.2L792.5 622.1L792.8 621.8L793.2 621.8L793.5 622.5L793.8 620.3L794.1 620.8L794.5 621.5L794.8 620.8L795.1 621.5L795.5 620.9L795.8 622.1L796.1 620.6L796.5 621.7L796.8 621.9L797.1 621.5L797.5 622.2L797.8 620.9L798.1 620.8L798.5 621.2L798.8 620.4L799.1 622.6L799.5 620.9L799.8 621.1L800.1 620.5L800.4 620.1L800.8 621.6L801.1 620.9L801.4 620.6L801.8 622.1L802.1 621.2L802.4 621.5L802.8 620.2L803.1 622.0L803.4 620.7L803.8 620.9L804.1 621.0L804.4 620.2L804.7 620.6L805.1 621.0L805.4 620.2L805.7 621.1L806.1 621.4L806.4 619.6L806.7 620.7L807.1 619.6L807.4 620.5L807.7 620.3L808.0 621.2L808.4 620.6L808.7 620.7L809.0 621.0L809.4 620.4L809.7 619.9L810.0 620.9L810.4 618.6L810.7 619.4L811.0 619.8L811.3 621.3L811.7 621.2L812.0 619.7L812.3 619.7L812.7 619.4L813.0 620.3L813.3 619.4L813.7 619.8L814.0 619.4L814.3 619.5L814.7 618.7L815.0 620.0L815.3 619.1L815.6 620.3L816.0 619.9L816.3 620.5L816.6 619.9L817.0 619.2L817.3 618.8L817.6 618.3L818.0 619.0L818.3 619.5L818.6 619.8L819.0 619.4L819.3 619.5L819.6 618.2L820.0 618.5L820.3 618.9L820.6 619.0L820.9 619.3L821.3 619.3L821.6 619.2L821.9 619.1L822.3 619.8L822.6 619.6L822.9 618.4L823.3 617.7L823.6 619.5L823.9 617.7L824.3 619.4L824.6 619.9L824.9 619.4L825.3 618.8L825.6 619.1L825.9 619.5L826.3 618.8L826.6 619.7L826.9 618.8L827.3 618.5L827.6 618.2L827.9 618.6L828.3 619.9L828.6 618.9L828.9 619.5L829.3 620.2L829.6 618.1L829.9 618.7L830.3 618.9L830.6 619.3L830.9 619.6L831.3 618.3L831.6 619.4L831.9 618.5L832.3 619.3L832.6 618.2L832.9 618.6L833.3 619.7L833.6 619.1L833.9 619.3L834.3 618.7L834.6 620.2L834.9 618.9L835.3 618.6L835.6 619.4L835.9 620.4L836.3 619.0L836.6 619.1L836.9 618.4L837.3 619.0L837.6 619.8L837.9 618.4L838.2 620.8L838.6 620.2L838.9 618.8L839.2 619.3L839.6 619.9L839.9 619.6L840.2 620.0L840.6 619.5L840.9 618.8L841.2 619.7L841.6 620.0L841.9 619.7L842.2 619.8L842.6 620.5L842.9 619.9L843.2 619.4L843.6 620.4L843.9 620.6L844.2 620.4L844.5 618.8L844.9 618.9L845.2 620.4L845.5 619.3L845.9 620.5L846.2 619.7L846.5 621.1L846.9 619.8L847.2 619.8L847.5 619.6L847.9 619.8L848.2 619.7L848.5 620.3L848.9 620.3L849.2 620.1L849.5 620.9L849.8 621.0L850.2 621.7L850.5 621.6L850.8 621.7L851.2 619.7L851.5 620.4L851.8 617.9L852.1 620.5L852.5 620.7L852.8 622.9L853.1 620.6L853.4 620.4L853.7 621.4L854.0 621.1L854.3 621.0L854.6 619.1L854.9 622.9L855.2 628.2L855.5 626.5L855.7 623.0L856.0 631.7L856.3 626.6L856.6 627.3L856.8 629.1L857.1 632.9L857.4 628.2L857.6 636.6L857.9 636.0L858.2 627.1L858.5 633.2L858.7 636.8L859.0 642.1L859.3 638.3L859.5 634.7L859.8 632.8L860.0 633.2L860.3 645.8L860.5 635.8L860.8 642.6L861.1 643.3L861.3 646.1L861.6 642.9L861.9 644.8L862.2 642.6L862.5 641.0L862.8 643.8L863.1 642.0L863.4 649.1L863.8 647.6L864.1 640.6L864.4 644.3L864.7 647.8L865.0 642.4L865.3 638.0L865.6 642.9L865.9 642.7L866.2 641.4L866.5 643.6L866.8 641.1L867.0 640.5L867.3 637.5L867.6 639.8L867.8 640.7L868.0 638.1L868.2 638.3L868.4 633.2L868.7 631.2L868.9 626.9L869.1 631.2L869.3 625.8L869.5 627.7L869.7 622.2L869.9 624.3L870.1 619.2L870.4 619.0L870.6 616.9L870.8 614.1L871.0 613.7L871.2 612.1L871.4 615.9L871.7 609.6L871.9 608.3L872.1 607.6L872.3 608.4L872.6 602.6L872.9 606.4L873.2 603.8L873.4 609.7L873.7 602.8L874.0 602.2L874.3 598.3L874.6 604.4L874.9 599.7L875.3 598.3L875.6 596.2L875.9 597.8L876.2 601.4L876.5 598.5L876.9 603.9L877.2 604.6L877.5 598.8L877.8 599.2L878.1 604.1L878.4 608.7L878.7 604.8L879.0 606.3L879.3 596.6L879.6 599.6L879.9 603.9L880.2 603.0L880.5 604.6L880.8 607.8L881.0 605.6L881.3 609.4L881.6 612.5L881.8 610.0L882.1 608.8L882.3 608.3L882.5 611.8L882.8 615.6L883.0 615.2L883.2 621.1L883.5 611.2L883.7 616.4L883.9 624.1L884.2 618.3L884.4 618.7L884.7 622.4L884.9 625.0L885.2 625.0L885.5 625.3L885.7 622.0L886.0 633.3L886.3 633.4L886.6 626.2L886.8 632.1L887.1 630.7L887.4 629.9L887.7 634.5L888.0 629.2L888.4 630.6L888.7 634.8L889.0 632.9L889.2 628.6L889.5 631.9L889.8 636.6L890.1 627.0L890.4 626.9L890.6 629.2L890.9 626.1L891.2 627.3L891.5 621.0L891.7 625.4L892.0 621.9L892.3 619.5L892.5 624.4L892.8 618.5L893.0 624.9L893.3 619.6L893.6 615.0L893.8 615.5L894.1 614.4L894.4 615.1L894.7 616.5L895.0 615.6L895.3 617.3L895.7 612.1L896.0 616.7L896.3 615.1L896.6 617.8L897.0 616.2L897.3 619.9L897.6 613.0L897.9 618.4L898.3 613.4L898.6 617.1L898.9 615.8L899.3 610.4L899.6 618.9L899.9 617.0L900.2 612.9L900.5 613.3L900.8 610.9L901.1 619.6L901.4 615.8L901.7 617.9L902.0 615.1L902.3 619.1L902.6 620.6L902.9 620.9L903.2 619.6L903.5 618.5L903.8 619.7L904.1 618.6L904.5 617.6L904.8 617.6L905.1 620.4L905.4 621.8L905.8 620.6L906.1 620.9L906.4 620.7L906.7 619.8L907.1 621.7L907.4 620.4L907.7 621.9L908.0 620.6L908.4 620.0L908.7 621.3L909.0 620.6L909.4 622.3L909.7 621.2L910.0 621.0L910.3 621.7L910.7 622.2L911.0 620.9L911.3 621.8L911.7 621.2L912.0 621.7L912.3 621.3L912.7 621.1L913.0 621.6L913.3 621.9L913.6 621.2L914.0 621.6L914.3 621.3L914.6 621.2L915.0 620.4L915.3 621.1L915.6 622.6L916.0 622.3L916.3 623.1L916.6 621.5L917.0 622.3L917.3 621.9L917.6 622.4L918.0 621.8L918.3 622.9L918.6 623.0L918.9 620.7L919.3 623.4L919.6 623.3L919.9 621.4L920.3 622.4L920.6 621.7L920.9 622.3L921.3 622.8L921.6 622.5L921.9 622.2L922.3 622.5L922.6 623.6L922.9 621.8L923.3 621.8L923.6 622.9L923.9 622.9L924.2 622.7L924.6 623.3L924.9 622.6L925.2 621.9L925.6 621.8L925.9 623.0L926.2 622.8L926.6 622.2L926.9 622.7L927.2 623.1L927.6 623.1L927.9 622.1L928.2 622.2L928.6 622.9L928.9 623.0L929.2 623.7L929.5 622.9L929.9 622.7L930.2 623.1L930.5 622.8L930.9 623.7L931.2 622.9L931.5 623.6L931.9 623.7L932.2 622.5L932.5 623.8L932.9 623.4L933.2 623.2L933.5 624.5L933.8 623.2L934.2 623.5L934.5 622.6L934.8 624.0L935.2 623.5L935.5 623.3L935.8 624.1L936.2 624.8L936.5 623.8L936.8 625.1L937.1 624.2L937.5 623.7L937.8 624.6L938.1 623.7L938.5 624.8L938.8 624.2L939.1 623.7L939.5 623.8L939.8 623.9L940.1 624.5L940.5 623.6L940.8 624.5L941.1 624.2" fill="none" stroke="none" marker-start="url(#c)" marker-mid="url(#c)" marker-end="url(#c)"/>
<text transform="translate(17.2 104.5) rotate(-90)" text-anchor="middle" font-family="Liberation Sans, sans-serif" stroke="#000" stroke-width="0.25" font-size="20">C<tspan font-size="14" dy="5.6">L</tspan></text>
<text transform="translate(17.2 368.6) rotate(-90)" text-anchor="middle" font-family="Liberation Sans, sans-serif" stroke="#000" stroke-width="0.25" font-size="20">C<tspan font-size="14" dy="5.6">D</tspan></text>
<text transform="translate(17.2 632.2) rotate(-90)" text-anchor="middle" font-family="Liberation Sans, sans-serif" stroke="#000" stroke-width="0.25" font-size="20">C<tspan font-size="14" dy="5.6">m</tspan></text>
<text x="539" y="785.5" text-anchor="middle" font-family="Liberation Sans, sans-serif" stroke="#000" stroke-width="0.25" font-size="20">Time (S)</text>
<rect x="530" y="276" width="340" height="41" fill="#fff"/>
<path d="M545 297.3H608" stroke="#6d9cc6" stroke-width="1.3"/>
<path d="M570.5 297.3H582.5M576.5 291.3V303.3M572.3 293.1L580.7 301.5M572.3 301.5L580.7 293.1" stroke="#4b98da" stroke-width="0.9"/>
<path d="M574.5 298.3h3M573 301h3M580 301h3M582 297.8h3M576 304h3" stroke="#1d5a8e" stroke-width="1.2"/>
<text x="616" y="303.8" font-family="Liberation Sans, sans-serif" stroke="#000" stroke-width="0.25" font-size="20">Measured</text>
<circle cx="730.2" cy="296.8" r="6" fill="none" stroke="#dc3038" stroke-width="1.2"/>
<text x="746" y="303.8" font-family="Liberation Sans, sans-serif" stroke="#000" stroke-width="0.25" font-size="20">GPR Model</text>
</svg>
</body></html>
